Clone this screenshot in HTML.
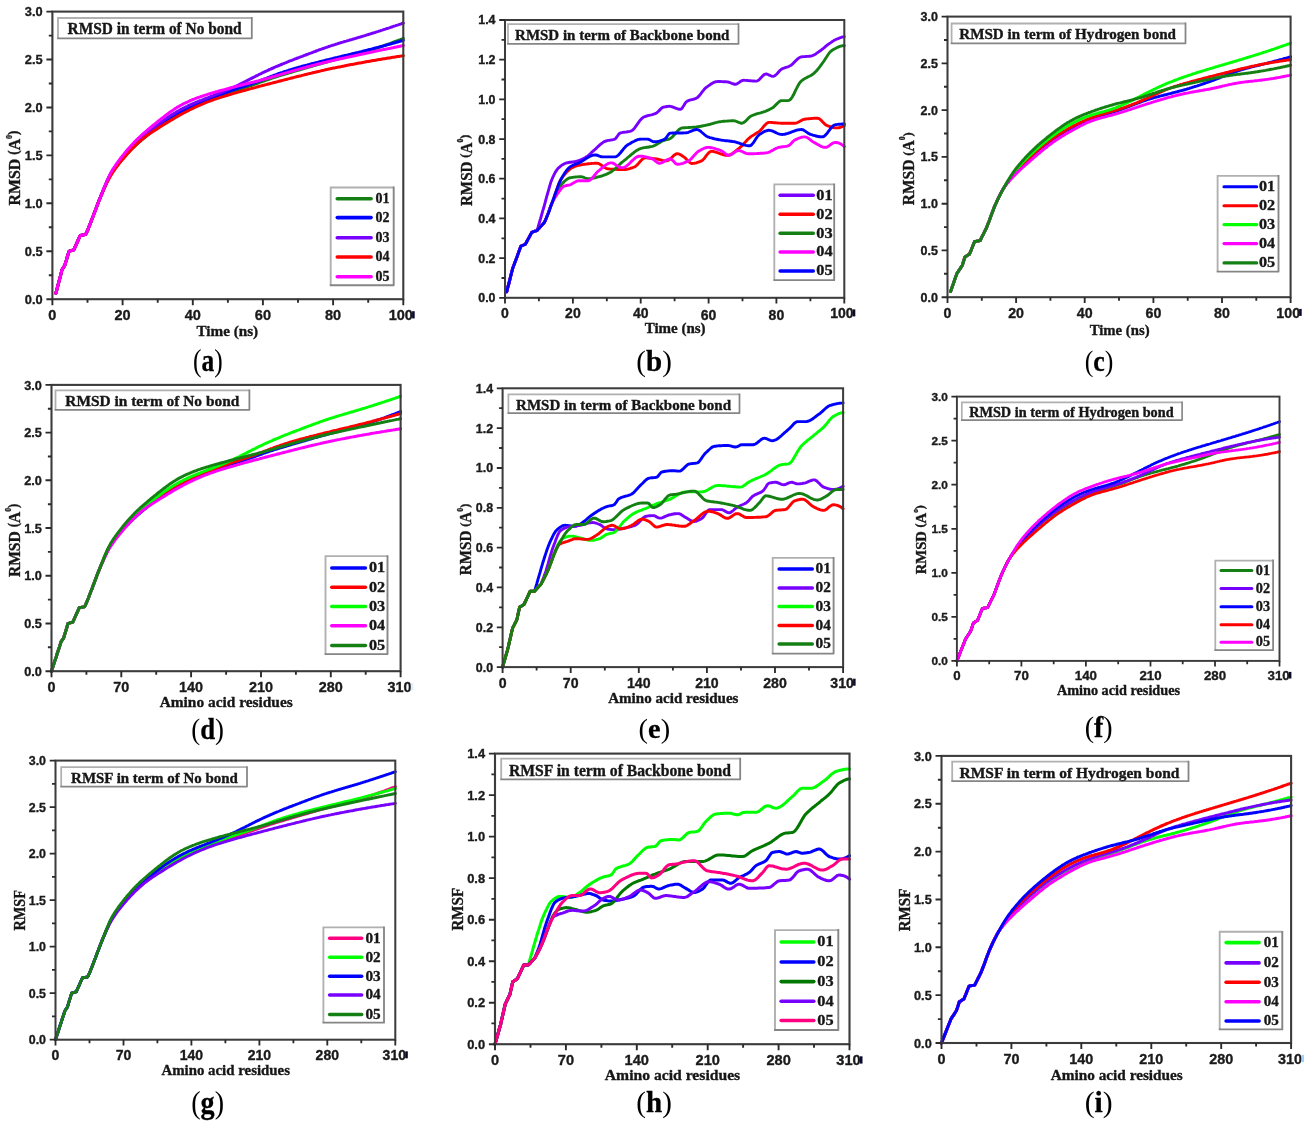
<!DOCTYPE html>
<html><head><meta charset="utf-8"><style>
html,body{margin:0;padding:0;background:#fff;width:1310px;height:1123px;overflow:hidden}
svg{display:block;filter:blur(0.35px)}
text{stroke:currentColor;stroke-width:0.35px;paint-order:stroke}
</style></head><body>
<svg width="1310" height="1123" viewBox="0 0 1310 1123">
<rect width="1310" height="1123" fill="#fff"/>
<path d="M55.9,293.2 L57.1,288.7 L58.2,284.3 L59.4,279.8 L60.6,275.3 L61.7,270.9 L62.1,269.5 L62.9,268.3 L64.0,266.6 L64.7,265.6 L65.2,263.9 L66.4,260.1 L67.5,256.2 L68.7,252.4 L69.0,251.3 L69.9,251.0 L71.0,250.7 L72.2,250.3 L73.3,250.0 L73.8,249.8 L74.5,248.3 L75.7,245.7 L76.8,243.1 L78.0,240.5 L79.1,237.9 L80.3,235.4 L80.3,235.4 L81.5,235.2 L82.6,235.0 L83.8,234.8 L85.0,234.6 L85.6,234.5 L86.1,233.4 L87.3,231.0 L87.7,230.2 L88.4,228.3 L89.6,225.3 L90.8,222.3 L91.9,219.3 L93.1,216.3 L93.1,216.3 L94.2,213.3 L95.4,210.2 L96.6,207.0 L97.7,203.9 L98.9,200.9 L100.1,198.0 L101.2,195.2 L102.4,192.5 L103.5,189.8 L104.7,187.1 L105.9,184.4 L107.0,181.9 L108.2,179.4 L109.4,177.2 L110.5,175.1 L111.7,173.2 L112.8,171.4 L114.0,169.7 L115.2,168.1 L116.3,166.5 L117.5,165.0 L118.6,163.5 L119.8,162.0 L121.0,160.6 L122.1,159.2 L123.3,157.9 L124.5,156.6 L125.6,155.3 L126.8,154.1 L127.9,152.9 L129.1,151.7 L130.3,150.5 L131.4,149.4 L132.6,148.2 L133.8,147.1 L134.9,146.1 L136.1,145.0 L137.2,144.0 L138.4,142.9 L139.6,141.9 L140.7,140.9 L141.9,139.9 L143.0,138.9 L144.2,138.0 L145.4,137.0 L146.5,136.0 L147.7,135.1 L148.9,134.1 L150.0,133.1 L151.2,132.2 L152.3,131.2 L153.5,130.2 L154.7,129.3 L155.8,128.4 L157.0,127.4 L158.2,126.5 L159.3,125.6 L160.5,124.8 L161.6,123.9 L162.8,123.1 L164.0,122.3 L165.1,121.5 L166.3,120.7 L167.4,120.0 L168.6,119.2 L169.8,118.5 L170.9,117.8 L172.1,117.2 L173.3,116.5 L174.4,115.9 L175.6,115.2 L176.7,114.6 L177.9,114.0 L179.1,113.4 L180.2,112.8 L181.4,112.3 L182.5,111.7 L183.7,111.1 L184.9,110.6 L186.0,110.0 L187.2,109.5 L188.4,108.9 L189.5,108.4 L190.7,107.9 L191.8,107.3 L193.0,106.8 L194.2,106.3 L195.3,105.8 L196.5,105.3 L197.7,104.8 L198.8,104.3 L200.0,103.8 L201.1,103.3 L202.3,102.8 L203.5,102.3 L204.6,101.9 L205.8,101.4 L206.9,100.9 L208.1,100.5 L209.3,100.0 L210.4,99.5 L211.6,99.1 L212.8,98.6 L213.9,98.2 L215.1,97.8 L216.2,97.3 L217.4,96.9 L218.6,96.5 L219.7,96.0 L220.9,95.6 L222.1,95.2 L223.2,94.8 L224.4,94.4 L225.5,93.9 L226.7,93.5 L227.9,93.1 L229.0,92.7 L230.2,92.3 L231.3,91.9 L232.5,91.6 L233.7,91.2 L234.8,90.8 L236.0,90.4 L237.2,90.0 L238.3,89.6 L239.5,89.3 L240.6,88.9 L241.8,88.5 L243.0,88.1 L244.1,87.8 L245.3,87.4 L246.5,87.0 L247.6,86.6 L248.8,86.3 L249.9,85.9 L251.1,85.5 L252.3,85.1 L253.4,84.7 L254.6,84.3 L255.7,83.9 L256.9,83.5 L258.1,83.1 L259.2,82.6 L260.4,82.2 L261.6,81.8 L262.7,81.4 L263.9,81.0 L265.0,80.6 L266.2,80.2 L267.4,79.8 L268.5,79.4 L269.7,79.0 L270.8,78.6 L272.0,78.2 L273.2,77.8 L274.3,77.4 L275.5,77.0 L276.7,76.7 L277.8,76.3 L279.0,75.9 L280.1,75.6 L281.3,75.2 L282.5,74.9 L283.6,74.5 L284.8,74.2 L286.0,73.8 L287.1,73.5 L288.3,73.1 L289.4,72.8 L290.6,72.5 L291.8,72.1 L292.9,71.8 L294.1,71.4 L295.2,71.1 L296.4,70.7 L297.6,70.4 L298.7,70.0 L299.9,69.7 L301.1,69.4 L302.2,69.0 L303.4,68.7 L304.5,68.3 L305.7,68.0 L306.9,67.7 L308.0,67.3 L309.2,67.0 L310.4,66.6 L311.5,66.3 L312.7,66.0 L313.8,65.6 L315.0,65.3 L316.2,65.0 L317.3,64.6 L318.5,64.3 L319.6,64.0 L320.8,63.7 L322.0,63.3 L323.1,63.0 L324.3,62.7 L325.5,62.4 L326.6,62.0 L327.8,61.7 L328.9,61.4 L330.1,61.1 L331.3,60.8 L332.4,60.5 L333.6,60.1 L334.8,59.8 L335.9,59.5 L337.1,59.2 L338.2,58.9 L339.4,58.6 L340.6,58.3 L341.7,58.0 L342.9,57.7 L344.0,57.4 L345.2,57.1 L346.4,56.8 L347.5,56.5 L348.7,56.2 L349.9,55.9 L351.0,55.6 L352.2,55.3 L353.3,55.0 L354.5,54.7 L355.7,54.4 L356.8,54.1 L358.0,53.7 L359.1,53.4 L360.3,53.1 L361.5,52.8 L362.6,52.4 L363.8,52.1 L365.0,51.8 L366.1,51.4 L367.3,51.1 L368.4,50.7 L369.6,50.4 L370.8,50.0 L371.9,49.7 L373.1,49.3 L374.3,48.9 L375.4,48.5 L376.6,48.2 L377.7,47.8 L378.9,47.4 L380.1,47.0 L381.2,46.6 L382.4,46.2 L383.5,45.8 L384.7,45.4 L385.9,45.0 L387.0,44.5 L388.2,44.1 L389.4,43.7 L390.5,43.3 L391.7,42.8 L392.8,42.4 L394.0,42.0 L395.2,41.5 L396.3,41.1 L397.5,40.7 L398.7,40.2 L399.8,39.8 L401.0,39.3 L402.1,38.9 L403.3,38.4" fill="none" stroke="#148014" stroke-width="3.00" stroke-linejoin="round" stroke-linecap="round"/>
<path d="M55.9,293.2 L57.1,288.7 L58.2,284.3 L59.4,279.8 L60.6,275.3 L61.7,270.9 L62.1,269.5 L62.9,268.3 L64.0,266.6 L64.7,265.6 L65.2,263.9 L66.4,260.1 L67.5,256.2 L68.7,252.4 L69.0,251.3 L69.9,251.0 L71.0,250.7 L72.2,250.3 L73.3,250.0 L73.8,249.8 L74.5,248.3 L75.7,245.7 L76.8,243.1 L78.0,240.5 L79.1,237.9 L80.3,235.4 L80.3,235.4 L81.5,235.2 L82.6,235.0 L83.8,234.8 L85.0,234.6 L85.6,234.5 L86.1,233.4 L87.3,231.0 L87.7,230.2 L88.4,228.3 L89.6,225.3 L90.8,222.3 L91.9,219.3 L93.1,216.3 L93.1,216.3 L94.2,213.3 L95.4,210.2 L96.6,207.1 L97.7,204.0 L98.9,200.9 L100.1,198.0 L101.2,195.2 L102.4,192.4 L103.5,189.5 L104.7,186.7 L105.9,184.0 L107.0,181.3 L108.2,178.7 L109.4,176.4 L110.5,174.2 L111.7,172.3 L112.8,170.5 L114.0,168.8 L115.2,167.2 L116.3,165.7 L117.5,164.1 L118.6,162.7 L119.8,161.3 L121.0,159.9 L122.1,158.5 L123.3,157.2 L124.5,155.9 L125.6,154.7 L126.8,153.5 L127.9,152.3 L129.1,151.1 L130.3,149.9 L131.4,148.8 L132.6,147.6 L133.8,146.5 L134.9,145.4 L136.1,144.3 L137.2,143.3 L138.4,142.2 L139.6,141.2 L140.7,140.2 L141.9,139.2 L143.0,138.2 L144.2,137.2 L145.4,136.2 L146.5,135.2 L147.7,134.2 L148.9,133.2 L150.0,132.2 L151.2,131.3 L152.3,130.3 L153.5,129.3 L154.7,128.4 L155.8,127.4 L157.0,126.5 L158.2,125.6 L159.3,124.7 L160.5,123.8 L161.6,122.9 L162.8,122.1 L164.0,121.3 L165.1,120.5 L166.3,119.7 L167.4,119.0 L168.6,118.3 L169.8,117.6 L170.9,116.9 L172.1,116.2 L173.3,115.5 L174.4,114.9 L175.6,114.3 L176.7,113.7 L177.9,113.1 L179.1,112.5 L180.2,111.9 L181.4,111.3 L182.5,110.7 L183.7,110.2 L184.9,109.6 L186.0,109.1 L187.2,108.5 L188.4,108.0 L189.5,107.4 L190.7,106.9 L191.8,106.4 L193.0,105.9 L194.2,105.4 L195.3,104.8 L196.5,104.3 L197.7,103.8 L198.8,103.3 L200.0,102.8 L201.1,102.4 L202.3,101.9 L203.5,101.4 L204.6,100.9 L205.8,100.4 L206.9,100.0 L208.1,99.5 L209.3,99.0 L210.4,98.6 L211.6,98.1 L212.8,97.6 L213.9,97.2 L215.1,96.7 L216.2,96.3 L217.4,95.8 L218.6,95.4 L219.7,94.9 L220.9,94.5 L222.1,94.0 L223.2,93.6 L224.4,93.1 L225.5,92.7 L226.7,92.3 L227.9,91.9 L229.0,91.4 L230.2,91.0 L231.3,90.6 L232.5,90.2 L233.7,89.8 L234.8,89.4 L236.0,89.0 L237.2,88.6 L238.3,88.2 L239.5,87.8 L240.6,87.5 L241.8,87.1 L243.0,86.7 L244.1,86.3 L245.3,86.0 L246.5,85.6 L247.6,85.2 L248.8,84.8 L249.9,84.4 L251.1,84.0 L252.3,83.6 L253.4,83.2 L254.6,82.8 L255.7,82.3 L256.9,81.9 L258.1,81.5 L259.2,81.0 L260.4,80.6 L261.6,80.1 L262.7,79.7 L263.9,79.2 L265.0,78.8 L266.2,78.3 L267.4,77.9 L268.5,77.4 L269.7,77.0 L270.8,76.5 L272.0,76.1 L273.2,75.7 L274.3,75.2 L275.5,74.8 L276.7,74.4 L277.8,74.0 L279.0,73.5 L280.1,73.1 L281.3,72.7 L282.5,72.3 L283.6,71.9 L284.8,71.5 L286.0,71.2 L287.1,70.8 L288.3,70.4 L289.4,70.0 L290.6,69.7 L291.8,69.3 L292.9,69.0 L294.1,68.6 L295.2,68.3 L296.4,67.9 L297.6,67.6 L298.7,67.3 L299.9,67.0 L301.1,66.6 L302.2,66.3 L303.4,66.0 L304.5,65.7 L305.7,65.4 L306.9,65.1 L308.0,64.8 L309.2,64.5 L310.4,64.1 L311.5,63.8 L312.7,63.5 L313.8,63.3 L315.0,63.0 L316.2,62.7 L317.3,62.4 L318.5,62.1 L319.6,61.8 L320.8,61.5 L322.0,61.2 L323.1,60.9 L324.3,60.6 L325.5,60.3 L326.6,60.0 L327.8,59.7 L328.9,59.5 L330.1,59.2 L331.3,58.9 L332.4,58.6 L333.6,58.3 L334.8,58.0 L335.9,57.7 L337.1,57.5 L338.2,57.2 L339.4,56.9 L340.6,56.6 L341.7,56.3 L342.9,56.1 L344.0,55.8 L345.2,55.5 L346.4,55.2 L347.5,55.0 L348.7,54.7 L349.9,54.4 L351.0,54.1 L352.2,53.8 L353.3,53.6 L354.5,53.3 L355.7,53.0 L356.8,52.7 L358.0,52.5 L359.1,52.2 L360.3,51.9 L361.5,51.6 L362.6,51.3 L363.8,51.0 L365.0,50.7 L366.1,50.4 L367.3,50.1 L368.4,49.8 L369.6,49.5 L370.8,49.3 L371.9,49.0 L373.1,48.6 L374.3,48.3 L375.4,48.0 L376.6,47.7 L377.7,47.4 L378.9,47.1 L380.1,46.8 L381.2,46.5 L382.4,46.2 L383.5,45.9 L384.7,45.5 L385.9,45.2 L387.0,44.9 L388.2,44.6 L389.4,44.3 L390.5,44.0 L391.7,43.6 L392.8,43.3 L394.0,43.0 L395.2,42.7 L396.3,42.3 L397.5,42.0 L398.7,41.7 L399.8,41.3 L401.0,41.0 L402.1,40.7 L403.3,40.3" fill="none" stroke="#0000ff" stroke-width="3.00" stroke-linejoin="round" stroke-linecap="round"/>
<path d="M55.9,293.2 L57.1,288.7 L58.2,284.3 L59.4,279.8 L60.6,275.3 L61.7,270.9 L62.1,269.5 L62.9,268.3 L64.0,266.6 L64.7,265.6 L65.2,263.9 L66.4,260.1 L67.5,256.2 L68.7,252.4 L69.0,251.3 L69.9,251.0 L71.0,250.7 L72.2,250.3 L73.3,250.0 L73.8,249.8 L74.5,248.3 L75.7,245.7 L76.8,243.1 L78.0,240.5 L79.1,237.9 L80.3,235.4 L80.3,235.4 L81.5,235.2 L82.6,235.0 L83.8,234.8 L85.0,234.6 L85.6,234.5 L86.1,233.4 L87.3,231.0 L87.7,230.2 L88.4,228.3 L89.6,225.3 L90.8,222.3 L91.9,219.3 L93.1,216.3 L93.1,216.3 L94.2,213.3 L95.4,210.2 L96.6,207.1 L97.7,204.0 L98.9,200.9 L100.1,198.0 L101.2,195.2 L102.4,192.4 L103.5,189.6 L104.7,186.8 L105.9,184.0 L107.0,181.3 L108.2,178.8 L109.4,176.4 L110.5,174.3 L111.7,172.3 L112.8,170.5 L114.0,168.7 L115.2,167.1 L116.3,165.4 L117.5,163.8 L118.6,162.3 L119.8,160.8 L121.0,159.4 L122.1,158.0 L123.3,156.6 L124.5,155.3 L125.6,154.0 L126.8,152.7 L127.9,151.5 L129.1,150.3 L130.3,149.1 L131.4,147.9 L132.6,146.7 L133.8,145.6 L134.9,144.5 L136.1,143.4 L137.2,142.3 L138.4,141.3 L139.6,140.3 L140.7,139.2 L141.9,138.2 L143.0,137.2 L144.2,136.2 L145.4,135.2 L146.5,134.2 L147.7,133.2 L148.9,132.2 L150.0,131.3 L151.2,130.3 L152.3,129.3 L153.5,128.3 L154.7,127.4 L155.8,126.4 L157.0,125.5 L158.2,124.6 L159.3,123.6 L160.5,122.7 L161.6,121.8 L162.8,121.0 L164.0,120.1 L165.1,119.3 L166.3,118.5 L167.4,117.6 L168.6,116.9 L169.8,116.1 L170.9,115.3 L172.1,114.6 L173.3,113.9 L174.4,113.2 L175.6,112.5 L176.7,111.8 L177.9,111.1 L179.1,110.5 L180.2,109.8 L181.4,109.2 L182.5,108.6 L183.7,108.0 L184.9,107.4 L186.0,106.8 L187.2,106.3 L188.4,105.7 L189.5,105.2 L190.7,104.7 L191.8,104.1 L193.0,103.6 L194.2,103.1 L195.3,102.6 L196.5,102.2 L197.7,101.7 L198.8,101.2 L200.0,100.7 L201.1,100.3 L202.3,99.8 L203.5,99.4 L204.6,98.9 L205.8,98.5 L206.9,98.0 L208.1,97.6 L209.3,97.1 L210.4,96.7 L211.6,96.2 L212.8,95.8 L213.9,95.3 L215.1,94.9 L216.2,94.4 L217.4,93.9 L218.6,93.5 L219.7,93.0 L220.9,92.6 L222.1,92.1 L223.2,91.6 L224.4,91.2 L225.5,90.7 L226.7,90.2 L227.9,89.7 L229.0,89.2 L230.2,88.7 L231.3,88.2 L232.5,87.7 L233.7,87.2 L234.8,86.6 L236.0,86.1 L237.2,85.5 L238.3,85.0 L239.5,84.4 L240.6,83.9 L241.8,83.3 L243.0,82.7 L244.1,82.1 L245.3,81.5 L246.5,80.9 L247.6,80.3 L248.8,79.7 L249.9,79.1 L251.1,78.5 L252.3,78.0 L253.4,77.4 L254.6,76.8 L255.7,76.2 L256.9,75.6 L258.1,75.0 L259.2,74.4 L260.4,73.9 L261.6,73.3 L262.7,72.7 L263.9,72.2 L265.0,71.6 L266.2,71.1 L267.4,70.6 L268.5,70.0 L269.7,69.5 L270.8,69.0 L272.0,68.5 L273.2,68.0 L274.3,67.4 L275.5,66.9 L276.7,66.4 L277.8,66.0 L279.0,65.5 L280.1,65.0 L281.3,64.5 L282.5,64.0 L283.6,63.5 L284.8,63.1 L286.0,62.6 L287.1,62.1 L288.3,61.7 L289.4,61.2 L290.6,60.7 L291.8,60.3 L292.9,59.8 L294.1,59.4 L295.2,58.9 L296.4,58.5 L297.6,58.0 L298.7,57.6 L299.9,57.1 L301.1,56.7 L302.2,56.3 L303.4,55.8 L304.5,55.4 L305.7,55.0 L306.9,54.5 L308.0,54.1 L309.2,53.6 L310.4,53.2 L311.5,52.8 L312.7,52.3 L313.8,51.9 L315.0,51.5 L316.2,51.0 L317.3,50.6 L318.5,50.2 L319.6,49.7 L320.8,49.3 L322.0,48.9 L323.1,48.5 L324.3,48.1 L325.5,47.7 L326.6,47.3 L327.8,46.9 L328.9,46.5 L330.1,46.1 L331.3,45.7 L332.4,45.3 L333.6,45.0 L334.8,44.6 L335.9,44.2 L337.1,43.9 L338.2,43.5 L339.4,43.1 L340.6,42.8 L341.7,42.4 L342.9,42.1 L344.0,41.7 L345.2,41.4 L346.4,41.1 L347.5,40.7 L348.7,40.4 L349.9,40.0 L351.0,39.7 L352.2,39.4 L353.3,39.0 L354.5,38.7 L355.7,38.3 L356.8,38.0 L358.0,37.6 L359.1,37.3 L360.3,37.0 L361.5,36.6 L362.6,36.3 L363.8,35.9 L365.0,35.6 L366.1,35.2 L367.3,34.8 L368.4,34.5 L369.6,34.1 L370.8,33.8 L371.9,33.4 L373.1,33.0 L374.3,32.7 L375.4,32.3 L376.6,31.9 L377.7,31.6 L378.9,31.2 L380.1,30.8 L381.2,30.4 L382.4,30.1 L383.5,29.7 L384.7,29.3 L385.9,28.9 L387.0,28.5 L388.2,28.2 L389.4,27.8 L390.5,27.4 L391.7,27.0 L392.8,26.6 L394.0,26.2 L395.2,25.8 L396.3,25.4 L397.5,25.1 L398.7,24.7 L399.8,24.3 L401.0,23.9 L402.1,23.5 L403.3,23.1" fill="none" stroke="#7800ff" stroke-width="3.00" stroke-linejoin="round" stroke-linecap="round"/>
<path d="M55.9,293.2 L57.1,288.7 L58.2,284.3 L59.4,279.8 L60.6,275.3 L61.7,270.9 L62.1,269.5 L62.9,268.3 L64.0,266.6 L64.7,265.6 L65.2,263.9 L66.4,260.1 L67.5,256.2 L68.7,252.4 L69.0,251.3 L69.9,251.0 L71.0,250.7 L72.2,250.3 L73.3,250.0 L73.8,249.8 L74.5,248.3 L75.7,245.7 L76.8,243.1 L78.0,240.5 L79.1,237.9 L80.3,235.4 L80.3,235.4 L81.5,235.2 L82.6,235.0 L83.8,234.8 L85.0,234.6 L85.6,234.5 L86.1,233.4 L87.3,231.0 L87.7,230.2 L88.4,228.3 L89.6,225.3 L90.8,222.3 L91.9,219.3 L93.1,216.3 L93.1,216.3 L94.2,213.3 L95.4,210.2 L96.6,207.0 L97.7,203.9 L98.9,200.8 L100.1,198.0 L101.2,195.3 L102.4,192.6 L103.5,190.0 L104.7,187.4 L105.9,184.9 L107.0,182.5 L108.2,180.2 L109.4,178.0 L110.5,176.0 L111.7,174.1 L112.8,172.3 L114.0,170.6 L115.2,169.0 L116.3,167.4 L117.5,165.9 L118.6,164.4 L119.8,162.9 L121.0,161.4 L122.1,160.0 L123.3,158.7 L124.5,157.3 L125.6,156.0 L126.8,154.6 L127.9,153.3 L129.1,152.1 L130.3,150.8 L131.4,149.5 L132.6,148.3 L133.8,147.1 L134.9,146.0 L136.1,144.8 L137.2,143.7 L138.4,142.6 L139.6,141.6 L140.7,140.5 L141.9,139.6 L143.0,138.6 L144.2,137.7 L145.4,136.8 L146.5,135.9 L147.7,135.1 L148.9,134.2 L150.0,133.4 L151.2,132.7 L152.3,131.9 L153.5,131.1 L154.7,130.4 L155.8,129.7 L157.0,128.9 L158.2,128.2 L159.3,127.5 L160.5,126.7 L161.6,126.0 L162.8,125.3 L164.0,124.5 L165.1,123.8 L166.3,123.1 L167.4,122.4 L168.6,121.7 L169.8,121.0 L170.9,120.3 L172.1,119.6 L173.3,118.9 L174.4,118.2 L175.6,117.5 L176.7,116.8 L177.9,116.2 L179.1,115.5 L180.2,114.9 L181.4,114.2 L182.5,113.6 L183.7,113.0 L184.9,112.4 L186.0,111.8 L187.2,111.2 L188.4,110.6 L189.5,110.0 L190.7,109.4 L191.8,108.8 L193.0,108.3 L194.2,107.7 L195.3,107.2 L196.5,106.6 L197.7,106.1 L198.8,105.6 L200.0,105.1 L201.1,104.6 L202.3,104.1 L203.5,103.6 L204.6,103.1 L205.8,102.6 L206.9,102.2 L208.1,101.7 L209.3,101.3 L210.4,100.9 L211.6,100.4 L212.8,100.0 L213.9,99.6 L215.1,99.2 L216.2,98.8 L217.4,98.4 L218.6,98.1 L219.7,97.7 L220.9,97.3 L222.1,96.9 L223.2,96.6 L224.4,96.2 L225.5,95.9 L226.7,95.5 L227.9,95.2 L229.0,94.8 L230.2,94.5 L231.3,94.1 L232.5,93.8 L233.7,93.4 L234.8,93.1 L236.0,92.8 L237.2,92.4 L238.3,92.1 L239.5,91.8 L240.6,91.5 L241.8,91.1 L243.0,90.8 L244.1,90.5 L245.3,90.2 L246.5,89.9 L247.6,89.5 L248.8,89.2 L249.9,88.9 L251.1,88.6 L252.3,88.3 L253.4,88.0 L254.6,87.7 L255.7,87.4 L256.9,87.0 L258.1,86.7 L259.2,86.4 L260.4,86.1 L261.6,85.8 L262.7,85.5 L263.9,85.2 L265.0,84.9 L266.2,84.6 L267.4,84.3 L268.5,84.0 L269.7,83.7 L270.8,83.4 L272.0,83.1 L273.2,82.8 L274.3,82.5 L275.5,82.2 L276.7,81.9 L277.8,81.6 L279.0,81.3 L280.1,81.0 L281.3,80.7 L282.5,80.4 L283.6,80.1 L284.8,79.8 L286.0,79.5 L287.1,79.2 L288.3,78.9 L289.4,78.6 L290.6,78.3 L291.8,78.0 L292.9,77.7 L294.1,77.4 L295.2,77.1 L296.4,76.8 L297.6,76.5 L298.7,76.2 L299.9,75.9 L301.1,75.7 L302.2,75.4 L303.4,75.1 L304.5,74.8 L305.7,74.5 L306.9,74.2 L308.0,73.9 L309.2,73.6 L310.4,73.4 L311.5,73.1 L312.7,72.8 L313.8,72.5 L315.0,72.3 L316.2,72.0 L317.3,71.7 L318.5,71.4 L319.6,71.2 L320.8,70.9 L322.0,70.6 L323.1,70.4 L324.3,70.1 L325.5,69.8 L326.6,69.6 L327.8,69.3 L328.9,69.1 L330.1,68.8 L331.3,68.6 L332.4,68.3 L333.6,68.1 L334.8,67.9 L335.9,67.6 L337.1,67.4 L338.2,67.1 L339.4,66.9 L340.6,66.7 L341.7,66.4 L342.9,66.2 L344.0,66.0 L345.2,65.7 L346.4,65.5 L347.5,65.3 L348.7,65.1 L349.9,64.8 L351.0,64.6 L352.2,64.4 L353.3,64.2 L354.5,64.0 L355.7,63.7 L356.8,63.5 L358.0,63.3 L359.1,63.1 L360.3,62.9 L361.5,62.7 L362.6,62.5 L363.8,62.3 L365.0,62.0 L366.1,61.8 L367.3,61.6 L368.4,61.4 L369.6,61.2 L370.8,61.0 L371.9,60.8 L373.1,60.6 L374.3,60.4 L375.4,60.2 L376.6,60.0 L377.7,59.8 L378.9,59.6 L380.1,59.4 L381.2,59.2 L382.4,59.0 L383.5,58.8 L384.7,58.7 L385.9,58.5 L387.0,58.3 L388.2,58.1 L389.4,57.9 L390.5,57.7 L391.7,57.5 L392.8,57.3 L394.0,57.2 L395.2,57.0 L396.3,56.8 L397.5,56.6 L398.7,56.4 L399.8,56.2 L401.0,56.1 L402.1,55.9 L403.3,55.7" fill="none" stroke="#ff0000" stroke-width="3.00" stroke-linejoin="round" stroke-linecap="round"/>
<path d="M55.9,293.2 L57.1,288.7 L58.2,284.3 L59.4,279.8 L60.6,275.3 L61.7,270.9 L62.1,269.5 L62.9,268.3 L64.0,266.6 L64.7,265.6 L65.2,263.9 L66.4,260.1 L67.5,256.2 L68.7,252.4 L69.0,251.3 L69.9,251.0 L71.0,250.7 L72.2,250.3 L73.3,250.0 L73.8,249.8 L74.5,248.3 L75.7,245.7 L76.8,243.1 L78.0,240.5 L79.1,237.9 L80.3,235.4 L80.3,235.4 L81.5,235.2 L82.6,235.0 L83.8,234.8 L85.0,234.6 L85.6,234.5 L86.1,233.4 L87.3,231.0 L87.7,230.2 L88.4,228.3 L89.6,225.3 L90.8,222.3 L91.9,219.3 L93.1,216.3 L93.1,216.3 L94.2,213.3 L95.4,210.2 L96.6,207.1 L97.7,204.0 L98.9,201.0 L100.1,198.0 L101.2,195.2 L102.4,192.3 L103.5,189.3 L104.7,186.4 L105.9,183.6 L107.0,180.8 L108.2,178.1 L109.4,175.6 L110.5,173.3 L111.7,171.2 L112.8,169.3 L114.0,167.5 L115.2,165.8 L116.3,164.1 L117.5,162.5 L118.6,160.9 L119.8,159.3 L121.0,157.8 L122.1,156.3 L123.3,154.9 L124.5,153.4 L125.6,152.0 L126.8,150.6 L127.9,149.3 L129.1,147.9 L130.3,146.6 L131.4,145.3 L132.6,144.1 L133.8,142.8 L134.9,141.6 L136.1,140.4 L137.2,139.3 L138.4,138.2 L139.6,137.0 L140.7,136.0 L141.9,134.9 L143.0,133.9 L144.2,132.8 L145.4,131.8 L146.5,130.8 L147.7,129.8 L148.9,128.9 L150.0,127.9 L151.2,126.9 L152.3,126.0 L153.5,125.0 L154.7,124.1 L155.8,123.1 L157.0,122.2 L158.2,121.2 L159.3,120.3 L160.5,119.4 L161.6,118.5 L162.8,117.6 L164.0,116.7 L165.1,115.8 L166.3,114.9 L167.4,114.0 L168.6,113.2 L169.8,112.3 L170.9,111.5 L172.1,110.7 L173.3,109.9 L174.4,109.1 L175.6,108.4 L176.7,107.6 L177.9,106.9 L179.1,106.3 L180.2,105.6 L181.4,105.0 L182.5,104.3 L183.7,103.7 L184.9,103.2 L186.0,102.6 L187.2,102.1 L188.4,101.5 L189.5,101.0 L190.7,100.5 L191.8,100.0 L193.0,99.5 L194.2,99.1 L195.3,98.6 L196.5,98.2 L197.7,97.7 L198.8,97.3 L200.0,96.9 L201.1,96.5 L202.3,96.1 L203.5,95.7 L204.6,95.3 L205.8,94.9 L206.9,94.6 L208.1,94.2 L209.3,93.8 L210.4,93.5 L211.6,93.1 L212.8,92.8 L213.9,92.5 L215.1,92.1 L216.2,91.8 L217.4,91.5 L218.6,91.1 L219.7,90.8 L220.9,90.5 L222.1,90.2 L223.2,89.9 L224.4,89.6 L225.5,89.3 L226.7,88.9 L227.9,88.6 L229.0,88.3 L230.2,88.0 L231.3,87.7 L232.5,87.4 L233.7,87.1 L234.8,86.8 L236.0,86.5 L237.2,86.2 L238.3,85.9 L239.5,85.6 L240.6,85.3 L241.8,85.0 L243.0,84.7 L244.1,84.4 L245.3,84.1 L246.5,83.8 L247.6,83.5 L248.8,83.2 L249.9,82.9 L251.1,82.6 L252.3,82.4 L253.4,82.1 L254.6,81.8 L255.7,81.5 L256.9,81.2 L258.1,80.9 L259.2,80.6 L260.4,80.2 L261.6,79.9 L262.7,79.6 L263.9,79.3 L265.0,79.0 L266.2,78.7 L267.4,78.4 L268.5,78.0 L269.7,77.7 L270.8,77.4 L272.0,77.0 L273.2,76.7 L274.3,76.4 L275.5,76.0 L276.7,75.7 L277.8,75.3 L279.0,75.0 L280.1,74.6 L281.3,74.3 L282.5,73.9 L283.6,73.6 L284.8,73.3 L286.0,72.9 L287.1,72.6 L288.3,72.2 L289.4,71.9 L290.6,71.6 L291.8,71.2 L292.9,70.9 L294.1,70.6 L295.2,70.2 L296.4,69.9 L297.6,69.6 L298.7,69.3 L299.9,68.9 L301.1,68.6 L302.2,68.3 L303.4,68.0 L304.5,67.7 L305.7,67.4 L306.9,67.0 L308.0,66.7 L309.2,66.4 L310.4,66.1 L311.5,65.8 L312.7,65.5 L313.8,65.2 L315.0,64.9 L316.2,64.6 L317.3,64.3 L318.5,64.0 L319.6,63.7 L320.8,63.4 L322.0,63.1 L323.1,62.8 L324.3,62.5 L325.5,62.3 L326.6,62.0 L327.8,61.7 L328.9,61.4 L330.1,61.1 L331.3,60.9 L332.4,60.6 L333.6,60.3 L334.8,60.0 L335.9,59.8 L337.1,59.5 L338.2,59.3 L339.4,59.0 L340.6,58.7 L341.7,58.5 L342.9,58.2 L344.0,58.0 L345.2,57.7 L346.4,57.5 L347.5,57.2 L348.7,57.0 L349.9,56.7 L351.0,56.5 L352.2,56.2 L353.3,56.0 L354.5,55.7 L355.7,55.5 L356.8,55.2 L358.0,55.0 L359.1,54.7 L360.3,54.5 L361.5,54.2 L362.6,54.0 L363.8,53.8 L365.0,53.5 L366.1,53.3 L367.3,53.0 L368.4,52.8 L369.6,52.5 L370.8,52.3 L371.9,52.0 L373.1,51.8 L374.3,51.5 L375.4,51.3 L376.6,51.1 L377.7,50.8 L378.9,50.6 L380.1,50.3 L381.2,50.1 L382.4,49.8 L383.5,49.6 L384.7,49.4 L385.9,49.1 L387.0,48.9 L388.2,48.6 L389.4,48.4 L390.5,48.2 L391.7,47.9 L392.8,47.7 L394.0,47.4 L395.2,47.2 L396.3,47.0 L397.5,46.7 L398.7,46.5 L399.8,46.3 L401.0,46.0 L402.1,45.8 L403.3,45.5" fill="none" stroke="#ff00ff" stroke-width="3.00" stroke-linejoin="round" stroke-linecap="round"/>
<rect x="52.4" y="11.6" width="350.9" height="287.6" fill="none" stroke="#3c3c3c" stroke-width="2.10"/>
<path d="M52.4,299.2V305.2M122.6,299.2V305.2M192.8,299.2V305.2M262.9,299.2V305.2M333.1,299.2V305.2M403.3,299.2V305.2M87.5,299.2V302.8M157.7,299.2V302.8M227.9,299.2V302.8M298.0,299.2V302.8M368.2,299.2V302.8M52.4,299.2H46.4M52.4,251.3H46.4M52.4,203.3H46.4M52.4,155.4H46.4M52.4,107.5H46.4M52.4,59.5H46.4M52.4,11.6H46.4M52.4,275.2H48.8M52.4,227.3H48.8M52.4,179.4H48.8M52.4,131.4H48.8M52.4,83.5H48.8M52.4,35.6H48.8" stroke="#2b2b2b" stroke-width="1.90" fill="none"/>
<text x="52.4" y="320.2" font-size="14.5" text-anchor="middle" font-family="'Liberation Sans', sans-serif" font-weight="bold" fill="#1a1a1a" color="#1a1a1a">0</text>
<text x="122.6" y="320.2" font-size="14.5" text-anchor="middle" font-family="'Liberation Sans', sans-serif" font-weight="bold" fill="#1a1a1a" color="#1a1a1a">20</text>
<text x="192.8" y="320.2" font-size="14.5" text-anchor="middle" font-family="'Liberation Sans', sans-serif" font-weight="bold" fill="#1a1a1a" color="#1a1a1a">40</text>
<text x="262.9" y="320.2" font-size="14.5" text-anchor="middle" font-family="'Liberation Sans', sans-serif" font-weight="bold" fill="#1a1a1a" color="#1a1a1a">60</text>
<text x="333.1" y="320.2" font-size="14.5" text-anchor="middle" font-family="'Liberation Sans', sans-serif" font-weight="bold" fill="#1a1a1a" color="#1a1a1a">80</text>
<text x="400.8" y="320.2" font-size="14.5" text-anchor="middle" font-family="'Liberation Sans', sans-serif" font-weight="bold" fill="#1a1a1a" color="#1a1a1a">100</text>
<rect x="412.1" y="311.2" width="2.6" height="7.2" fill="#0a0a30"/>
<text x="42.6" y="303.8" font-size="12.8" text-anchor="end" font-family="'Liberation Sans', sans-serif" font-weight="bold" fill="#1a1a1a" color="#1a1a1a">0.0</text>
<text x="42.6" y="255.9" font-size="12.8" text-anchor="end" font-family="'Liberation Sans', sans-serif" font-weight="bold" fill="#1a1a1a" color="#1a1a1a">0.5</text>
<text x="42.6" y="207.9" font-size="12.8" text-anchor="end" font-family="'Liberation Sans', sans-serif" font-weight="bold" fill="#1a1a1a" color="#1a1a1a">1.0</text>
<text x="42.6" y="160.0" font-size="12.8" text-anchor="end" font-family="'Liberation Sans', sans-serif" font-weight="bold" fill="#1a1a1a" color="#1a1a1a">1.5</text>
<text x="42.6" y="112.1" font-size="12.8" text-anchor="end" font-family="'Liberation Sans', sans-serif" font-weight="bold" fill="#1a1a1a" color="#1a1a1a">2.0</text>
<text x="42.6" y="64.1" font-size="12.8" text-anchor="end" font-family="'Liberation Sans', sans-serif" font-weight="bold" fill="#1a1a1a" color="#1a1a1a">2.5</text>
<text x="42.6" y="16.2" font-size="12.8" text-anchor="end" font-family="'Liberation Sans', sans-serif" font-weight="bold" fill="#1a1a1a" color="#1a1a1a">3.0</text>
<rect x="58.0" y="18.0" width="193.8" height="20.3" fill="#fff"/><path d="M58.0,38.3V18.0M57.1,18.0H251.8" stroke="#b0b0b0" stroke-width="1.80" fill="none"/><path d="M57.1,38.3H251.8V17.1" stroke="#858585" stroke-width="1.80" fill="none" stroke-linejoin="round"/>
<text x="67.6" y="33.9" font-size="16.0" font-family="'Liberation Serif', serif" font-weight="bold" fill="#161616" color="#161616" textLength="174.0" lengthAdjust="spacingAndGlyphs">RMSD in term of No bond</text>
<rect x="330.7" y="187.5" width="63.0" height="97.8" fill="#fff"/><path d="M330.7,285.3V187.5M329.8,187.5H393.7" stroke="#b0b0b0" stroke-width="1.90" fill="none"/><path d="M329.8,285.3H393.7V186.6" stroke="#858585" stroke-width="1.90" fill="none" stroke-linejoin="round"/>
<path d="M337.3,198.7H371.1" stroke="#148014" stroke-width="3.60" stroke-linecap="round"/>
<text x="375.6" y="203.1" font-size="15.5" font-family="'Liberation Serif', serif" font-weight="bold" fill="#161616" color="#161616" textLength="14.0" lengthAdjust="spacingAndGlyphs">01</text>
<path d="M337.3,217.6H371.1" stroke="#0000ff" stroke-width="3.60" stroke-linecap="round"/>
<text x="375.6" y="222.0" font-size="15.5" font-family="'Liberation Serif', serif" font-weight="bold" fill="#161616" color="#161616" textLength="14.0" lengthAdjust="spacingAndGlyphs">02</text>
<path d="M337.3,237.7H371.1" stroke="#7800ff" stroke-width="3.60" stroke-linecap="round"/>
<text x="375.6" y="242.1" font-size="15.5" font-family="'Liberation Serif', serif" font-weight="bold" fill="#161616" color="#161616" textLength="14.0" lengthAdjust="spacingAndGlyphs">03</text>
<path d="M337.3,257.0H371.1" stroke="#ff0000" stroke-width="3.60" stroke-linecap="round"/>
<text x="375.6" y="261.4" font-size="15.5" font-family="'Liberation Serif', serif" font-weight="bold" fill="#161616" color="#161616" textLength="14.0" lengthAdjust="spacingAndGlyphs">04</text>
<path d="M337.3,276.7H371.1" stroke="#ff00ff" stroke-width="3.60" stroke-linecap="round"/>
<text x="375.6" y="281.1" font-size="15.5" font-family="'Liberation Serif', serif" font-weight="bold" fill="#161616" color="#161616" textLength="14.0" lengthAdjust="spacingAndGlyphs">05</text>
<text x="196.4" y="336.4" font-size="15.5" font-family="'Liberation Serif', serif" font-weight="bold" fill="#161616" color="#161616" textLength="61.8" lengthAdjust="spacingAndGlyphs">Time (ns)</text>
<text transform="translate(20.4,205.4) rotate(-90)" x="0" y="0" font-size="17.0" font-family="'Liberation Serif', serif" font-weight="bold" fill="#161616" color="#161616" textLength="74.8" lengthAdjust="spacingAndGlyphs">RMSD <tspan font-size="13.9" dy="-2.21">(</tspan><tspan font-size="17.0" dy="2.21">A</tspan><tspan font-size="8.5" dy="-8.84">0</tspan><tspan font-size="13.9" dy="6.63">)</tspan></text>
<text x="193.0" y="371.0" font-size="30.6" font-family="'Liberation Serif', serif" fill="#000" color="#000" style="stroke-width:0" textLength="29.7" lengthAdjust="spacingAndGlyphs">(<tspan font-weight="bold" style="stroke-width:0.3px">a</tspan>)</text>
<path d="M506.7,291.8 L507.8,287.4 L509.0,283.0 L510.1,278.6 L511.2,274.2 L512.3,269.8 L512.8,268.0 L513.5,266.2 L514.6,263.2 L515.7,260.2 L516.9,257.2 L518.0,254.1 L519.1,251.1 L520.2,248.1 L520.9,246.2 L521.4,246.0 L522.5,245.5 L523.6,245.0 L524.8,244.5 L525.4,244.2 L525.9,243.2 L527.0,241.2 L528.1,239.1 L529.3,237.0 L530.4,234.9 L531.5,232.8 L531.8,232.3 L532.7,232.0 L533.8,231.6 L534.9,231.2 L536.1,230.8 L537.2,230.4 L537.2,230.3 L538.3,226.5 L539.4,222.5 L540.6,218.5 L541.7,214.5 L542.8,210.7 L544.0,206.8 L545.1,202.7 L546.2,198.4 L546.7,196.6 L547.3,194.5 L548.5,190.4 L549.6,186.4 L550.7,182.6 L551.9,179.5 L553.0,176.9 L554.1,174.6 L555.2,172.4 L556.4,170.6 L557.5,169.0 L558.6,167.8 L559.8,166.8 L560.9,165.9 L562.0,165.1 L563.2,164.4 L564.3,163.8 L565.4,163.3 L566.5,162.9 L567.7,162.7 L568.8,162.5 L569.9,162.3 L571.1,162.2 L572.2,162.0 L573.3,161.9 L574.4,161.7 L575.6,161.5 L576.7,161.2 L577.8,160.9 L579.0,160.5 L580.1,160.1 L581.2,159.6 L582.3,159.1 L583.5,158.5 L584.6,157.9 L585.7,157.3 L586.9,156.6 L588.0,155.8 L589.1,154.8 L590.3,153.7 L591.4,152.6 L592.5,151.6 L593.6,150.6 L594.8,149.6 L595.9,148.6 L597.0,147.5 L598.2,146.4 L599.3,145.4 L600.4,144.4 L601.5,143.5 L602.7,142.7 L603.8,141.9 L604.9,141.4 L606.1,141.0 L607.2,140.7 L608.3,140.4 L609.4,140.3 L610.6,140.1 L611.7,139.9 L612.8,139.7 L614.0,139.4 L615.1,139.0 L616.2,137.9 L617.3,136.3 L618.5,134.5 L619.6,133.3 L620.7,132.9 L621.9,132.6 L623.0,132.4 L624.1,132.2 L625.3,132.1 L626.4,132.0 L627.5,131.8 L628.6,131.6 L629.8,131.4 L630.9,131.1 L632.0,130.5 L633.2,129.6 L634.3,128.4 L635.4,126.9 L636.5,125.4 L637.7,123.7 L638.8,122.1 L639.9,120.5 L641.1,119.2 L642.2,118.1 L643.3,117.3 L644.4,116.8 L645.6,116.3 L646.7,116.0 L647.8,115.7 L649.0,115.4 L650.1,115.1 L651.2,114.9 L652.4,114.6 L653.5,114.2 L654.6,113.9 L655.7,113.4 L656.9,112.7 L658.0,111.7 L659.1,110.6 L660.3,109.4 L661.4,108.3 L662.5,107.5 L663.6,107.2 L664.8,106.9 L665.9,106.7 L667.0,106.5 L668.2,106.4 L669.3,106.3 L670.4,106.4 L671.5,106.6 L672.7,107.0 L673.8,107.4 L674.9,107.9 L676.1,108.3 L677.2,108.7 L678.3,109.0 L679.5,109.2 L680.6,109.3 L681.7,108.6 L682.8,107.1 L684.0,105.2 L685.1,103.3 L686.2,101.9 L687.4,101.1 L688.5,100.6 L689.6,100.2 L690.7,99.9 L691.9,99.6 L693.0,99.3 L694.1,99.0 L695.3,98.6 L696.4,98.1 L697.5,97.5 L698.6,96.4 L699.8,95.1 L700.9,93.7 L702.0,92.2 L703.2,90.7 L704.3,89.3 L705.4,88.1 L706.5,87.2 L707.7,86.4 L708.8,85.6 L709.9,84.8 L711.1,84.0 L712.2,83.3 L713.3,82.7 L714.5,82.2 L715.6,81.8 L716.7,81.6 L717.8,81.5 L719.0,81.5 L720.1,81.5 L721.2,81.6 L722.4,81.6 L723.5,81.7 L724.6,81.7 L725.7,81.8 L726.9,81.9 L728.0,82.0 L729.1,82.3 L730.3,82.7 L731.4,83.2 L732.5,83.7 L733.6,84.0 L734.8,84.3 L735.9,84.2 L737.0,83.8 L738.2,83.1 L739.3,82.3 L740.4,81.5 L741.6,80.8 L742.7,80.4 L743.8,80.3 L744.9,80.4 L746.1,80.4 L747.2,80.5 L748.3,80.6 L749.5,80.7 L750.6,80.8 L751.7,80.9 L752.8,81.0 L754.0,81.0 L755.1,81.1 L756.2,81.1 L757.4,80.9 L758.5,80.2 L759.6,79.2 L760.7,78.0 L761.9,76.8 L763.0,75.6 L764.1,74.6 L765.3,74.1 L766.4,74.0 L767.5,74.3 L768.6,74.8 L769.8,75.3 L770.9,75.8 L772.0,76.2 L773.2,76.4 L774.3,76.0 L775.4,75.3 L776.6,74.2 L777.7,73.0 L778.8,71.7 L779.9,70.5 L781.1,69.5 L782.2,68.8 L783.3,68.3 L784.5,67.9 L785.6,67.5 L786.7,67.2 L787.8,66.8 L789.0,66.3 L790.1,65.8 L791.2,65.1 L792.4,64.1 L793.5,63.0 L794.6,61.9 L795.7,60.7 L796.9,59.6 L798.0,58.6 L799.1,57.8 L800.3,57.2 L801.4,56.9 L802.5,56.7 L803.7,56.6 L804.8,56.6 L805.9,56.5 L807.0,56.4 L808.2,56.4 L809.3,56.3 L810.4,56.2 L811.6,55.9 L812.7,55.6 L813.8,55.0 L814.9,54.4 L816.1,53.7 L817.2,52.9 L818.3,52.1 L819.5,51.3 L820.6,50.5 L821.7,49.7 L822.8,48.8 L824.0,47.9 L825.1,46.9 L826.2,45.9 L827.4,45.0 L828.5,44.2 L829.6,43.4 L830.8,42.6 L831.9,41.8 L833.0,41.1 L834.1,40.4 L835.3,39.8 L836.4,39.2 L837.5,38.8 L838.7,38.3 L839.8,37.9 L840.9,37.5 L842.0,37.2 L843.2,36.9 L844.3,36.7" fill="none" stroke="#7800ff" stroke-width="2.90" stroke-linejoin="round" stroke-linecap="round"/>
<path d="M506.7,291.8 L507.8,287.4 L509.0,283.0 L510.1,278.6 L511.2,274.2 L512.3,269.8 L512.8,268.0 L513.5,266.2 L514.6,263.2 L515.7,260.2 L516.9,257.2 L518.0,254.1 L519.1,251.1 L520.2,248.1 L520.9,246.2 L521.4,246.0 L522.5,245.5 L523.6,245.0 L524.8,244.5 L525.4,244.2 L525.9,243.2 L527.0,241.2 L528.1,239.1 L529.3,237.0 L530.4,234.9 L531.5,232.8 L531.8,232.3 L532.7,232.0 L533.8,231.6 L534.9,231.2 L536.1,230.8 L537.2,230.4 L537.2,230.3 L538.3,229.1 L539.4,227.9 L540.6,226.6 L541.7,225.4 L542.8,224.1 L544.0,222.9 L544.4,222.4 L545.1,220.8 L546.2,218.3 L547.3,215.7 L548.5,212.8 L549.6,209.7 L550.7,206.4 L551.9,203.3 L553.0,200.3 L554.1,197.1 L555.2,193.8 L556.4,190.4 L557.5,187.2 L558.6,184.2 L559.8,181.5 L560.9,179.4 L562.0,177.8 L563.2,176.2 L564.3,174.8 L565.4,173.5 L566.5,172.2 L567.7,171.1 L568.8,170.1 L569.9,169.1 L571.1,168.3 L572.2,167.6 L573.3,167.1 L574.4,166.6 L575.6,166.2 L576.7,165.9 L577.8,165.5 L579.0,165.2 L580.1,165.0 L581.2,164.8 L582.3,164.6 L583.5,164.4 L584.6,164.2 L585.7,164.1 L586.9,164.0 L588.0,163.8 L589.1,163.7 L590.3,163.6 L591.4,163.5 L592.5,163.4 L593.6,163.4 L594.8,163.3 L595.9,163.3 L597.0,163.3 L598.2,163.4 L599.3,163.9 L600.4,164.5 L601.5,165.3 L602.7,166.1 L603.8,167.0 L604.9,167.7 L606.1,168.3 L607.2,168.7 L608.3,168.9 L609.4,169.0 L610.6,169.1 L611.7,169.2 L612.8,169.2 L614.0,169.3 L615.1,169.4 L616.2,169.4 L617.3,169.5 L618.5,169.5 L619.6,169.6 L620.7,169.6 L621.9,169.6 L623.0,169.6 L624.1,169.6 L625.3,169.5 L626.4,169.4 L627.5,169.2 L628.6,168.9 L629.8,168.6 L630.9,168.2 L632.0,167.8 L633.2,167.4 L634.3,167.0 L635.4,166.4 L636.5,165.5 L637.7,164.4 L638.8,163.1 L639.9,161.8 L641.1,160.5 L642.2,159.4 L643.3,158.5 L644.4,158.0 L645.6,157.9 L646.7,157.9 L647.8,158.0 L649.0,158.1 L650.1,158.2 L651.2,158.3 L652.4,158.4 L653.5,158.6 L654.6,158.7 L655.7,158.9 L656.9,159.0 L658.0,159.3 L659.1,159.5 L660.3,159.8 L661.4,160.1 L662.5,160.4 L663.6,160.6 L664.8,160.8 L665.9,160.9 L667.0,160.8 L668.2,160.4 L669.3,159.7 L670.4,158.8 L671.5,157.7 L672.7,156.6 L673.8,155.5 L674.9,154.7 L676.1,154.0 L677.2,153.7 L678.3,153.9 L679.5,154.2 L680.6,154.8 L681.7,155.5 L682.8,156.3 L684.0,157.0 L685.1,157.9 L686.2,159.0 L687.4,160.2 L688.5,161.4 L689.6,162.4 L690.7,163.2 L691.9,163.5 L693.0,163.4 L694.1,163.3 L695.3,163.1 L696.4,162.8 L697.5,162.4 L698.6,162.0 L699.8,161.6 L700.9,161.1 L702.0,160.6 L703.2,159.6 L704.3,158.4 L705.4,156.9 L706.5,155.4 L707.7,153.9 L708.8,152.7 L709.9,151.8 L711.1,151.4 L712.2,151.4 L713.3,151.5 L714.5,151.8 L715.6,152.1 L716.7,152.4 L717.8,152.8 L719.0,153.2 L720.1,153.7 L721.2,154.1 L722.4,154.4 L723.5,154.8 L724.6,155.0 L725.7,155.2 L726.9,155.3 L728.0,155.3 L729.1,155.1 L730.3,154.6 L731.4,154.1 L732.5,153.4 L733.6,152.6 L734.8,151.8 L735.9,150.9 L737.0,149.9 L738.2,149.0 L739.3,148.1 L740.4,147.2 L741.6,146.2 L742.7,145.0 L743.8,143.8 L744.9,142.5 L746.1,141.2 L747.2,140.0 L748.3,138.8 L749.5,137.8 L750.6,136.9 L751.7,136.1 L752.8,135.4 L754.0,134.7 L755.1,134.0 L756.2,133.3 L757.4,132.6 L758.5,131.9 L759.6,131.0 L760.7,130.0 L761.9,128.7 L763.0,127.3 L764.1,125.9 L765.3,124.7 L766.4,123.6 L767.5,122.8 L768.6,122.4 L769.8,122.4 L770.9,122.4 L772.0,122.5 L773.2,122.6 L774.3,122.7 L775.4,122.8 L776.6,122.9 L777.7,123.0 L778.8,123.1 L779.9,123.1 L781.1,123.2 L782.2,123.2 L783.3,123.2 L784.5,123.2 L785.6,123.2 L786.7,123.2 L787.8,123.2 L789.0,123.2 L790.1,123.2 L791.2,123.2 L792.4,123.2 L793.5,123.2 L794.6,123.2 L795.7,123.1 L796.9,122.8 L798.0,122.3 L799.1,121.7 L800.3,121.0 L801.4,120.4 L802.5,119.8 L803.7,119.4 L804.8,119.2 L805.9,119.0 L807.0,118.9 L808.2,118.8 L809.3,118.7 L810.4,118.6 L811.6,118.5 L812.7,118.4 L813.8,118.3 L814.9,118.3 L816.1,118.2 L817.2,118.2 L818.3,118.4 L819.5,118.9 L820.6,119.8 L821.7,120.9 L822.8,122.1 L824.0,123.3 L825.1,124.4 L826.2,125.2 L827.4,125.7 L828.5,126.1 L829.6,126.5 L830.8,126.9 L831.9,127.2 L833.0,127.5 L834.1,127.7 L835.3,127.9 L836.4,127.9 L837.5,127.9 L838.7,127.8 L839.8,127.5 L840.9,127.2 L842.0,126.7 L843.2,126.2 L844.3,125.6" fill="none" stroke="#ff0000" stroke-width="2.90" stroke-linejoin="round" stroke-linecap="round"/>
<path d="M506.7,291.8 L507.8,287.4 L509.0,283.0 L510.1,278.6 L511.2,274.2 L512.3,269.8 L512.8,268.0 L513.5,266.2 L514.6,263.2 L515.7,260.2 L516.9,257.2 L518.0,254.1 L519.1,251.1 L520.2,248.1 L520.9,246.2 L521.4,246.0 L522.5,245.5 L523.6,245.0 L524.8,244.5 L525.4,244.2 L525.9,243.2 L527.0,241.2 L528.1,239.1 L529.3,237.0 L530.4,234.9 L531.5,232.8 L531.8,232.3 L532.7,232.0 L533.8,231.6 L534.9,231.2 L536.1,230.8 L537.2,230.4 L537.2,230.3 L538.3,229.1 L539.4,227.9 L540.6,226.6 L541.7,225.4 L542.8,224.1 L544.0,222.9 L544.4,222.4 L545.1,220.8 L546.2,218.2 L547.3,215.5 L548.5,212.5 L549.6,209.3 L550.7,206.1 L551.9,203.2 L553.0,200.7 L554.1,198.2 L555.2,195.8 L556.4,193.4 L557.5,191.2 L558.6,189.0 L559.8,187.1 L560.9,185.3 L562.0,183.8 L563.2,182.6 L564.3,181.5 L565.4,180.5 L566.5,179.6 L567.7,178.8 L568.8,178.2 L569.9,177.8 L571.1,177.6 L572.2,177.4 L573.3,177.3 L574.4,177.1 L575.6,177.0 L576.7,176.9 L577.8,176.9 L579.0,176.8 L580.1,176.8 L581.2,176.8 L582.3,176.9 L583.5,177.3 L584.6,177.8 L585.7,178.2 L586.9,178.6 L588.0,178.7 L589.1,178.7 L590.3,178.6 L591.4,178.5 L592.5,178.3 L593.6,178.0 L594.8,177.8 L595.9,177.5 L597.0,177.2 L598.2,176.9 L599.3,176.6 L600.4,176.3 L601.5,176.0 L602.7,175.6 L603.8,175.2 L604.9,174.8 L606.1,174.4 L607.2,173.9 L608.3,173.4 L609.4,172.8 L610.6,172.2 L611.7,171.5 L612.8,170.6 L614.0,169.7 L615.1,168.7 L616.2,167.7 L617.3,166.6 L618.5,165.6 L619.6,164.5 L620.7,163.4 L621.9,162.4 L623.0,161.5 L624.1,160.6 L625.3,159.7 L626.4,158.8 L627.5,157.8 L628.6,156.8 L629.8,155.9 L630.9,154.9 L632.0,154.0 L633.2,153.1 L634.3,152.2 L635.4,151.4 L636.5,150.6 L637.7,149.9 L638.8,149.3 L639.9,148.8 L641.1,148.4 L642.2,148.1 L643.3,147.8 L644.4,147.6 L645.6,147.5 L646.7,147.3 L647.8,147.2 L649.0,147.0 L650.1,146.8 L651.2,146.6 L652.4,146.4 L653.5,146.0 L654.6,145.5 L655.7,145.0 L656.9,144.3 L658.0,143.6 L659.1,142.9 L660.3,142.2 L661.4,141.6 L662.5,141.0 L663.6,140.5 L664.8,140.1 L665.9,139.8 L667.0,139.6 L668.2,139.3 L669.3,139.0 L670.4,138.5 L671.5,137.6 L672.7,136.6 L673.8,135.3 L674.9,134.0 L676.1,132.7 L677.2,131.4 L678.3,130.2 L679.5,129.2 L680.6,128.5 L681.7,128.0 L682.8,127.9 L684.0,127.8 L685.1,127.7 L686.2,127.6 L687.4,127.6 L688.5,127.5 L689.6,127.5 L690.7,127.4 L691.9,127.4 L693.0,127.3 L694.1,127.2 L695.3,127.1 L696.4,127.0 L697.5,126.8 L698.6,126.7 L699.8,126.5 L700.9,126.3 L702.0,126.0 L703.2,125.8 L704.3,125.6 L705.4,125.3 L706.5,125.1 L707.7,124.8 L708.8,124.6 L709.9,124.3 L711.1,124.0 L712.2,123.6 L713.3,123.3 L714.5,123.0 L715.6,122.6 L716.7,122.4 L717.8,122.1 L719.0,121.9 L720.1,121.7 L721.2,121.6 L722.4,121.4 L723.5,121.3 L724.6,121.2 L725.7,121.1 L726.9,121.1 L728.0,121.0 L729.1,120.9 L730.3,120.9 L731.4,120.8 L732.5,120.8 L733.6,120.8 L734.8,120.9 L735.9,121.2 L737.0,121.7 L738.2,122.2 L739.3,122.6 L740.4,123.0 L741.6,123.2 L742.7,123.1 L743.8,122.5 L744.9,121.7 L746.1,120.6 L747.2,119.4 L748.3,118.2 L749.5,117.2 L750.6,116.3 L751.7,115.7 L752.8,115.2 L754.0,114.8 L755.1,114.4 L756.2,114.0 L757.4,113.7 L758.5,113.4 L759.6,113.1 L760.7,112.8 L761.9,112.4 L763.0,112.1 L764.1,111.7 L765.3,111.3 L766.4,110.9 L767.5,110.4 L768.6,109.9 L769.8,109.3 L770.9,108.7 L772.0,108.1 L773.2,107.4 L774.3,106.4 L775.4,105.3 L776.6,104.1 L777.7,103.0 L778.8,102.0 L779.9,101.2 L781.1,100.7 L782.2,100.6 L783.3,100.6 L784.5,100.6 L785.6,100.6 L786.7,100.6 L787.8,100.6 L789.0,100.4 L790.1,99.7 L791.2,98.5 L792.4,96.8 L793.5,94.8 L794.6,92.5 L795.7,90.2 L796.9,87.9 L798.0,85.7 L799.1,83.7 L800.3,82.1 L801.4,81.0 L802.5,80.1 L803.7,79.3 L804.8,78.6 L805.9,78.0 L807.0,77.4 L808.2,76.8 L809.3,76.3 L810.4,75.7 L811.6,75.0 L812.7,74.3 L813.8,73.4 L814.9,72.4 L816.1,71.3 L817.2,70.0 L818.3,68.6 L819.5,67.1 L820.6,65.6 L821.7,64.1 L822.8,62.7 L824.0,61.0 L825.1,59.3 L826.2,57.5 L827.4,55.7 L828.5,54.0 L829.6,52.5 L830.8,51.3 L831.9,50.5 L833.0,49.8 L834.1,49.1 L835.3,48.5 L836.4,47.9 L837.5,47.3 L838.7,46.8 L839.8,46.4 L840.9,46.1 L842.0,45.8 L843.2,45.7 L844.3,45.6" fill="none" stroke="#148014" stroke-width="2.90" stroke-linejoin="round" stroke-linecap="round"/>
<path d="M506.7,291.8 L507.8,287.4 L509.0,283.0 L510.1,278.6 L511.2,274.2 L512.3,269.8 L512.8,268.0 L513.5,266.2 L514.6,263.2 L515.7,260.2 L516.9,257.2 L518.0,254.1 L519.1,251.1 L520.2,248.1 L520.9,246.2 L521.4,246.0 L522.5,245.5 L523.6,245.0 L524.8,244.5 L525.4,244.2 L525.9,243.2 L527.0,241.2 L528.1,239.1 L529.3,237.0 L530.4,234.9 L531.5,232.8 L531.8,232.3 L532.7,232.0 L533.8,231.6 L534.9,231.2 L536.1,230.8 L537.2,230.4 L537.2,230.3 L538.3,229.1 L539.4,227.9 L540.6,226.6 L541.7,225.4 L542.8,224.1 L544.0,222.9 L544.4,222.4 L545.1,220.8 L546.2,218.2 L547.3,215.3 L548.5,212.2 L549.6,208.9 L550.7,205.8 L551.9,203.2 L553.0,201.0 L554.1,199.0 L555.2,197.2 L556.4,195.4 L557.5,193.8 L558.6,192.2 L559.8,190.7 L560.9,189.2 L562.0,187.7 L563.2,186.6 L564.3,186.1 L565.4,185.8 L566.5,185.5 L567.7,185.3 L568.8,185.1 L569.9,184.8 L571.1,184.3 L572.2,183.7 L573.3,183.1 L574.4,182.4 L575.6,181.8 L576.7,181.2 L577.8,180.9 L579.0,180.7 L580.1,180.7 L581.2,180.7 L582.3,180.7 L583.5,180.7 L584.6,180.7 L585.7,180.7 L586.9,180.7 L588.0,180.7 L589.1,180.5 L590.3,179.9 L591.4,179.0 L592.5,177.8 L593.6,176.5 L594.8,175.0 L595.9,173.6 L597.0,172.3 L598.2,171.2 L599.3,170.3 L600.4,169.4 L601.5,168.4 L602.7,167.5 L603.8,166.5 L604.9,165.6 L606.1,164.8 L607.2,164.1 L608.3,163.5 L609.4,163.1 L610.6,162.9 L611.7,162.9 L612.8,163.2 L614.0,163.7 L615.1,164.3 L616.2,165.1 L617.3,165.8 L618.5,166.6 L619.6,167.2 L620.7,167.6 L621.9,167.8 L623.0,167.7 L624.1,167.4 L625.3,166.8 L626.4,166.1 L627.5,165.2 L628.6,164.2 L629.8,163.1 L630.9,162.0 L632.0,160.8 L633.2,159.8 L634.3,158.8 L635.4,157.9 L636.5,157.1 L637.7,156.6 L638.8,156.2 L639.9,156.1 L641.1,156.2 L642.2,156.3 L643.3,156.4 L644.4,156.6 L645.6,156.9 L646.7,157.2 L647.8,157.5 L649.0,157.8 L650.1,158.2 L651.2,158.6 L652.4,158.9 L653.5,159.5 L654.6,160.4 L655.7,161.3 L656.9,162.2 L658.0,162.9 L659.1,163.3 L660.3,163.2 L661.4,162.9 L662.5,162.4 L663.6,161.8 L664.8,161.1 L665.9,160.4 L667.0,159.8 L668.2,159.3 L669.3,159.0 L670.4,158.9 L671.5,159.4 L672.7,160.4 L673.8,161.6 L674.9,162.8 L676.1,163.8 L677.2,164.2 L678.3,164.2 L679.5,164.1 L680.6,163.9 L681.7,163.6 L682.8,163.3 L684.0,162.9 L685.1,162.4 L686.2,161.9 L687.4,161.4 L688.5,160.9 L689.6,160.3 L690.7,159.3 L691.9,158.1 L693.0,156.8 L694.1,155.5 L695.3,154.2 L696.4,153.0 L697.5,152.0 L698.6,151.2 L699.8,150.5 L700.9,149.9 L702.0,149.3 L703.2,148.7 L704.3,148.2 L705.4,147.8 L706.5,147.5 L707.7,147.4 L708.8,147.4 L709.9,147.5 L711.1,147.7 L712.2,147.9 L713.3,148.1 L714.5,148.4 L715.6,148.8 L716.7,149.1 L717.8,149.5 L719.0,149.9 L720.1,150.3 L721.2,150.7 L722.4,151.4 L723.5,152.2 L724.6,153.1 L725.7,154.0 L726.9,154.7 L728.0,155.2 L729.1,155.3 L730.3,155.1 L731.4,154.5 L732.5,153.8 L733.6,153.0 L734.8,152.1 L735.9,151.4 L737.0,150.8 L738.2,150.6 L739.3,150.6 L740.4,150.9 L741.6,151.3 L742.7,151.8 L743.8,152.4 L744.9,152.9 L746.1,153.3 L747.2,153.6 L748.3,153.7 L749.5,153.7 L750.6,153.7 L751.7,153.7 L752.8,153.7 L754.0,153.7 L755.1,153.6 L756.2,153.6 L757.4,153.5 L758.5,153.5 L759.6,153.4 L760.7,153.3 L761.9,153.3 L763.0,153.2 L764.1,153.1 L765.3,153.0 L766.4,152.9 L767.5,152.6 L768.6,152.3 L769.8,151.8 L770.9,151.2 L772.0,150.6 L773.2,150.0 L774.3,149.3 L775.4,148.7 L776.6,148.2 L777.7,147.7 L778.8,147.4 L779.9,147.2 L781.1,147.0 L782.2,146.8 L783.3,146.7 L784.5,146.6 L785.6,146.4 L786.7,146.2 L787.8,145.9 L789.0,145.5 L790.1,144.6 L791.2,143.4 L792.4,142.1 L793.5,141.0 L794.6,140.1 L795.7,139.6 L796.9,139.0 L798.0,138.5 L799.1,138.1 L800.3,137.7 L801.4,137.3 L802.5,137.1 L803.7,136.9 L804.8,136.9 L805.9,137.1 L807.0,137.5 L808.2,138.2 L809.3,139.0 L810.4,139.9 L811.6,140.8 L812.7,141.6 L813.8,142.3 L814.9,142.9 L816.1,143.5 L817.2,144.2 L818.3,144.8 L819.5,145.5 L820.6,146.1 L821.7,146.6 L822.8,147.0 L824.0,147.3 L825.1,147.4 L826.2,147.3 L827.4,146.8 L828.5,146.2 L829.6,145.4 L830.8,144.5 L831.9,143.7 L833.0,143.0 L834.1,142.6 L835.3,142.4 L836.4,142.5 L837.5,142.7 L838.7,143.0 L839.8,143.5 L840.9,144.1 L842.0,144.8 L843.2,145.6 L844.3,146.6" fill="none" stroke="#ff00ff" stroke-width="2.90" stroke-linejoin="round" stroke-linecap="round"/>
<path d="M506.7,291.8 L507.8,287.4 L509.0,283.0 L510.1,278.6 L511.2,274.2 L512.3,269.8 L512.8,268.0 L513.5,266.2 L514.6,263.2 L515.7,260.2 L516.9,257.2 L518.0,254.1 L519.1,251.1 L520.2,248.1 L520.9,246.2 L521.4,246.0 L522.5,245.5 L523.6,245.0 L524.8,244.5 L525.4,244.2 L525.9,243.2 L527.0,241.2 L528.1,239.1 L529.3,237.0 L530.4,234.9 L531.5,232.8 L531.8,232.3 L532.7,232.0 L533.8,231.6 L534.9,231.2 L536.1,230.8 L537.2,230.4 L537.2,230.3 L538.3,229.1 L539.4,227.9 L540.6,226.6 L541.7,225.4 L542.8,224.1 L544.0,222.9 L544.4,222.4 L545.1,220.8 L546.2,218.3 L547.3,215.7 L548.5,212.8 L549.6,209.7 L550.7,206.4 L551.9,203.3 L553.0,200.4 L554.1,197.2 L555.2,194.0 L556.4,190.8 L557.5,187.6 L558.6,184.6 L559.8,181.9 L560.9,179.5 L562.0,177.5 L563.2,175.6 L564.3,173.8 L565.4,172.0 L566.5,170.5 L567.7,169.1 L568.8,167.9 L569.9,167.0 L571.1,166.3 L572.2,165.7 L573.3,165.1 L574.4,164.7 L575.6,164.2 L576.7,163.8 L577.8,163.4 L579.0,162.9 L580.1,162.3 L581.2,161.7 L582.3,161.0 L583.5,160.3 L584.6,159.6 L585.7,158.8 L586.9,158.1 L588.0,157.4 L589.1,156.8 L590.3,156.2 L591.4,155.7 L592.5,155.4 L593.6,155.1 L594.8,154.9 L595.9,155.0 L597.0,155.2 L598.2,155.7 L599.3,156.1 L600.4,156.5 L601.5,156.8 L602.7,156.9 L603.8,156.9 L604.9,156.9 L606.1,156.9 L607.2,156.9 L608.3,156.9 L609.4,156.9 L610.6,156.9 L611.7,156.9 L612.8,156.9 L614.0,156.9 L615.1,156.9 L616.2,156.6 L617.3,156.0 L618.5,155.0 L619.6,153.8 L620.7,152.5 L621.9,151.0 L623.0,149.6 L624.1,148.2 L625.3,146.9 L626.4,145.8 L627.5,145.0 L628.6,144.3 L629.8,143.7 L630.9,143.0 L632.0,142.3 L633.2,141.7 L634.3,141.2 L635.4,140.6 L636.5,140.1 L637.7,139.7 L638.8,139.4 L639.9,139.2 L641.1,139.1 L642.2,139.1 L643.3,139.1 L644.4,139.1 L645.6,139.1 L646.7,139.1 L647.8,139.1 L649.0,139.5 L650.1,140.1 L651.2,140.7 L652.4,141.3 L653.5,141.7 L654.6,141.8 L655.7,141.8 L656.9,141.6 L658.0,141.4 L659.1,141.2 L660.3,140.8 L661.4,140.5 L662.5,140.0 L663.6,139.6 L664.8,139.1 L665.9,138.1 L667.0,136.5 L668.2,134.9 L669.3,133.5 L670.4,133.1 L671.5,133.1 L672.7,133.0 L673.8,133.0 L674.9,133.0 L676.1,133.0 L677.2,133.0 L678.3,133.0 L679.5,133.0 L680.6,133.0 L681.7,133.0 L682.8,133.0 L684.0,132.9 L685.1,132.9 L686.2,132.8 L687.4,132.6 L688.5,132.3 L689.6,131.8 L690.7,131.3 L691.9,130.8 L693.0,130.4 L694.1,130.0 L695.3,129.7 L696.4,129.5 L697.5,129.6 L698.6,130.0 L699.8,130.7 L700.9,131.5 L702.0,132.5 L703.2,133.5 L704.3,134.5 L705.4,135.4 L706.5,136.2 L707.7,136.8 L708.8,137.2 L709.9,137.6 L711.1,137.9 L712.2,138.2 L713.3,138.5 L714.5,138.8 L715.6,139.1 L716.7,139.3 L717.8,139.5 L719.0,139.7 L720.1,139.9 L721.2,140.1 L722.4,140.3 L723.5,140.4 L724.6,140.6 L725.7,140.7 L726.9,140.8 L728.0,140.9 L729.1,141.0 L730.3,141.2 L731.4,141.3 L732.5,141.5 L733.6,141.6 L734.8,141.8 L735.9,142.1 L737.0,142.5 L738.2,142.8 L739.3,143.2 L740.4,143.6 L741.6,144.0 L742.7,144.4 L743.8,144.8 L744.9,145.1 L746.1,145.4 L747.2,145.6 L748.3,145.7 L749.5,145.8 L750.6,145.6 L751.7,144.7 L752.8,143.4 L754.0,141.8 L755.1,140.1 L756.2,138.3 L757.4,136.7 L758.5,135.3 L759.6,134.4 L760.7,133.7 L761.9,133.0 L763.0,132.3 L764.1,131.7 L765.3,131.2 L766.4,130.8 L767.5,130.5 L768.6,130.3 L769.8,130.4 L770.9,130.6 L772.0,130.9 L773.2,131.4 L774.3,131.9 L775.4,132.4 L776.6,133.0 L777.7,133.5 L778.8,133.9 L779.9,134.2 L781.1,134.4 L782.2,134.5 L783.3,134.4 L784.5,134.3 L785.6,134.0 L786.7,133.7 L787.8,133.4 L789.0,133.0 L790.1,132.6 L791.2,132.1 L792.4,131.7 L793.5,131.3 L794.6,130.9 L795.7,130.5 L796.9,130.2 L798.0,129.9 L799.1,129.7 L800.3,129.6 L801.4,129.5 L802.5,129.7 L803.7,130.2 L804.8,130.9 L805.9,131.6 L807.0,132.4 L808.2,133.2 L809.3,133.9 L810.4,134.4 L811.6,134.7 L812.7,135.1 L813.8,135.4 L814.9,135.7 L816.1,136.0 L817.2,136.3 L818.3,136.5 L819.5,136.7 L820.6,136.8 L821.7,136.9 L822.8,136.8 L824.0,136.3 L825.1,135.4 L826.2,134.2 L827.4,132.9 L828.5,131.3 L829.6,129.8 L830.8,128.3 L831.9,127.0 L833.0,125.9 L834.1,125.1 L835.3,124.8 L836.4,124.6 L837.5,124.4 L838.7,124.3 L839.8,124.2 L840.9,124.1 L842.0,124.0 L843.2,124.0 L844.3,124.0" fill="none" stroke="#0000ff" stroke-width="2.90" stroke-linejoin="round" stroke-linecap="round"/>
<rect x="505.0" y="20.0" width="339.3" height="277.8" fill="none" stroke="#3c3c3c" stroke-width="2.03"/>
<path d="M505.0,297.8V303.6M572.9,297.8V303.6M640.7,297.8V303.6M708.6,297.8V303.6M776.4,297.8V303.6M844.3,297.8V303.6M538.9,297.8V301.3M606.8,297.8V301.3M674.6,297.8V301.3M742.5,297.8V301.3M810.4,297.8V301.3M505.0,297.8H499.2M505.0,258.1H499.2M505.0,218.4H499.2M505.0,178.7H499.2M505.0,139.1H499.2M505.0,99.4H499.2M505.0,59.7H499.2M505.0,20.0H499.2M505.0,278.0H501.5M505.0,238.3H501.5M505.0,198.6H501.5M505.0,158.9H501.5M505.0,119.2H501.5M505.0,79.5H501.5M505.0,39.8H501.5" stroke="#2b2b2b" stroke-width="1.84" fill="none"/>
<text x="505.0" y="318.1" font-size="14.0" text-anchor="middle" font-family="'Liberation Sans', sans-serif" font-weight="bold" fill="#1a1a1a" color="#1a1a1a">0</text>
<text x="572.9" y="318.1" font-size="14.0" text-anchor="middle" font-family="'Liberation Sans', sans-serif" font-weight="bold" fill="#1a1a1a" color="#1a1a1a">20</text>
<text x="640.7" y="318.1" font-size="14.0" text-anchor="middle" font-family="'Liberation Sans', sans-serif" font-weight="bold" fill="#1a1a1a" color="#1a1a1a">40</text>
<text x="708.6" y="320.3" font-size="14.0" text-anchor="middle" font-family="'Liberation Sans', sans-serif" font-weight="bold" fill="#1a1a1a" color="#1a1a1a">60</text>
<text x="776.4" y="320.3" font-size="14.0" text-anchor="middle" font-family="'Liberation Sans', sans-serif" font-weight="bold" fill="#1a1a1a" color="#1a1a1a">80</text>
<text x="841.9" y="318.1" font-size="14.0" text-anchor="middle" font-family="'Liberation Sans', sans-serif" font-weight="bold" fill="#1a1a1a" color="#1a1a1a">100</text>
<rect x="852.8" y="309.4" width="2.5" height="7.0" fill="#0a0a30"/>
<text x="495.5" y="302.2" font-size="12.4" text-anchor="end" font-family="'Liberation Sans', sans-serif" font-weight="bold" fill="#1a1a1a" color="#1a1a1a">0.0</text>
<text x="495.5" y="262.6" font-size="12.4" text-anchor="end" font-family="'Liberation Sans', sans-serif" font-weight="bold" fill="#1a1a1a" color="#1a1a1a">0.2</text>
<text x="495.5" y="222.9" font-size="12.4" text-anchor="end" font-family="'Liberation Sans', sans-serif" font-weight="bold" fill="#1a1a1a" color="#1a1a1a">0.4</text>
<text x="495.5" y="183.2" font-size="12.4" text-anchor="end" font-family="'Liberation Sans', sans-serif" font-weight="bold" fill="#1a1a1a" color="#1a1a1a">0.6</text>
<text x="495.5" y="143.5" font-size="12.4" text-anchor="end" font-family="'Liberation Sans', sans-serif" font-weight="bold" fill="#1a1a1a" color="#1a1a1a">0.8</text>
<text x="495.5" y="103.8" font-size="12.4" text-anchor="end" font-family="'Liberation Sans', sans-serif" font-weight="bold" fill="#1a1a1a" color="#1a1a1a">1.0</text>
<text x="495.5" y="64.1" font-size="12.4" text-anchor="end" font-family="'Liberation Sans', sans-serif" font-weight="bold" fill="#1a1a1a" color="#1a1a1a">1.2</text>
<text x="495.5" y="24.4" font-size="12.4" text-anchor="end" font-family="'Liberation Sans', sans-serif" font-weight="bold" fill="#1a1a1a" color="#1a1a1a">1.4</text>
<rect x="508.0" y="24.2" width="230.5" height="19.7" fill="#fff"/><path d="M508.0,43.9V24.2M507.1,24.2H738.5" stroke="#b0b0b0" stroke-width="1.74" fill="none"/><path d="M507.1,43.9H738.5V23.3" stroke="#858585" stroke-width="1.74" fill="none" stroke-linejoin="round"/>
<text x="515.1" y="39.8" font-size="14.8" font-family="'Liberation Serif', serif" font-weight="bold" fill="#161616" color="#161616" textLength="214.2" lengthAdjust="spacingAndGlyphs">RMSD in term of Backbone bond</text>
<rect x="774.3" y="184.4" width="59.9" height="95.8" fill="#fff"/><path d="M774.3,280.2V184.4M773.4,184.4H834.2" stroke="#b0b0b0" stroke-width="1.84" fill="none"/><path d="M773.4,280.2H834.2V183.5" stroke="#858585" stroke-width="1.84" fill="none" stroke-linejoin="round"/>
<path d="M780.1,195.3H813.3" stroke="#7800ff" stroke-width="3.48" stroke-linecap="round"/>
<text x="816.3" y="199.6" font-size="14.9" font-family="'Liberation Serif', serif" font-weight="bold" fill="#161616" color="#161616" textLength="16.3" lengthAdjust="spacingAndGlyphs">01</text>
<path d="M780.1,214.2H813.3" stroke="#ff0000" stroke-width="3.48" stroke-linecap="round"/>
<text x="816.3" y="218.5" font-size="14.9" font-family="'Liberation Serif', serif" font-weight="bold" fill="#161616" color="#161616" textLength="16.3" lengthAdjust="spacingAndGlyphs">02</text>
<path d="M780.1,233.2H813.3" stroke="#148014" stroke-width="3.48" stroke-linecap="round"/>
<text x="816.3" y="237.5" font-size="14.9" font-family="'Liberation Serif', serif" font-weight="bold" fill="#161616" color="#161616" textLength="16.3" lengthAdjust="spacingAndGlyphs">03</text>
<path d="M780.1,252.1H813.3" stroke="#ff00ff" stroke-width="3.48" stroke-linecap="round"/>
<text x="816.3" y="256.4" font-size="14.9" font-family="'Liberation Serif', serif" font-weight="bold" fill="#161616" color="#161616" textLength="16.3" lengthAdjust="spacingAndGlyphs">04</text>
<path d="M780.1,271.1H813.3" stroke="#0000ff" stroke-width="3.48" stroke-linecap="round"/>
<text x="816.3" y="275.4" font-size="14.9" font-family="'Liberation Serif', serif" font-weight="bold" fill="#161616" color="#161616" textLength="16.3" lengthAdjust="spacingAndGlyphs">05</text>
<text x="644.7" y="333.3" font-size="15.0" font-family="'Liberation Serif', serif" font-weight="bold" fill="#161616" color="#161616" textLength="60.9" lengthAdjust="spacingAndGlyphs">Time (ns)</text>
<text transform="translate(471.5,206.1) rotate(-90)" x="0" y="0" font-size="16.5" font-family="'Liberation Serif', serif" font-weight="bold" fill="#161616" color="#161616" textLength="71.4" lengthAdjust="spacingAndGlyphs">RMSD <tspan font-size="13.5" dy="-2.15">(</tspan><tspan font-size="16.5" dy="2.15">A</tspan><tspan font-size="8.2" dy="-8.58">0</tspan><tspan font-size="13.5" dy="6.44">)</tspan></text>
<text x="636.3" y="370.7" font-size="29.4" font-family="'Liberation Serif', serif" fill="#000" color="#000" style="stroke-width:0" textLength="35.5" lengthAdjust="spacingAndGlyphs">(<tspan font-weight="bold" style="stroke-width:0.3px">b</tspan>)</text>
<path d="M950.6,291.6 L951.7,288.3 L952.9,285.0 L954.0,281.8 L955.1,278.5 L956.3,275.2 L956.8,273.8 L957.4,272.8 L958.5,271.1 L959.7,269.3 L960.8,267.6 L962.0,265.8 L962.3,265.4 L963.1,262.8 L964.2,259.3 L965.0,257.0 L965.4,256.7 L966.5,256.0 L967.6,255.3 L968.8,254.6 L969.5,254.2 L969.9,253.0 L971.1,250.3 L972.2,247.5 L973.3,244.7 L974.5,241.9 L974.6,241.5 L975.6,241.4 L976.7,241.2 L977.9,241.0 L979.0,240.8 L980.1,240.6 L980.2,240.5 L981.3,238.2 L982.4,235.9 L983.6,233.7 L984.7,231.4 L985.8,229.1 L986.3,228.3 L987.0,226.5 L988.1,223.6 L989.3,220.7 L990.4,217.6 L991.5,214.5 L992.7,211.4 L993.8,208.4 L994.9,205.6 L996.1,203.1 L997.2,200.6 L998.3,198.2 L999.5,195.8 L1000.6,193.6 L1001.8,191.4 L1002.9,189.4 L1004.0,187.6 L1005.2,185.8 L1006.3,184.2 L1007.4,182.5 L1008.6,181.0 L1009.7,179.5 L1010.9,178.0 L1012.0,176.6 L1013.1,175.2 L1014.3,173.9 L1015.4,172.6 L1016.5,171.3 L1017.7,170.1 L1018.8,168.8 L1020.0,167.6 L1021.1,166.4 L1022.2,165.3 L1023.4,164.1 L1024.5,162.9 L1025.6,161.8 L1026.8,160.7 L1027.9,159.6 L1029.1,158.5 L1030.2,157.5 L1031.3,156.4 L1032.5,155.4 L1033.6,154.4 L1034.7,153.4 L1035.9,152.4 L1037.0,151.4 L1038.1,150.5 L1039.3,149.5 L1040.4,148.6 L1041.6,147.7 L1042.7,146.8 L1043.8,145.9 L1045.0,145.0 L1046.1,144.2 L1047.2,143.3 L1048.4,142.5 L1049.5,141.7 L1050.7,140.9 L1051.8,140.1 L1052.9,139.3 L1054.1,138.5 L1055.2,137.7 L1056.3,137.0 L1057.5,136.2 L1058.6,135.5 L1059.8,134.8 L1060.9,134.1 L1062.0,133.4 L1063.2,132.7 L1064.3,132.0 L1065.4,131.3 L1066.6,130.7 L1067.7,130.0 L1068.9,129.4 L1070.0,128.7 L1071.1,128.1 L1072.3,127.5 L1073.4,126.9 L1074.5,126.3 L1075.7,125.7 L1076.8,125.1 L1078.0,124.6 L1079.1,124.0 L1080.2,123.5 L1081.4,123.0 L1082.5,122.4 L1083.6,121.9 L1084.8,121.4 L1085.9,121.0 L1087.0,120.5 L1088.2,120.0 L1089.3,119.6 L1090.5,119.1 L1091.6,118.7 L1092.7,118.3 L1093.9,117.9 L1095.0,117.5 L1096.1,117.1 L1097.3,116.7 L1098.4,116.4 L1099.6,116.0 L1100.7,115.7 L1101.8,115.3 L1103.0,115.0 L1104.1,114.7 L1105.2,114.3 L1106.4,114.0 L1107.5,113.7 L1108.7,113.3 L1109.8,113.0 L1110.9,112.7 L1112.1,112.3 L1113.2,112.0 L1114.3,111.6 L1115.5,111.3 L1116.6,110.9 L1117.8,110.6 L1118.9,110.2 L1120.0,109.8 L1121.2,109.4 L1122.3,109.0 L1123.4,108.6 L1124.6,108.2 L1125.7,107.7 L1126.8,107.3 L1128.0,106.9 L1129.1,106.4 L1130.3,106.0 L1131.4,105.5 L1132.5,105.1 L1133.7,104.7 L1134.8,104.2 L1135.9,103.8 L1137.1,103.3 L1138.2,102.9 L1139.4,102.5 L1140.5,102.1 L1141.6,101.6 L1142.8,101.2 L1143.9,100.8 L1145.0,100.5 L1146.2,100.1 L1147.3,99.7 L1148.5,99.4 L1149.6,99.0 L1150.7,98.7 L1151.9,98.3 L1153.0,98.0 L1154.1,97.7 L1155.3,97.4 L1156.4,97.1 L1157.6,96.8 L1158.7,96.5 L1159.8,96.2 L1161.0,95.9 L1162.1,95.6 L1163.2,95.3 L1164.4,95.0 L1165.5,94.7 L1166.6,94.5 L1167.8,94.2 L1168.9,93.9 L1170.1,93.6 L1171.2,93.3 L1172.3,93.0 L1173.5,92.7 L1174.6,92.4 L1175.7,92.1 L1176.9,91.8 L1178.0,91.5 L1179.2,91.2 L1180.3,90.9 L1181.4,90.6 L1182.6,90.3 L1183.7,90.0 L1184.8,89.6 L1186.0,89.3 L1187.1,89.0 L1188.3,88.6 L1189.4,88.3 L1190.5,87.9 L1191.7,87.6 L1192.8,87.2 L1193.9,86.9 L1195.1,86.5 L1196.2,86.2 L1197.4,85.8 L1198.5,85.4 L1199.6,85.1 L1200.8,84.7 L1201.9,84.3 L1203.0,83.9 L1204.2,83.5 L1205.3,83.1 L1206.4,82.7 L1207.6,82.3 L1208.7,81.9 L1209.9,81.5 L1211.0,81.1 L1212.1,80.7 L1213.3,80.3 L1214.4,79.9 L1215.5,79.4 L1216.7,79.0 L1217.8,78.5 L1219.0,78.1 L1220.1,77.6 L1221.2,77.2 L1222.4,76.7 L1223.5,76.3 L1224.6,75.8 L1225.8,75.4 L1226.9,74.9 L1228.1,74.5 L1229.2,74.0 L1230.3,73.6 L1231.5,73.2 L1232.6,72.8 L1233.7,72.3 L1234.9,71.9 L1236.0,71.5 L1237.2,71.1 L1238.3,70.8 L1239.4,70.4 L1240.6,70.0 L1241.7,69.7 L1242.8,69.4 L1244.0,69.0 L1245.1,68.7 L1246.3,68.4 L1247.4,68.1 L1248.5,67.8 L1249.7,67.5 L1250.8,67.2 L1251.9,66.9 L1253.1,66.6 L1254.2,66.3 L1255.3,66.1 L1256.5,65.8 L1257.6,65.5 L1258.8,65.2 L1259.9,65.0 L1261.0,64.7 L1262.2,64.4 L1263.3,64.1 L1264.4,63.9 L1265.6,63.6 L1266.7,63.3 L1267.9,63.0 L1269.0,62.7 L1270.1,62.4 L1271.3,62.1 L1272.4,61.8 L1273.5,61.5 L1274.7,61.2 L1275.8,60.9 L1277.0,60.6 L1278.1,60.3 L1279.2,60.0 L1280.4,59.7 L1281.5,59.4 L1282.6,59.1 L1283.8,58.7 L1284.9,58.4 L1286.1,58.1 L1287.2,57.8 L1288.3,57.5 L1289.5,57.1 L1290.6,56.8" fill="none" stroke="#0000ff" stroke-width="2.93" stroke-linejoin="round" stroke-linecap="round"/>
<path d="M950.6,291.6 L951.7,288.3 L952.9,285.0 L954.0,281.8 L955.1,278.5 L956.3,275.2 L956.8,273.8 L957.4,272.8 L958.5,271.1 L959.7,269.3 L960.8,267.6 L962.0,265.8 L962.3,265.4 L963.1,262.8 L964.2,259.3 L965.0,257.0 L965.4,256.7 L966.5,256.0 L967.6,255.3 L968.8,254.6 L969.5,254.2 L969.9,253.0 L971.1,250.3 L972.2,247.5 L973.3,244.7 L974.5,241.9 L974.6,241.5 L975.6,241.4 L976.7,241.2 L977.9,241.0 L979.0,240.8 L980.1,240.6 L980.2,240.5 L981.3,238.2 L982.4,235.9 L983.6,233.7 L984.7,231.4 L985.8,229.1 L986.3,228.3 L987.0,226.5 L988.1,223.6 L989.3,220.7 L990.4,217.6 L991.5,214.5 L992.7,211.4 L993.8,208.4 L994.9,205.6 L996.1,203.1 L997.2,200.6 L998.3,198.2 L999.5,195.8 L1000.6,193.6 L1001.8,191.4 L1002.9,189.4 L1004.0,187.6 L1005.2,185.8 L1006.3,184.2 L1007.4,182.5 L1008.6,181.0 L1009.7,179.5 L1010.9,178.0 L1012.0,176.6 L1013.1,175.2 L1014.3,173.9 L1015.4,172.5 L1016.5,171.2 L1017.7,170.0 L1018.8,168.7 L1020.0,167.5 L1021.1,166.3 L1022.2,165.1 L1023.4,163.9 L1024.5,162.7 L1025.6,161.6 L1026.8,160.4 L1027.9,159.3 L1029.1,158.2 L1030.2,157.1 L1031.3,156.0 L1032.5,155.0 L1033.6,153.9 L1034.7,152.9 L1035.9,151.9 L1037.0,150.9 L1038.1,149.9 L1039.3,148.9 L1040.4,148.0 L1041.6,147.0 L1042.7,146.1 L1043.8,145.2 L1045.0,144.3 L1046.1,143.4 L1047.2,142.5 L1048.4,141.7 L1049.5,140.8 L1050.7,140.0 L1051.8,139.2 L1052.9,138.4 L1054.1,137.6 L1055.2,136.8 L1056.3,136.1 L1057.5,135.3 L1058.6,134.6 L1059.8,133.9 L1060.9,133.1 L1062.0,132.4 L1063.2,131.7 L1064.3,131.1 L1065.4,130.4 L1066.6,129.7 L1067.7,129.1 L1068.9,128.4 L1070.0,127.8 L1071.1,127.2 L1072.3,126.5 L1073.4,125.9 L1074.5,125.3 L1075.7,124.8 L1076.8,124.2 L1078.0,123.6 L1079.1,123.1 L1080.2,122.5 L1081.4,122.0 L1082.5,121.5 L1083.6,121.0 L1084.8,120.5 L1085.9,120.0 L1087.0,119.5 L1088.2,119.1 L1089.3,118.6 L1090.5,118.2 L1091.6,117.8 L1092.7,117.4 L1093.9,117.0 L1095.0,116.6 L1096.1,116.2 L1097.3,115.8 L1098.4,115.4 L1099.6,115.1 L1100.7,114.7 L1101.8,114.4 L1103.0,114.1 L1104.1,113.7 L1105.2,113.4 L1106.4,113.1 L1107.5,112.7 L1108.7,112.4 L1109.8,112.1 L1110.9,111.7 L1112.1,111.4 L1113.2,111.1 L1114.3,110.7 L1115.5,110.4 L1116.6,110.0 L1117.8,109.7 L1118.9,109.3 L1120.0,108.9 L1121.2,108.5 L1122.3,108.2 L1123.4,107.8 L1124.6,107.4 L1125.7,107.0 L1126.8,106.6 L1128.0,106.1 L1129.1,105.7 L1130.3,105.3 L1131.4,104.9 L1132.5,104.4 L1133.7,104.0 L1134.8,103.5 L1135.9,103.1 L1137.1,102.6 L1138.2,102.1 L1139.4,101.7 L1140.5,101.2 L1141.6,100.7 L1142.8,100.2 L1143.9,99.7 L1145.0,99.2 L1146.2,98.7 L1147.3,98.2 L1148.5,97.7 L1149.6,97.1 L1150.7,96.6 L1151.9,96.1 L1153.0,95.5 L1154.1,95.0 L1155.3,94.5 L1156.4,93.9 L1157.6,93.4 L1158.7,92.9 L1159.8,92.3 L1161.0,91.8 L1162.1,91.3 L1163.2,90.8 L1164.4,90.3 L1165.5,89.9 L1166.6,89.4 L1167.8,89.0 L1168.9,88.5 L1170.1,88.1 L1171.2,87.7 L1172.3,87.3 L1173.5,86.9 L1174.6,86.5 L1175.7,86.1 L1176.9,85.8 L1178.0,85.4 L1179.2,85.1 L1180.3,84.7 L1181.4,84.4 L1182.6,84.1 L1183.7,83.7 L1184.8,83.4 L1186.0,83.1 L1187.1,82.8 L1188.3,82.5 L1189.4,82.2 L1190.5,81.8 L1191.7,81.5 L1192.8,81.2 L1193.9,80.9 L1195.1,80.6 L1196.2,80.3 L1197.4,80.0 L1198.5,79.7 L1199.6,79.4 L1200.8,79.1 L1201.9,78.8 L1203.0,78.5 L1204.2,78.2 L1205.3,77.9 L1206.4,77.6 L1207.6,77.3 L1208.7,77.0 L1209.9,76.7 L1211.0,76.4 L1212.1,76.2 L1213.3,75.9 L1214.4,75.6 L1215.5,75.3 L1216.7,75.0 L1217.8,74.7 L1219.0,74.4 L1220.1,74.1 L1221.2,73.8 L1222.4,73.6 L1223.5,73.3 L1224.6,73.0 L1225.8,72.7 L1226.9,72.4 L1228.1,72.1 L1229.2,71.8 L1230.3,71.5 L1231.5,71.3 L1232.6,71.0 L1233.7,70.7 L1234.9,70.4 L1236.0,70.1 L1237.2,69.8 L1238.3,69.5 L1239.4,69.3 L1240.6,69.0 L1241.7,68.7 L1242.8,68.4 L1244.0,68.2 L1245.1,67.9 L1246.3,67.6 L1247.4,67.4 L1248.5,67.1 L1249.7,66.8 L1250.8,66.6 L1251.9,66.3 L1253.1,66.1 L1254.2,65.9 L1255.3,65.6 L1256.5,65.4 L1257.6,65.2 L1258.8,64.9 L1259.9,64.7 L1261.0,64.5 L1262.2,64.3 L1263.3,64.1 L1264.4,63.8 L1265.6,63.6 L1266.7,63.4 L1267.9,63.2 L1269.0,63.0 L1270.1,62.8 L1271.3,62.6 L1272.4,62.4 L1273.5,62.2 L1274.7,62.0 L1275.8,61.9 L1277.0,61.7 L1278.1,61.5 L1279.2,61.3 L1280.4,61.1 L1281.5,61.0 L1282.6,60.8 L1283.8,60.6 L1284.9,60.5 L1286.1,60.3 L1287.2,60.1 L1288.3,60.0 L1289.5,59.8 L1290.6,59.7" fill="none" stroke="#ff0000" stroke-width="2.93" stroke-linejoin="round" stroke-linecap="round"/>
<path d="M950.6,291.6 L951.7,288.3 L952.9,285.0 L954.0,281.8 L955.1,278.5 L956.3,275.2 L956.8,273.8 L957.4,272.8 L958.5,271.1 L959.7,269.3 L960.8,267.6 L962.0,265.8 L962.3,265.4 L963.1,262.8 L964.2,259.3 L965.0,257.0 L965.4,256.7 L966.5,256.0 L967.6,255.3 L968.8,254.6 L969.5,254.2 L969.9,253.0 L971.1,250.3 L972.2,247.5 L973.3,244.7 L974.5,241.9 L974.6,241.5 L975.6,241.4 L976.7,241.2 L977.9,241.0 L979.0,240.8 L980.1,240.6 L980.2,240.5 L981.3,238.2 L982.4,235.9 L983.6,233.7 L984.7,231.4 L985.8,229.1 L986.3,228.3 L987.0,226.5 L988.1,223.6 L989.3,220.7 L990.4,217.6 L991.5,214.5 L992.7,211.4 L993.8,208.4 L994.9,205.6 L996.1,203.1 L997.2,200.6 L998.3,198.3 L999.5,195.9 L1000.6,193.7 L1001.8,191.5 L1002.9,189.5 L1004.0,187.5 L1005.2,185.6 L1006.3,183.8 L1007.4,182.0 L1008.6,180.2 L1009.7,178.5 L1010.9,176.8 L1012.0,175.2 L1013.1,173.7 L1014.3,172.2 L1015.4,170.8 L1016.5,169.4 L1017.7,168.1 L1018.8,166.8 L1020.0,165.5 L1021.1,164.3 L1022.2,163.1 L1023.4,161.8 L1024.5,160.6 L1025.6,159.5 L1026.8,158.3 L1027.9,157.2 L1029.1,156.0 L1030.2,155.0 L1031.3,153.9 L1032.5,152.8 L1033.6,151.8 L1034.7,150.7 L1035.9,149.7 L1037.0,148.7 L1038.1,147.7 L1039.3,146.7 L1040.4,145.7 L1041.6,144.7 L1042.7,143.8 L1043.8,142.8 L1045.0,141.9 L1046.1,141.0 L1047.2,140.1 L1048.4,139.2 L1049.5,138.3 L1050.7,137.4 L1051.8,136.6 L1052.9,135.7 L1054.1,134.9 L1055.2,134.0 L1056.3,133.2 L1057.5,132.4 L1058.6,131.6 L1059.8,130.9 L1060.9,130.1 L1062.0,129.3 L1063.2,128.6 L1064.3,127.9 L1065.4,127.2 L1066.6,126.5 L1067.7,125.8 L1068.9,125.1 L1070.0,124.5 L1071.1,123.9 L1072.3,123.2 L1073.4,122.6 L1074.5,122.1 L1075.7,121.5 L1076.8,120.9 L1078.0,120.4 L1079.1,119.9 L1080.2,119.4 L1081.4,118.9 L1082.5,118.4 L1083.6,117.9 L1084.8,117.5 L1085.9,117.0 L1087.0,116.6 L1088.2,116.2 L1089.3,115.8 L1090.5,115.4 L1091.6,115.0 L1092.7,114.7 L1093.9,114.3 L1095.0,114.0 L1096.1,113.7 L1097.3,113.4 L1098.4,113.0 L1099.6,112.7 L1100.7,112.4 L1101.8,112.1 L1103.0,111.8 L1104.1,111.5 L1105.2,111.2 L1106.4,110.8 L1107.5,110.5 L1108.7,110.1 L1109.8,109.8 L1110.9,109.4 L1112.1,109.0 L1113.2,108.6 L1114.3,108.2 L1115.5,107.8 L1116.6,107.4 L1117.8,106.9 L1118.9,106.5 L1120.0,106.0 L1121.2,105.5 L1122.3,105.0 L1123.4,104.5 L1124.6,104.0 L1125.7,103.5 L1126.8,102.9 L1128.0,102.4 L1129.1,101.8 L1130.3,101.3 L1131.4,100.7 L1132.5,100.2 L1133.7,99.6 L1134.8,99.0 L1135.9,98.4 L1137.1,97.9 L1138.2,97.3 L1139.4,96.7 L1140.5,96.1 L1141.6,95.5 L1142.8,95.0 L1143.9,94.4 L1145.0,93.8 L1146.2,93.2 L1147.3,92.7 L1148.5,92.1 L1149.6,91.5 L1150.7,91.0 L1151.9,90.4 L1153.0,89.9 L1154.1,89.3 L1155.3,88.8 L1156.4,88.2 L1157.6,87.7 L1158.7,87.2 L1159.8,86.6 L1161.0,86.1 L1162.1,85.6 L1163.2,85.1 L1164.4,84.6 L1165.5,84.1 L1166.6,83.6 L1167.8,83.2 L1168.9,82.7 L1170.1,82.2 L1171.2,81.8 L1172.3,81.3 L1173.5,80.9 L1174.6,80.4 L1175.7,80.0 L1176.9,79.6 L1178.0,79.2 L1179.2,78.7 L1180.3,78.3 L1181.4,77.9 L1182.6,77.5 L1183.7,77.1 L1184.8,76.7 L1186.0,76.3 L1187.1,75.9 L1188.3,75.5 L1189.4,75.1 L1190.5,74.8 L1191.7,74.4 L1192.8,74.0 L1193.9,73.6 L1195.1,73.3 L1196.2,72.9 L1197.4,72.5 L1198.5,72.2 L1199.6,71.8 L1200.8,71.5 L1201.9,71.1 L1203.0,70.8 L1204.2,70.4 L1205.3,70.1 L1206.4,69.7 L1207.6,69.4 L1208.7,69.1 L1209.9,68.7 L1211.0,68.4 L1212.1,68.1 L1213.3,67.7 L1214.4,67.4 L1215.5,67.0 L1216.7,66.7 L1217.8,66.4 L1219.0,66.0 L1220.1,65.7 L1221.2,65.4 L1222.4,65.0 L1223.5,64.7 L1224.6,64.4 L1225.8,64.0 L1226.9,63.7 L1228.1,63.3 L1229.2,63.0 L1230.3,62.7 L1231.5,62.3 L1232.6,62.0 L1233.7,61.6 L1234.9,61.3 L1236.0,61.0 L1237.2,60.6 L1238.3,60.3 L1239.4,59.9 L1240.6,59.6 L1241.7,59.3 L1242.8,58.9 L1244.0,58.6 L1245.1,58.2 L1246.3,57.9 L1247.4,57.5 L1248.5,57.2 L1249.7,56.8 L1250.8,56.5 L1251.9,56.1 L1253.1,55.8 L1254.2,55.4 L1255.3,55.1 L1256.5,54.7 L1257.6,54.4 L1258.8,54.0 L1259.9,53.6 L1261.0,53.3 L1262.2,52.9 L1263.3,52.5 L1264.4,52.2 L1265.6,51.8 L1266.7,51.4 L1267.9,51.1 L1269.0,50.7 L1270.1,50.3 L1271.3,49.9 L1272.4,49.5 L1273.5,49.2 L1274.7,48.8 L1275.8,48.4 L1277.0,48.0 L1278.1,47.6 L1279.2,47.2 L1280.4,46.8 L1281.5,46.4 L1282.6,46.0 L1283.8,45.6 L1284.9,45.2 L1286.1,44.8 L1287.2,44.4 L1288.3,44.0 L1289.5,43.6 L1290.6,43.2" fill="none" stroke="#00ff00" stroke-width="2.93" stroke-linejoin="round" stroke-linecap="round"/>
<path d="M950.6,291.6 L951.7,288.3 L952.9,285.0 L954.0,281.8 L955.1,278.5 L956.3,275.2 L956.8,273.8 L957.4,272.8 L958.5,271.1 L959.7,269.3 L960.8,267.6 L962.0,265.8 L962.3,265.4 L963.1,262.8 L964.2,259.3 L965.0,257.0 L965.4,256.7 L966.5,256.0 L967.6,255.3 L968.8,254.6 L969.5,254.2 L969.9,253.0 L971.1,250.3 L972.2,247.5 L973.3,244.7 L974.5,241.9 L974.6,241.5 L975.6,241.4 L976.7,241.2 L977.9,241.0 L979.0,240.8 L980.1,240.6 L980.2,240.5 L981.3,238.2 L982.4,235.9 L983.6,233.7 L984.7,231.4 L985.8,229.1 L986.3,228.3 L987.0,226.5 L988.1,223.6 L989.3,220.7 L990.4,217.6 L991.5,214.5 L992.7,211.4 L993.8,208.4 L994.9,205.6 L996.1,203.1 L997.2,200.6 L998.3,198.1 L999.5,195.7 L1000.6,193.4 L1001.8,191.2 L1002.9,189.3 L1004.0,187.6 L1005.2,186.0 L1006.3,184.6 L1007.4,183.2 L1008.6,181.8 L1009.7,180.5 L1010.9,179.3 L1012.0,178.0 L1013.1,176.8 L1014.3,175.6 L1015.4,174.5 L1016.5,173.3 L1017.7,172.2 L1018.8,171.1 L1020.0,170.0 L1021.1,169.0 L1022.2,167.9 L1023.4,166.9 L1024.5,165.9 L1025.6,164.8 L1026.8,163.8 L1027.9,162.8 L1029.1,161.8 L1030.2,160.8 L1031.3,159.9 L1032.5,158.9 L1033.6,157.9 L1034.7,156.9 L1035.9,156.0 L1037.0,155.0 L1038.1,154.0 L1039.3,153.1 L1040.4,152.1 L1041.6,151.2 L1042.7,150.2 L1043.8,149.3 L1045.0,148.4 L1046.1,147.5 L1047.2,146.6 L1048.4,145.7 L1049.5,144.8 L1050.7,144.0 L1051.8,143.2 L1052.9,142.3 L1054.1,141.5 L1055.2,140.7 L1056.3,140.0 L1057.5,139.2 L1058.6,138.5 L1059.8,137.7 L1060.9,137.0 L1062.0,136.3 L1063.2,135.6 L1064.3,135.0 L1065.4,134.3 L1066.6,133.6 L1067.7,133.0 L1068.9,132.3 L1070.0,131.7 L1071.1,131.0 L1072.3,130.4 L1073.4,129.8 L1074.5,129.1 L1075.7,128.5 L1076.8,127.9 L1078.0,127.3 L1079.1,126.6 L1080.2,126.0 L1081.4,125.5 L1082.5,124.9 L1083.6,124.3 L1084.8,123.8 L1085.9,123.2 L1087.0,122.7 L1088.2,122.2 L1089.3,121.8 L1090.5,121.3 L1091.6,120.9 L1092.7,120.5 L1093.9,120.1 L1095.0,119.7 L1096.1,119.3 L1097.3,119.0 L1098.4,118.6 L1099.6,118.3 L1100.7,118.0 L1101.8,117.7 L1103.0,117.4 L1104.1,117.1 L1105.2,116.8 L1106.4,116.5 L1107.5,116.2 L1108.7,115.9 L1109.8,115.6 L1110.9,115.3 L1112.1,115.0 L1113.2,114.7 L1114.3,114.4 L1115.5,114.1 L1116.6,113.7 L1117.8,113.4 L1118.9,113.1 L1120.0,112.7 L1121.2,112.4 L1122.3,112.0 L1123.4,111.7 L1124.6,111.3 L1125.7,110.9 L1126.8,110.6 L1128.0,110.2 L1129.1,109.8 L1130.3,109.5 L1131.4,109.1 L1132.5,108.7 L1133.7,108.3 L1134.8,107.9 L1135.9,107.6 L1137.1,107.2 L1138.2,106.8 L1139.4,106.4 L1140.5,106.0 L1141.6,105.7 L1142.8,105.3 L1143.9,104.9 L1145.0,104.6 L1146.2,104.2 L1147.3,103.8 L1148.5,103.5 L1149.6,103.1 L1150.7,102.8 L1151.9,102.4 L1153.0,102.1 L1154.1,101.7 L1155.3,101.4 L1156.4,101.0 L1157.6,100.7 L1158.7,100.3 L1159.8,100.0 L1161.0,99.6 L1162.1,99.3 L1163.2,99.0 L1164.4,98.7 L1165.5,98.3 L1166.6,98.0 L1167.8,97.7 L1168.9,97.4 L1170.1,97.1 L1171.2,96.8 L1172.3,96.5 L1173.5,96.2 L1174.6,95.9 L1175.7,95.6 L1176.9,95.3 L1178.0,95.0 L1179.2,94.8 L1180.3,94.5 L1181.4,94.3 L1182.6,94.0 L1183.7,93.8 L1184.8,93.5 L1186.0,93.3 L1187.1,93.1 L1188.3,92.9 L1189.4,92.6 L1190.5,92.4 L1191.7,92.2 L1192.8,92.0 L1193.9,91.8 L1195.1,91.6 L1196.2,91.4 L1197.4,91.2 L1198.5,91.0 L1199.6,90.8 L1200.8,90.6 L1201.9,90.4 L1203.0,90.2 L1204.2,90.0 L1205.3,89.8 L1206.4,89.6 L1207.6,89.4 L1208.7,89.2 L1209.9,89.0 L1211.0,88.7 L1212.1,88.5 L1213.3,88.3 L1214.4,88.0 L1215.5,87.8 L1216.7,87.5 L1217.8,87.3 L1219.0,87.0 L1220.1,86.7 L1221.2,86.5 L1222.4,86.2 L1223.5,85.9 L1224.6,85.7 L1225.8,85.4 L1226.9,85.2 L1228.1,84.9 L1229.2,84.6 L1230.3,84.4 L1231.5,84.2 L1232.6,83.9 L1233.7,83.7 L1234.9,83.5 L1236.0,83.3 L1237.2,83.1 L1238.3,82.9 L1239.4,82.7 L1240.6,82.5 L1241.7,82.4 L1242.8,82.2 L1244.0,82.1 L1245.1,81.9 L1246.3,81.8 L1247.4,81.7 L1248.5,81.5 L1249.7,81.4 L1250.8,81.3 L1251.9,81.2 L1253.1,81.1 L1254.2,80.9 L1255.3,80.8 L1256.5,80.7 L1257.6,80.6 L1258.8,80.4 L1259.9,80.3 L1261.0,80.2 L1262.2,80.0 L1263.3,79.9 L1264.4,79.7 L1265.6,79.6 L1266.7,79.4 L1267.9,79.3 L1269.0,79.1 L1270.1,78.9 L1271.3,78.7 L1272.4,78.6 L1273.5,78.4 L1274.7,78.2 L1275.8,78.0 L1277.0,77.8 L1278.1,77.6 L1279.2,77.4 L1280.4,77.2 L1281.5,76.9 L1282.6,76.7 L1283.8,76.5 L1284.9,76.3 L1286.1,76.1 L1287.2,75.8 L1288.3,75.6 L1289.5,75.4 L1290.6,75.1" fill="none" stroke="#ff00ff" stroke-width="2.93" stroke-linejoin="round" stroke-linecap="round"/>
<path d="M950.6,291.6 L951.7,288.3 L952.9,285.0 L954.0,281.8 L955.1,278.5 L956.3,275.2 L956.8,273.8 L957.4,272.8 L958.5,271.1 L959.7,269.3 L960.8,267.6 L962.0,265.8 L962.3,265.4 L963.1,262.8 L964.2,259.3 L965.0,257.0 L965.4,256.7 L966.5,256.0 L967.6,255.3 L968.8,254.6 L969.5,254.2 L969.9,253.0 L971.1,250.3 L972.2,247.5 L973.3,244.7 L974.5,241.9 L974.6,241.5 L975.6,241.4 L976.7,241.2 L977.9,241.0 L979.0,240.8 L980.1,240.6 L980.2,240.5 L981.3,238.2 L982.4,235.9 L983.6,233.7 L984.7,231.4 L985.8,229.1 L986.3,228.3 L987.0,226.5 L988.1,223.6 L989.3,220.7 L990.4,217.6 L991.5,214.5 L992.7,211.4 L993.8,208.4 L994.9,205.6 L996.1,203.1 L997.2,200.7 L998.3,198.3 L999.5,196.0 L1000.6,193.8 L1001.8,191.6 L1002.9,189.6 L1004.0,187.5 L1005.2,185.5 L1006.3,183.5 L1007.4,181.5 L1008.6,179.6 L1009.7,177.7 L1010.9,175.9 L1012.0,174.2 L1013.1,172.5 L1014.3,171.0 L1015.4,169.4 L1016.5,168.0 L1017.7,166.5 L1018.8,165.1 L1020.0,163.8 L1021.1,162.4 L1022.2,161.1 L1023.4,159.9 L1024.5,158.6 L1025.6,157.3 L1026.8,156.1 L1027.9,154.9 L1029.1,153.8 L1030.2,152.6 L1031.3,151.5 L1032.5,150.4 L1033.6,149.3 L1034.7,148.3 L1035.9,147.2 L1037.0,146.2 L1038.1,145.2 L1039.3,144.2 L1040.4,143.2 L1041.6,142.2 L1042.7,141.2 L1043.8,140.3 L1045.0,139.3 L1046.1,138.4 L1047.2,137.4 L1048.4,136.5 L1049.5,135.6 L1050.7,134.7 L1051.8,133.8 L1052.9,132.9 L1054.1,132.1 L1055.2,131.2 L1056.3,130.3 L1057.5,129.5 L1058.6,128.7 L1059.8,127.9 L1060.9,127.1 L1062.0,126.3 L1063.2,125.5 L1064.3,124.7 L1065.4,124.0 L1066.6,123.3 L1067.7,122.6 L1068.9,121.9 L1070.0,121.2 L1071.1,120.6 L1072.3,120.0 L1073.4,119.4 L1074.5,118.8 L1075.7,118.2 L1076.8,117.7 L1078.0,117.1 L1079.1,116.6 L1080.2,116.1 L1081.4,115.6 L1082.5,115.1 L1083.6,114.7 L1084.8,114.2 L1085.9,113.8 L1087.0,113.3 L1088.2,112.9 L1089.3,112.5 L1090.5,112.1 L1091.6,111.7 L1092.7,111.2 L1093.9,110.8 L1095.0,110.4 L1096.1,110.0 L1097.3,109.6 L1098.4,109.2 L1099.6,108.9 L1100.7,108.5 L1101.8,108.1 L1103.0,107.7 L1104.1,107.4 L1105.2,107.0 L1106.4,106.6 L1107.5,106.3 L1108.7,106.0 L1109.8,105.6 L1110.9,105.3 L1112.1,105.0 L1113.2,104.6 L1114.3,104.3 L1115.5,104.0 L1116.6,103.7 L1117.8,103.4 L1118.9,103.1 L1120.0,102.9 L1121.2,102.6 L1122.3,102.3 L1123.4,102.0 L1124.6,101.7 L1125.7,101.4 L1126.8,101.2 L1128.0,100.9 L1129.1,100.6 L1130.3,100.3 L1131.4,100.1 L1132.5,99.8 L1133.7,99.5 L1134.8,99.2 L1135.9,98.9 L1137.1,98.6 L1138.2,98.2 L1139.4,97.9 L1140.5,97.6 L1141.6,97.3 L1142.8,96.9 L1143.9,96.6 L1145.0,96.2 L1146.2,95.8 L1147.3,95.5 L1148.5,95.1 L1149.6,94.7 L1150.7,94.3 L1151.9,93.9 L1153.0,93.5 L1154.1,93.1 L1155.3,92.8 L1156.4,92.4 L1157.6,92.0 L1158.7,91.6 L1159.8,91.2 L1161.0,90.9 L1162.1,90.5 L1163.2,90.2 L1164.4,89.8 L1165.5,89.5 L1166.6,89.1 L1167.8,88.8 L1168.9,88.5 L1170.1,88.2 L1171.2,87.9 L1172.3,87.6 L1173.5,87.3 L1174.6,87.0 L1175.7,86.7 L1176.9,86.4 L1178.0,86.2 L1179.2,85.9 L1180.3,85.6 L1181.4,85.4 L1182.6,85.1 L1183.7,84.9 L1184.8,84.6 L1186.0,84.4 L1187.1,84.1 L1188.3,83.9 L1189.4,83.6 L1190.5,83.4 L1191.7,83.1 L1192.8,82.9 L1193.9,82.6 L1195.1,82.4 L1196.2,82.1 L1197.4,81.9 L1198.5,81.6 L1199.6,81.4 L1200.8,81.1 L1201.9,80.9 L1203.0,80.6 L1204.2,80.4 L1205.3,80.1 L1206.4,79.9 L1207.6,79.6 L1208.7,79.4 L1209.9,79.1 L1211.0,78.9 L1212.1,78.6 L1213.3,78.4 L1214.4,78.1 L1215.5,77.9 L1216.7,77.7 L1217.8,77.5 L1219.0,77.2 L1220.1,77.0 L1221.2,76.8 L1222.4,76.6 L1223.5,76.4 L1224.6,76.2 L1225.8,76.0 L1226.9,75.9 L1228.1,75.7 L1229.2,75.5 L1230.3,75.3 L1231.5,75.2 L1232.6,75.0 L1233.7,74.9 L1234.9,74.7 L1236.0,74.6 L1237.2,74.4 L1238.3,74.3 L1239.4,74.2 L1240.6,74.0 L1241.7,73.9 L1242.8,73.7 L1244.0,73.6 L1245.1,73.4 L1246.3,73.3 L1247.4,73.2 L1248.5,73.0 L1249.7,72.9 L1250.8,72.7 L1251.9,72.5 L1253.1,72.4 L1254.2,72.2 L1255.3,72.0 L1256.5,71.9 L1257.6,71.7 L1258.8,71.5 L1259.9,71.3 L1261.0,71.1 L1262.2,70.9 L1263.3,70.8 L1264.4,70.6 L1265.6,70.4 L1266.7,70.1 L1267.9,69.9 L1269.0,69.7 L1270.1,69.5 L1271.3,69.3 L1272.4,69.1 L1273.5,68.9 L1274.7,68.6 L1275.8,68.4 L1277.0,68.2 L1278.1,67.9 L1279.2,67.7 L1280.4,67.5 L1281.5,67.2 L1282.6,67.0 L1283.8,66.7 L1284.9,66.5 L1286.1,66.2 L1287.2,66.0 L1288.3,65.7 L1289.5,65.5 L1290.6,65.2" fill="none" stroke="#148014" stroke-width="2.93" stroke-linejoin="round" stroke-linecap="round"/>
<rect x="947.5" y="16.6" width="343.1" height="280.6" fill="none" stroke="#3c3c3c" stroke-width="2.05"/>
<path d="M947.5,297.2V303.1M1016.1,297.2V303.1M1084.7,297.2V303.1M1153.4,297.2V303.1M1222.0,297.2V303.1M1290.6,297.2V303.1M981.8,297.2V300.7M1050.4,297.2V300.7M1119.0,297.2V300.7M1187.7,297.2V300.7M1256.3,297.2V300.7M947.5,297.2H941.6M947.5,250.4H941.6M947.5,203.7H941.6M947.5,156.9H941.6M947.5,110.1H941.6M947.5,63.4H941.6M947.5,16.6H941.6M947.5,273.8H944.0M947.5,227.1H944.0M947.5,180.3H944.0M947.5,133.5H944.0M947.5,86.8H944.0M947.5,40.0H944.0" stroke="#2b2b2b" stroke-width="1.86" fill="none"/>
<text x="947.5" y="317.7" font-size="14.2" text-anchor="middle" font-family="'Liberation Sans', sans-serif" font-weight="bold" fill="#1a1a1a" color="#1a1a1a">0</text>
<text x="1016.1" y="317.7" font-size="14.2" text-anchor="middle" font-family="'Liberation Sans', sans-serif" font-weight="bold" fill="#1a1a1a" color="#1a1a1a">20</text>
<text x="1084.7" y="317.7" font-size="14.2" text-anchor="middle" font-family="'Liberation Sans', sans-serif" font-weight="bold" fill="#1a1a1a" color="#1a1a1a">40</text>
<text x="1153.4" y="317.7" font-size="14.2" text-anchor="middle" font-family="'Liberation Sans', sans-serif" font-weight="bold" fill="#1a1a1a" color="#1a1a1a">60</text>
<text x="1222.0" y="317.7" font-size="14.2" text-anchor="middle" font-family="'Liberation Sans', sans-serif" font-weight="bold" fill="#1a1a1a" color="#1a1a1a">80</text>
<text x="1288.2" y="317.7" font-size="14.2" text-anchor="middle" font-family="'Liberation Sans', sans-serif" font-weight="bold" fill="#1a1a1a" color="#1a1a1a">100</text>
<rect x="1299.2" y="308.9" width="2.5" height="7.0" fill="#0a0a30"/>
<text x="937.9" y="301.7" font-size="12.5" text-anchor="end" font-family="'Liberation Sans', sans-serif" font-weight="bold" fill="#1a1a1a" color="#1a1a1a">0.0</text>
<text x="937.9" y="254.9" font-size="12.5" text-anchor="end" font-family="'Liberation Sans', sans-serif" font-weight="bold" fill="#1a1a1a" color="#1a1a1a">0.5</text>
<text x="937.9" y="208.2" font-size="12.5" text-anchor="end" font-family="'Liberation Sans', sans-serif" font-weight="bold" fill="#1a1a1a" color="#1a1a1a">1.0</text>
<text x="937.9" y="161.4" font-size="12.5" text-anchor="end" font-family="'Liberation Sans', sans-serif" font-weight="bold" fill="#1a1a1a" color="#1a1a1a">1.5</text>
<text x="937.9" y="114.6" font-size="12.5" text-anchor="end" font-family="'Liberation Sans', sans-serif" font-weight="bold" fill="#1a1a1a" color="#1a1a1a">2.0</text>
<text x="937.9" y="67.9" font-size="12.5" text-anchor="end" font-family="'Liberation Sans', sans-serif" font-weight="bold" fill="#1a1a1a" color="#1a1a1a">2.5</text>
<text x="937.9" y="21.1" font-size="12.5" text-anchor="end" font-family="'Liberation Sans', sans-serif" font-weight="bold" fill="#1a1a1a" color="#1a1a1a">3.0</text>
<rect x="951.6" y="23.5" width="233.9" height="19.8" fill="#fff"/><path d="M951.6,43.3V23.5M950.7,23.5H1185.5" stroke="#b0b0b0" stroke-width="1.76" fill="none"/><path d="M950.7,43.3H1185.5V22.6" stroke="#858585" stroke-width="1.76" fill="none" stroke-linejoin="round"/>
<text x="959.3" y="38.8" font-size="15.3" font-family="'Liberation Serif', serif" font-weight="bold" fill="#161616" color="#161616" textLength="216.7" lengthAdjust="spacingAndGlyphs">RMSD in term of Hydrogen bond</text>
<rect x="1217.6" y="175.9" width="60.9" height="95.7" fill="#fff"/><path d="M1217.6,271.6V175.9M1216.7,175.9H1278.5" stroke="#b0b0b0" stroke-width="1.86" fill="none"/><path d="M1216.7,271.6H1278.5V175.0" stroke="#858585" stroke-width="1.86" fill="none" stroke-linejoin="round"/>
<path d="M1224.0,186.7H1256.7" stroke="#0000ff" stroke-width="3.10" stroke-linecap="round"/>
<text x="1258.9" y="191.0" font-size="14.9" font-family="'Liberation Serif', serif" font-weight="bold" fill="#161616" color="#161616" textLength="16.2" lengthAdjust="spacingAndGlyphs">01</text>
<path d="M1224.0,205.7H1256.7" stroke="#ff0000" stroke-width="3.10" stroke-linecap="round"/>
<text x="1258.9" y="210.0" font-size="14.9" font-family="'Liberation Serif', serif" font-weight="bold" fill="#161616" color="#161616" textLength="16.2" lengthAdjust="spacingAndGlyphs">02</text>
<path d="M1224.0,224.6H1256.7" stroke="#00ff00" stroke-width="3.10" stroke-linecap="round"/>
<text x="1258.9" y="228.9" font-size="14.9" font-family="'Liberation Serif', serif" font-weight="bold" fill="#161616" color="#161616" textLength="16.2" lengthAdjust="spacingAndGlyphs">03</text>
<path d="M1224.0,243.6H1256.7" stroke="#ff00ff" stroke-width="3.10" stroke-linecap="round"/>
<text x="1258.9" y="247.9" font-size="14.9" font-family="'Liberation Serif', serif" font-weight="bold" fill="#161616" color="#161616" textLength="16.2" lengthAdjust="spacingAndGlyphs">04</text>
<path d="M1224.0,262.9H1256.7" stroke="#148014" stroke-width="3.10" stroke-linecap="round"/>
<text x="1258.9" y="267.2" font-size="14.9" font-family="'Liberation Serif', serif" font-weight="bold" fill="#161616" color="#161616" textLength="16.2" lengthAdjust="spacingAndGlyphs">05</text>
<text x="1089.7" y="334.9" font-size="15.0" font-family="'Liberation Serif', serif" font-weight="bold" fill="#161616" color="#161616" textLength="59.9" lengthAdjust="spacingAndGlyphs">Time (ns)</text>
<text transform="translate(913.9,205.2) rotate(-90)" x="0" y="0" font-size="16.3" font-family="'Liberation Serif', serif" font-weight="bold" fill="#161616" color="#161616" textLength="73.0" lengthAdjust="spacingAndGlyphs">RMSD <tspan font-size="13.4" dy="-2.12">(</tspan><tspan font-size="16.3" dy="2.12">A</tspan><tspan font-size="8.2" dy="-8.48">0</tspan><tspan font-size="13.4" dy="6.36">)</tspan></text>
<text x="1084.7" y="370.6" font-size="29.5" font-family="'Liberation Serif', serif" fill="#000" color="#000" style="stroke-width:0" textLength="28.7" lengthAdjust="spacingAndGlyphs">(<tspan font-weight="bold" style="stroke-width:0.3px">c</tspan>)</text>
<path d="M51.5,671.2 L52.7,667.6 L53.8,664.0 L55.0,660.4 L56.2,656.9 L57.3,653.3 L58.5,649.7 L59.7,646.1 L60.8,642.5 L61.1,641.6 L62.0,640.3 L63.2,638.6 L63.7,637.8 L64.3,635.7 L65.5,631.9 L66.7,628.0 L67.8,624.1 L68.0,623.5 L69.0,623.2 L70.2,622.8 L71.3,622.5 L72.5,622.1 L72.8,622.1 L73.7,620.1 L74.9,617.5 L76.0,614.9 L77.2,612.3 L78.4,609.7 L79.2,607.7 L79.5,607.7 L80.7,607.5 L81.9,607.3 L83.0,607.1 L84.2,606.8 L84.5,606.8 L85.4,605.1 L86.5,602.7 L86.6,602.5 L87.7,599.7 L88.9,596.7 L90.0,593.7 L91.2,590.7 L92.0,588.7 L92.4,587.7 L93.5,584.6 L94.7,581.5 L95.9,578.3 L97.0,575.2 L98.2,572.2 L99.4,569.4 L100.5,566.6 L101.7,563.8 L102.9,561.1 L104.0,558.4 L105.2,555.8 L106.4,553.3 L107.5,550.9 L108.7,548.7 L109.9,546.7 L111.0,544.9 L112.2,543.1 L113.4,541.5 L114.5,539.8 L115.7,538.3 L116.9,536.7 L118.1,535.3 L119.2,533.8 L120.4,532.4 L121.6,531.1 L122.7,529.7 L123.9,528.5 L125.1,527.2 L126.2,526.0 L127.4,524.8 L128.6,523.6 L129.7,522.4 L130.9,521.3 L132.1,520.2 L133.2,519.1 L134.4,518.0 L135.6,517.0 L136.7,515.9 L137.9,514.9 L139.1,513.9 L140.2,512.9 L141.4,511.9 L142.6,510.9 L143.7,509.9 L144.9,509.0 L146.1,508.0 L147.2,507.0 L148.4,506.0 L149.6,505.1 L150.7,504.1 L151.9,503.2 L153.1,502.2 L154.2,501.3 L155.4,500.3 L156.6,499.4 L157.7,498.5 L158.9,497.6 L160.1,496.8 L161.3,495.9 L162.4,495.1 L163.6,494.3 L164.8,493.5 L165.9,492.8 L167.1,492.1 L168.3,491.3 L169.4,490.7 L170.6,490.0 L171.8,489.3 L172.9,488.7 L174.1,488.0 L175.3,487.4 L176.4,486.8 L177.6,486.2 L178.8,485.6 L179.9,485.0 L181.1,484.5 L182.3,483.9 L183.4,483.3 L184.6,482.8 L185.8,482.2 L186.9,481.7 L188.1,481.2 L189.3,480.6 L190.4,480.1 L191.6,479.6 L192.8,479.1 L193.9,478.5 L195.1,478.0 L196.3,477.5 L197.4,477.0 L198.6,476.5 L199.8,476.1 L200.9,475.6 L202.1,475.1 L203.3,474.6 L204.5,474.1 L205.6,473.7 L206.8,473.2 L208.0,472.8 L209.1,472.3 L210.3,471.8 L211.5,471.4 L212.6,470.9 L213.8,470.5 L215.0,470.1 L216.1,469.6 L217.3,469.2 L218.5,468.8 L219.6,468.3 L220.8,467.9 L222.0,467.5 L223.1,467.1 L224.3,466.7 L225.5,466.3 L226.6,465.9 L227.8,465.5 L229.0,465.1 L230.1,464.7 L231.3,464.3 L232.5,463.9 L233.6,463.5 L234.8,463.1 L236.0,462.7 L237.1,462.4 L238.3,462.0 L239.5,461.6 L240.6,461.2 L241.8,460.9 L243.0,460.5 L244.1,460.1 L245.3,459.7 L246.5,459.3 L247.6,459.0 L248.8,458.6 L250.0,458.2 L251.2,457.8 L252.3,457.4 L253.5,457.0 L254.7,456.5 L255.8,456.1 L257.0,455.7 L258.2,455.3 L259.3,454.9 L260.5,454.5 L261.7,454.1 L262.8,453.6 L264.0,453.2 L265.2,452.8 L266.3,452.4 L267.5,452.0 L268.7,451.6 L269.8,451.2 L271.0,450.8 L272.2,450.5 L273.3,450.1 L274.5,449.7 L275.7,449.3 L276.8,449.0 L278.0,448.6 L279.2,448.3 L280.3,447.9 L281.5,447.6 L282.7,447.2 L283.8,446.9 L285.0,446.5 L286.2,446.2 L287.3,445.8 L288.5,445.5 L289.7,445.1 L290.8,444.8 L292.0,444.4 L293.2,444.1 L294.4,443.7 L295.5,443.4 L296.7,443.0 L297.9,442.7 L299.0,442.4 L300.2,442.0 L301.4,441.7 L302.5,441.3 L303.7,441.0 L304.9,440.7 L306.0,440.3 L307.2,440.0 L308.4,439.6 L309.5,439.3 L310.7,439.0 L311.9,438.6 L313.0,438.3 L314.2,437.9 L315.4,437.6 L316.5,437.3 L317.7,437.0 L318.9,436.6 L320.0,436.3 L321.2,436.0 L322.4,435.6 L323.5,435.3 L324.7,435.0 L325.9,434.7 L327.0,434.4 L328.2,434.0 L329.4,433.7 L330.5,433.4 L331.7,433.1 L332.9,432.8 L334.0,432.5 L335.2,432.2 L336.4,431.9 L337.6,431.6 L338.7,431.3 L339.9,431.0 L341.1,430.7 L342.2,430.4 L343.4,430.1 L344.6,429.8 L345.7,429.5 L346.9,429.2 L348.1,428.8 L349.2,428.5 L350.4,428.2 L351.6,427.9 L352.7,427.6 L353.9,427.3 L355.1,427.0 L356.2,426.7 L357.4,426.3 L358.6,426.0 L359.7,425.7 L360.9,425.3 L362.1,425.0 L363.2,424.7 L364.4,424.3 L365.6,424.0 L366.7,423.6 L367.9,423.2 L369.1,422.9 L370.2,422.5 L371.4,422.1 L372.6,421.8 L373.7,421.4 L374.9,421.0 L376.1,420.6 L377.2,420.2 L378.4,419.8 L379.6,419.4 L380.8,419.0 L381.9,418.6 L383.1,418.2 L384.3,417.8 L385.4,417.3 L386.6,416.9 L387.8,416.5 L388.9,416.0 L390.1,415.6 L391.3,415.2 L392.4,414.7 L393.6,414.3 L394.8,413.9 L395.9,413.4 L397.1,413.0 L398.3,412.5 L399.4,412.0 L400.6,411.6" fill="none" stroke="#0000ff" stroke-width="2.98" stroke-linejoin="round" stroke-linecap="round"/>
<path d="M51.5,671.2 L52.7,667.6 L53.8,664.0 L55.0,660.4 L56.2,656.9 L57.3,653.3 L58.5,649.7 L59.7,646.1 L60.8,642.5 L61.1,641.6 L62.0,640.3 L63.2,638.6 L63.7,637.8 L64.3,635.7 L65.5,631.9 L66.7,628.0 L67.8,624.1 L68.0,623.5 L69.0,623.2 L70.2,622.8 L71.3,622.5 L72.5,622.1 L72.8,622.1 L73.7,620.1 L74.9,617.5 L76.0,614.9 L77.2,612.3 L78.4,609.7 L79.2,607.7 L79.5,607.7 L80.7,607.5 L81.9,607.3 L83.0,607.1 L84.2,606.8 L84.5,606.8 L85.4,605.1 L86.5,602.7 L86.6,602.5 L87.7,599.7 L88.9,596.7 L90.0,593.7 L91.2,590.7 L92.0,588.7 L92.4,587.7 L93.5,584.6 L94.7,581.5 L95.9,578.4 L97.0,575.3 L98.2,572.2 L99.4,569.4 L100.5,566.5 L101.7,563.7 L102.9,560.8 L104.0,558.0 L105.2,555.3 L106.4,552.6 L107.5,550.1 L108.7,547.9 L109.9,545.8 L111.0,544.0 L112.2,542.3 L113.4,540.6 L114.5,539.0 L115.7,537.4 L116.9,536.0 L118.1,534.5 L119.2,533.1 L120.4,531.7 L121.6,530.4 L122.7,529.1 L123.9,527.8 L125.1,526.6 L126.2,525.4 L127.4,524.2 L128.6,523.0 L129.7,521.8 L130.9,520.7 L132.1,519.6 L133.2,518.5 L134.4,517.4 L135.6,516.3 L136.7,515.2 L137.9,514.2 L139.1,513.2 L140.2,512.2 L141.4,511.1 L142.6,510.1 L143.7,509.1 L144.9,508.1 L146.1,507.1 L147.2,506.1 L148.4,505.2 L149.6,504.2 L150.7,503.2 L151.9,502.2 L153.1,501.3 L154.2,500.3 L155.4,499.4 L156.6,498.5 L157.7,497.6 L158.9,496.7 L160.1,495.8 L161.3,495.0 L162.4,494.2 L163.6,493.4 L164.8,492.6 L165.9,491.8 L167.1,491.1 L168.3,490.4 L169.4,489.7 L170.6,489.0 L171.8,488.4 L172.9,487.7 L174.1,487.1 L175.3,486.5 L176.4,485.9 L177.6,485.3 L178.8,484.7 L179.9,484.1 L181.1,483.5 L182.3,483.0 L183.4,482.4 L184.6,481.8 L185.8,481.3 L186.9,480.8 L188.1,480.2 L189.3,479.7 L190.4,479.2 L191.6,478.6 L192.8,478.1 L193.9,477.6 L195.1,477.1 L196.3,476.6 L197.4,476.1 L198.6,475.6 L199.8,475.1 L200.9,474.6 L202.1,474.2 L203.3,473.7 L204.5,473.2 L205.6,472.7 L206.8,472.2 L208.0,471.8 L209.1,471.3 L210.3,470.8 L211.5,470.4 L212.6,469.9 L213.8,469.5 L215.0,469.0 L216.1,468.5 L217.3,468.1 L218.5,467.6 L219.6,467.2 L220.8,466.7 L222.0,466.3 L223.1,465.9 L224.3,465.4 L225.5,465.0 L226.6,464.6 L227.8,464.2 L229.0,463.7 L230.1,463.3 L231.3,462.9 L232.5,462.5 L233.6,462.1 L234.8,461.7 L236.0,461.3 L237.1,461.0 L238.3,460.6 L239.5,460.2 L240.6,459.8 L241.8,459.4 L243.0,459.1 L244.1,458.7 L245.3,458.3 L246.5,457.9 L247.6,457.5 L248.8,457.1 L250.0,456.7 L251.2,456.3 L252.3,455.9 L253.5,455.4 L254.7,455.0 L255.8,454.6 L257.0,454.1 L258.2,453.7 L259.3,453.2 L260.5,452.8 L261.7,452.3 L262.8,451.9 L264.0,451.4 L265.2,451.0 L266.3,450.5 L267.5,450.1 L268.7,449.6 L269.8,449.2 L271.0,448.7 L272.2,448.3 L273.3,447.9 L274.5,447.4 L275.7,447.0 L276.8,446.6 L278.0,446.2 L279.2,445.8 L280.3,445.4 L281.5,445.0 L282.7,444.6 L283.8,444.2 L285.0,443.8 L286.2,443.4 L287.3,443.1 L288.5,442.7 L289.7,442.3 L290.8,442.0 L292.0,441.6 L293.2,441.3 L294.4,441.0 L295.5,440.6 L296.7,440.3 L297.9,440.0 L299.0,439.6 L300.2,439.3 L301.4,439.0 L302.5,438.7 L303.7,438.4 L304.9,438.1 L306.0,437.8 L307.2,437.5 L308.4,437.2 L309.5,436.8 L310.7,436.5 L311.9,436.2 L313.0,436.0 L314.2,435.7 L315.4,435.4 L316.5,435.1 L317.7,434.8 L318.9,434.5 L320.0,434.2 L321.2,433.9 L322.4,433.6 L323.5,433.3 L324.7,433.0 L325.9,432.7 L327.0,432.4 L328.2,432.1 L329.4,431.9 L330.5,431.6 L331.7,431.3 L332.9,431.0 L334.0,430.7 L335.2,430.4 L336.4,430.2 L337.6,429.9 L338.7,429.6 L339.9,429.3 L341.1,429.0 L342.2,428.8 L343.4,428.5 L344.6,428.2 L345.7,427.9 L346.9,427.6 L348.1,427.4 L349.2,427.1 L350.4,426.8 L351.6,426.5 L352.7,426.2 L353.9,426.0 L355.1,425.7 L356.2,425.4 L357.4,425.1 L358.6,424.8 L359.7,424.5 L360.9,424.2 L362.1,423.9 L363.2,423.7 L364.4,423.4 L365.6,423.1 L366.7,422.8 L367.9,422.5 L369.1,422.2 L370.2,421.9 L371.4,421.6 L372.6,421.2 L373.7,420.9 L374.9,420.6 L376.1,420.3 L377.2,420.0 L378.4,419.7 L379.6,419.4 L380.8,419.1 L381.9,418.7 L383.1,418.4 L384.3,418.1 L385.4,417.8 L386.6,417.5 L387.8,417.1 L388.9,416.8 L390.1,416.5 L391.3,416.2 L392.4,415.8 L393.6,415.5 L394.8,415.2 L395.9,414.8 L397.1,414.5 L398.3,414.2 L399.4,413.9 L400.6,413.5" fill="none" stroke="#ff0000" stroke-width="2.98" stroke-linejoin="round" stroke-linecap="round"/>
<path d="M51.5,671.2 L52.7,667.6 L53.8,664.0 L55.0,660.4 L56.2,656.9 L57.3,653.3 L58.5,649.7 L59.7,646.1 L60.8,642.5 L61.1,641.6 L62.0,640.3 L63.2,638.6 L63.7,637.8 L64.3,635.7 L65.5,631.9 L66.7,628.0 L67.8,624.1 L68.0,623.5 L69.0,623.2 L70.2,622.8 L71.3,622.5 L72.5,622.1 L72.8,622.1 L73.7,620.1 L74.9,617.5 L76.0,614.9 L77.2,612.3 L78.4,609.7 L79.2,607.7 L79.5,607.7 L80.7,607.5 L81.9,607.3 L83.0,607.1 L84.2,606.8 L84.5,606.8 L85.4,605.1 L86.5,602.7 L86.6,602.5 L87.7,599.7 L88.9,596.7 L90.0,593.7 L91.2,590.7 L92.0,588.7 L92.4,587.7 L93.5,584.6 L94.7,581.5 L95.9,578.4 L97.0,575.3 L98.2,572.2 L99.4,569.4 L100.5,566.5 L101.7,563.7 L102.9,560.9 L104.0,558.1 L105.2,555.3 L106.4,552.7 L107.5,550.2 L108.7,547.9 L109.9,545.9 L111.0,544.0 L112.2,542.2 L113.4,540.5 L114.5,538.8 L115.7,537.2 L116.9,535.6 L118.1,534.1 L119.2,532.6 L120.4,531.2 L121.6,529.8 L122.7,528.5 L123.9,527.2 L125.1,525.9 L126.2,524.6 L127.4,523.4 L128.6,522.2 L129.7,521.0 L130.9,519.8 L132.1,518.7 L133.2,517.5 L134.4,516.4 L135.6,515.4 L136.7,514.3 L137.9,513.3 L139.1,512.2 L140.2,511.2 L141.4,510.2 L142.6,509.2 L143.7,508.2 L144.9,507.2 L146.1,506.2 L147.2,505.2 L148.4,504.2 L149.6,503.2 L150.7,502.2 L151.9,501.3 L153.1,500.3 L154.2,499.3 L155.4,498.4 L156.6,497.4 L157.7,496.5 L158.9,495.6 L160.1,494.7 L161.3,493.8 L162.4,493.0 L163.6,492.1 L164.8,491.3 L165.9,490.5 L167.1,489.7 L168.3,488.9 L169.4,488.2 L170.6,487.4 L171.8,486.7 L172.9,486.0 L174.1,485.3 L175.3,484.6 L176.4,483.9 L177.6,483.3 L178.8,482.7 L179.9,482.0 L181.1,481.4 L182.3,480.8 L183.4,480.2 L184.6,479.6 L185.8,479.1 L186.9,478.5 L188.1,478.0 L189.3,477.5 L190.4,476.9 L191.6,476.4 L192.8,475.9 L193.9,475.4 L195.1,474.9 L196.3,474.5 L197.4,474.0 L198.6,473.5 L199.8,473.1 L200.9,472.6 L202.1,472.1 L203.3,471.7 L204.5,471.2 L205.6,470.8 L206.8,470.3 L208.0,469.9 L209.1,469.4 L210.3,469.0 L211.5,468.5 L212.6,468.1 L213.8,467.6 L215.0,467.2 L216.1,466.7 L217.3,466.2 L218.5,465.8 L219.6,465.3 L220.8,464.8 L222.0,464.4 L223.1,463.9 L224.3,463.4 L225.5,462.9 L226.6,462.4 L227.8,461.9 L229.0,461.4 L230.1,460.9 L231.3,460.4 L232.5,459.8 L233.6,459.3 L234.8,458.7 L236.0,458.2 L237.1,457.6 L238.3,457.1 L239.5,456.5 L240.6,455.9 L241.8,455.3 L243.0,454.7 L244.1,454.1 L245.3,453.5 L246.5,452.9 L247.6,452.3 L248.8,451.7 L250.0,451.1 L251.2,450.5 L252.3,449.9 L253.5,449.3 L254.7,448.8 L255.8,448.2 L257.0,447.6 L258.2,447.0 L259.3,446.4 L260.5,445.9 L261.7,445.3 L262.8,444.8 L264.0,444.2 L265.2,443.7 L266.3,443.2 L267.5,442.6 L268.7,442.1 L269.8,441.6 L271.0,441.1 L272.2,440.6 L273.3,440.0 L274.5,439.5 L275.7,439.0 L276.8,438.6 L278.0,438.1 L279.2,437.6 L280.3,437.1 L281.5,436.6 L282.7,436.1 L283.8,435.7 L285.0,435.2 L286.2,434.7 L287.3,434.3 L288.5,433.8 L289.7,433.3 L290.8,432.9 L292.0,432.4 L293.2,432.0 L294.4,431.5 L295.5,431.1 L296.7,430.6 L297.9,430.2 L299.0,429.8 L300.2,429.3 L301.4,428.9 L302.5,428.4 L303.7,428.0 L304.9,427.5 L306.0,427.1 L307.2,426.7 L308.4,426.2 L309.5,425.8 L310.7,425.4 L311.9,424.9 L313.0,424.5 L314.2,424.0 L315.4,423.6 L316.5,423.2 L317.7,422.8 L318.9,422.3 L320.0,421.9 L321.2,421.5 L322.4,421.1 L323.5,420.7 L324.7,420.3 L325.9,419.9 L327.0,419.5 L328.2,419.1 L329.4,418.7 L330.5,418.3 L331.7,418.0 L332.9,417.6 L334.0,417.2 L335.2,416.9 L336.4,416.5 L337.6,416.1 L338.7,415.8 L339.9,415.4 L341.1,415.1 L342.2,414.7 L343.4,414.4 L344.6,414.0 L345.7,413.7 L346.9,413.4 L348.1,413.0 L349.2,412.7 L350.4,412.3 L351.6,412.0 L352.7,411.7 L353.9,411.3 L355.1,411.0 L356.2,410.6 L357.4,410.3 L358.6,409.9 L359.7,409.6 L360.9,409.2 L362.1,408.9 L363.2,408.5 L364.4,408.2 L365.6,407.8 L366.7,407.4 L367.9,407.1 L369.1,406.7 L370.2,406.3 L371.4,406.0 L372.6,405.6 L373.7,405.2 L374.9,404.8 L376.1,404.5 L377.2,404.1 L378.4,403.7 L379.6,403.3 L380.8,403.0 L381.9,402.6 L383.1,402.2 L384.3,401.8 L385.4,401.4 L386.6,401.0 L387.8,400.7 L388.9,400.3 L390.1,399.9 L391.3,399.5 L392.4,399.1 L393.6,398.7 L394.8,398.3 L395.9,397.9 L397.1,397.5 L398.3,397.1 L399.4,396.7 L400.6,396.3" fill="none" stroke="#00ff00" stroke-width="2.98" stroke-linejoin="round" stroke-linecap="round"/>
<path d="M51.5,671.2 L52.7,667.6 L53.8,664.0 L55.0,660.4 L56.2,656.9 L57.3,653.3 L58.5,649.7 L59.7,646.1 L60.8,642.5 L61.1,641.6 L62.0,640.3 L63.2,638.6 L63.7,637.8 L64.3,635.7 L65.5,631.9 L66.7,628.0 L67.8,624.1 L68.0,623.5 L69.0,623.2 L70.2,622.8 L71.3,622.5 L72.5,622.1 L72.8,622.1 L73.7,620.1 L74.9,617.5 L76.0,614.9 L77.2,612.3 L78.4,609.7 L79.2,607.7 L79.5,607.7 L80.7,607.5 L81.9,607.3 L83.0,607.1 L84.2,606.8 L84.5,606.8 L85.4,605.1 L86.5,602.7 L86.6,602.5 L87.7,599.7 L88.9,596.7 L90.0,593.7 L91.2,590.7 L92.0,588.7 L92.4,587.7 L93.5,584.6 L94.7,581.5 L95.9,578.3 L97.0,575.2 L98.2,572.2 L99.4,569.4 L100.5,566.7 L101.7,564.0 L102.9,561.4 L104.0,558.8 L105.2,556.4 L106.4,554.0 L107.5,551.7 L108.7,549.6 L109.9,547.6 L111.0,545.8 L112.2,544.1 L113.4,542.4 L114.5,540.8 L115.7,539.2 L116.9,537.6 L118.1,536.2 L119.2,534.7 L120.4,533.3 L121.6,531.9 L122.7,530.5 L123.9,529.1 L125.1,527.8 L126.2,526.5 L127.4,525.2 L128.6,523.9 L129.7,522.6 L130.9,521.4 L132.1,520.2 L133.2,519.0 L134.4,517.8 L135.6,516.7 L136.7,515.6 L137.9,514.6 L139.1,513.5 L140.2,512.5 L141.4,511.5 L142.6,510.6 L143.7,509.7 L144.9,508.8 L146.1,508.0 L147.2,507.1 L148.4,506.3 L149.6,505.6 L150.7,504.8 L151.9,504.0 L153.1,503.3 L154.2,502.5 L155.4,501.8 L156.6,501.0 L157.7,500.3 L158.9,499.6 L160.1,498.8 L161.3,498.1 L162.4,497.4 L163.6,496.6 L164.8,495.9 L165.9,495.2 L167.1,494.5 L168.3,493.8 L169.4,493.1 L170.6,492.4 L171.8,491.7 L172.9,491.0 L174.1,490.3 L175.3,489.6 L176.4,489.0 L177.6,488.3 L178.8,487.7 L179.9,487.0 L181.1,486.4 L182.3,485.8 L183.4,485.1 L184.6,484.5 L185.8,483.9 L186.9,483.3 L188.1,482.7 L189.3,482.2 L190.4,481.6 L191.6,481.0 L192.8,480.5 L193.9,479.9 L195.1,479.4 L196.3,478.8 L197.4,478.3 L198.6,477.8 L199.8,477.3 L200.9,476.8 L202.1,476.3 L203.3,475.9 L204.5,475.4 L205.6,474.9 L206.8,474.5 L208.0,474.1 L209.1,473.6 L210.3,473.2 L211.5,472.8 L212.6,472.4 L213.8,472.0 L215.0,471.6 L216.1,471.2 L217.3,470.8 L218.5,470.4 L219.6,470.1 L220.8,469.7 L222.0,469.3 L223.1,469.0 L224.3,468.6 L225.5,468.3 L226.6,467.9 L227.8,467.6 L229.0,467.2 L230.1,466.9 L231.3,466.5 L232.5,466.2 L233.6,465.9 L234.8,465.5 L236.0,465.2 L237.1,464.9 L238.3,464.5 L239.5,464.2 L240.6,463.9 L241.8,463.6 L243.0,463.2 L244.1,462.9 L245.3,462.6 L246.5,462.3 L247.6,462.0 L248.8,461.6 L250.0,461.3 L251.2,461.0 L252.3,460.7 L253.5,460.4 L254.7,460.1 L255.8,459.8 L257.0,459.5 L258.2,459.2 L259.3,458.9 L260.5,458.5 L261.7,458.2 L262.8,457.9 L264.0,457.6 L265.2,457.3 L266.3,457.0 L267.5,456.7 L268.7,456.4 L269.8,456.1 L271.0,455.8 L272.2,455.5 L273.3,455.2 L274.5,454.9 L275.7,454.6 L276.8,454.3 L278.0,454.0 L279.2,453.7 L280.3,453.4 L281.5,453.1 L282.7,452.8 L283.8,452.5 L285.0,452.2 L286.2,451.9 L287.3,451.6 L288.5,451.3 L289.7,451.0 L290.8,450.7 L292.0,450.4 L293.2,450.1 L294.4,449.8 L295.5,449.5 L296.7,449.2 L297.9,448.9 L299.0,448.6 L300.2,448.3 L301.4,448.1 L302.5,447.8 L303.7,447.5 L304.9,447.2 L306.0,446.9 L307.2,446.6 L308.4,446.3 L309.5,446.0 L310.7,445.8 L311.9,445.5 L313.0,445.2 L314.2,444.9 L315.4,444.7 L316.5,444.4 L317.7,444.1 L318.9,443.9 L320.0,443.6 L321.2,443.3 L322.4,443.1 L323.5,442.8 L324.7,442.5 L325.9,442.3 L327.0,442.0 L328.2,441.8 L329.4,441.5 L330.5,441.3 L331.7,441.0 L332.9,440.8 L334.0,440.6 L335.2,440.3 L336.4,440.1 L337.6,439.8 L338.7,439.6 L339.9,439.4 L341.1,439.1 L342.2,438.9 L343.4,438.7 L344.6,438.5 L345.7,438.2 L346.9,438.0 L348.1,437.8 L349.2,437.6 L350.4,437.3 L351.6,437.1 L352.7,436.9 L353.9,436.7 L355.1,436.5 L356.2,436.3 L357.4,436.0 L358.6,435.8 L359.7,435.6 L360.9,435.4 L362.1,435.2 L363.2,435.0 L364.4,434.8 L365.6,434.6 L366.7,434.4 L367.9,434.2 L369.1,434.0 L370.2,433.7 L371.4,433.5 L372.6,433.3 L373.7,433.1 L374.9,432.9 L376.1,432.7 L377.2,432.5 L378.4,432.4 L379.6,432.2 L380.8,432.0 L381.9,431.8 L383.1,431.6 L384.3,431.4 L385.4,431.2 L386.6,431.0 L387.8,430.8 L388.9,430.6 L390.1,430.4 L391.3,430.3 L392.4,430.1 L393.6,429.9 L394.8,429.7 L395.9,429.5 L397.1,429.3 L398.3,429.2 L399.4,429.0 L400.6,428.8" fill="none" stroke="#ff00ff" stroke-width="2.98" stroke-linejoin="round" stroke-linecap="round"/>
<path d="M51.5,671.2 L52.7,667.6 L53.8,664.0 L55.0,660.4 L56.2,656.9 L57.3,653.3 L58.5,649.7 L59.7,646.1 L60.8,642.5 L61.1,641.6 L62.0,640.3 L63.2,638.6 L63.7,637.8 L64.3,635.7 L65.5,631.9 L66.7,628.0 L67.8,624.1 L68.0,623.5 L69.0,623.2 L70.2,622.8 L71.3,622.5 L72.5,622.1 L72.8,622.1 L73.7,620.1 L74.9,617.5 L76.0,614.9 L77.2,612.3 L78.4,609.7 L79.2,607.7 L79.5,607.7 L80.7,607.5 L81.9,607.3 L83.0,607.1 L84.2,606.8 L84.5,606.8 L85.4,605.1 L86.5,602.7 L86.6,602.5 L87.7,599.7 L88.9,596.7 L90.0,593.7 L91.2,590.7 L92.0,588.7 L92.4,587.7 L93.5,584.6 L94.7,581.5 L95.9,578.4 L97.0,575.3 L98.2,572.3 L99.4,569.4 L100.5,566.5 L101.7,563.5 L102.9,560.6 L104.0,557.7 L105.2,554.9 L106.4,552.1 L107.5,549.5 L108.7,547.1 L109.9,544.9 L111.0,542.8 L112.2,541.0 L113.4,539.2 L114.5,537.5 L115.7,535.8 L116.9,534.2 L118.1,532.6 L119.2,531.1 L120.4,529.6 L121.6,528.1 L122.7,526.7 L123.9,525.2 L125.1,523.8 L126.2,522.4 L127.4,521.1 L128.6,519.8 L129.7,518.5 L130.9,517.2 L132.1,515.9 L133.2,514.7 L134.4,513.5 L135.6,512.3 L136.7,511.2 L137.9,510.1 L139.1,509.0 L140.2,507.9 L141.4,506.9 L142.6,505.8 L143.7,504.8 L144.9,503.8 L146.1,502.8 L147.2,501.8 L148.4,500.8 L149.6,499.9 L150.7,498.9 L151.9,497.9 L153.1,497.0 L154.2,496.0 L155.4,495.1 L156.6,494.2 L157.7,493.2 L158.9,492.3 L160.1,491.4 L161.3,490.5 L162.4,489.5 L163.6,488.6 L164.8,487.8 L165.9,486.9 L167.1,486.0 L168.3,485.2 L169.4,484.3 L170.6,483.5 L171.8,482.7 L172.9,482.0 L174.1,481.2 L175.3,480.5 L176.4,479.8 L177.6,479.1 L178.8,478.4 L179.9,477.8 L181.1,477.2 L182.3,476.6 L183.4,476.0 L184.6,475.4 L185.8,474.9 L186.9,474.3 L188.1,473.8 L189.3,473.3 L190.4,472.8 L191.6,472.4 L192.8,471.9 L193.9,471.4 L195.1,471.0 L196.3,470.6 L197.4,470.1 L198.6,469.7 L199.8,469.3 L200.9,468.9 L202.1,468.5 L203.3,468.1 L204.5,467.8 L205.6,467.4 L206.8,467.0 L208.0,466.7 L209.1,466.3 L210.3,466.0 L211.5,465.6 L212.6,465.3 L213.8,464.9 L215.0,464.6 L216.1,464.3 L217.3,463.9 L218.5,463.6 L219.6,463.3 L220.8,463.0 L222.0,462.7 L223.1,462.4 L224.3,462.1 L225.5,461.8 L226.6,461.4 L227.8,461.1 L229.0,460.8 L230.1,460.5 L231.3,460.2 L232.5,459.9 L233.6,459.6 L234.8,459.3 L236.0,459.0 L237.1,458.7 L238.3,458.4 L239.5,458.1 L240.6,457.8 L241.8,457.5 L243.0,457.2 L244.1,456.9 L245.3,456.6 L246.5,456.3 L247.6,456.0 L248.8,455.7 L250.0,455.4 L251.2,455.1 L252.3,454.8 L253.5,454.5 L254.7,454.2 L255.8,453.9 L257.0,453.6 L258.2,453.3 L259.3,453.0 L260.5,452.7 L261.7,452.4 L262.8,452.1 L264.0,451.7 L265.2,451.4 L266.3,451.1 L267.5,450.7 L268.7,450.4 L269.8,450.1 L271.0,449.7 L272.2,449.4 L273.3,449.1 L274.5,448.7 L275.7,448.4 L276.8,448.0 L278.0,447.7 L279.2,447.3 L280.3,447.0 L281.5,446.6 L282.7,446.3 L283.8,445.9 L285.0,445.6 L286.2,445.3 L287.3,444.9 L288.5,444.6 L289.7,444.2 L290.8,443.9 L292.0,443.6 L293.2,443.3 L294.4,442.9 L295.5,442.6 L296.7,442.3 L297.9,441.9 L299.0,441.6 L300.2,441.3 L301.4,441.0 L302.5,440.7 L303.7,440.4 L304.9,440.0 L306.0,439.7 L307.2,439.4 L308.4,439.1 L309.5,438.8 L310.7,438.5 L311.9,438.2 L313.0,437.9 L314.2,437.6 L315.4,437.3 L316.5,437.0 L317.7,436.7 L318.9,436.4 L320.0,436.1 L321.2,435.8 L322.4,435.5 L323.5,435.2 L324.7,434.9 L325.9,434.7 L327.0,434.4 L328.2,434.1 L329.4,433.8 L330.5,433.6 L331.7,433.3 L332.9,433.0 L334.0,432.8 L335.2,432.5 L336.4,432.2 L337.6,432.0 L338.7,431.7 L339.9,431.4 L341.1,431.2 L342.2,430.9 L343.4,430.7 L344.6,430.4 L345.7,430.2 L346.9,429.9 L348.1,429.7 L349.2,429.4 L350.4,429.2 L351.6,428.9 L352.7,428.7 L353.9,428.4 L355.1,428.2 L356.2,427.9 L357.4,427.7 L358.6,427.4 L359.7,427.2 L360.9,426.9 L362.1,426.7 L363.2,426.5 L364.4,426.2 L365.6,426.0 L366.7,425.7 L367.9,425.5 L369.1,425.2 L370.2,425.0 L371.4,424.7 L372.6,424.5 L373.7,424.2 L374.9,424.0 L376.1,423.8 L377.2,423.5 L378.4,423.3 L379.6,423.0 L380.8,422.8 L381.9,422.5 L383.1,422.3 L384.3,422.0 L385.4,421.8 L386.6,421.6 L387.8,421.3 L388.9,421.1 L390.1,420.8 L391.3,420.6 L392.4,420.4 L393.6,420.1 L394.8,419.9 L395.9,419.6 L397.1,419.4 L398.3,419.2 L399.4,418.9 L400.6,418.7" fill="none" stroke="#148014" stroke-width="2.98" stroke-linejoin="round" stroke-linecap="round"/>
<rect x="51.5" y="384.9" width="349.1" height="286.3" fill="none" stroke="#3c3c3c" stroke-width="2.09"/>
<path d="M51.5,671.2V677.2M121.3,671.2V677.2M191.1,671.2V677.2M261.0,671.2V677.2M330.8,671.2V677.2M400.6,671.2V677.2M86.4,671.2V674.8M156.2,671.2V674.8M226.1,671.2V674.8M295.9,671.2V674.8M365.7,671.2V674.8M51.5,671.2H45.5M51.5,623.5H45.5M51.5,575.8H45.5M51.5,528.0H45.5M51.5,480.3H45.5M51.5,432.6H45.5M51.5,384.9H45.5M51.5,647.3H47.9M51.5,599.6H47.9M51.5,551.9H47.9M51.5,504.2H47.9M51.5,456.5H47.9M51.5,408.8H47.9" stroke="#2b2b2b" stroke-width="1.89" fill="none"/>
<text x="51.5" y="692.1" font-size="14.4" text-anchor="middle" font-family="'Liberation Sans', sans-serif" font-weight="bold" fill="#1a1a1a" color="#1a1a1a">0</text>
<text x="121.3" y="692.1" font-size="14.4" text-anchor="middle" font-family="'Liberation Sans', sans-serif" font-weight="bold" fill="#1a1a1a" color="#1a1a1a">70</text>
<text x="191.1" y="692.1" font-size="14.4" text-anchor="middle" font-family="'Liberation Sans', sans-serif" font-weight="bold" fill="#1a1a1a" color="#1a1a1a">140</text>
<text x="261.0" y="692.1" font-size="14.4" text-anchor="middle" font-family="'Liberation Sans', sans-serif" font-weight="bold" fill="#1a1a1a" color="#1a1a1a">210</text>
<text x="330.8" y="692.1" font-size="14.4" text-anchor="middle" font-family="'Liberation Sans', sans-serif" font-weight="bold" fill="#1a1a1a" color="#1a1a1a">280</text>
<text x="399.6" y="692.1" font-size="14.4" text-anchor="middle" font-family="'Liberation Sans', sans-serif" font-weight="bold" fill="#1a1a1a" color="#1a1a1a">310</text>
<rect x="410.8" y="683.1" width="2.6" height="7.2" fill="#dceeff"/>
<text x="41.8" y="675.8" font-size="12.7" text-anchor="end" font-family="'Liberation Sans', sans-serif" font-weight="bold" fill="#1a1a1a" color="#1a1a1a">0.0</text>
<text x="41.8" y="628.1" font-size="12.7" text-anchor="end" font-family="'Liberation Sans', sans-serif" font-weight="bold" fill="#1a1a1a" color="#1a1a1a">0.5</text>
<text x="41.8" y="580.3" font-size="12.7" text-anchor="end" font-family="'Liberation Sans', sans-serif" font-weight="bold" fill="#1a1a1a" color="#1a1a1a">1.0</text>
<text x="41.8" y="532.6" font-size="12.7" text-anchor="end" font-family="'Liberation Sans', sans-serif" font-weight="bold" fill="#1a1a1a" color="#1a1a1a">1.5</text>
<text x="41.8" y="484.9" font-size="12.7" text-anchor="end" font-family="'Liberation Sans', sans-serif" font-weight="bold" fill="#1a1a1a" color="#1a1a1a">2.0</text>
<text x="41.8" y="437.2" font-size="12.7" text-anchor="end" font-family="'Liberation Sans', sans-serif" font-weight="bold" fill="#1a1a1a" color="#1a1a1a">2.5</text>
<text x="41.8" y="389.5" font-size="12.7" text-anchor="end" font-family="'Liberation Sans', sans-serif" font-weight="bold" fill="#1a1a1a" color="#1a1a1a">3.0</text>
<rect x="55.5" y="390.4" width="193.9" height="19.5" fill="#fff"/><path d="M55.5,409.9V390.4M54.6,390.4H249.4" stroke="#b0b0b0" stroke-width="1.79" fill="none"/><path d="M54.6,409.9H249.4V389.5" stroke="#858585" stroke-width="1.79" fill="none" stroke-linejoin="round"/>
<text x="65.3" y="406.3" font-size="14.8" font-family="'Liberation Serif', serif" font-weight="bold" fill="#161616" color="#161616" textLength="174.0" lengthAdjust="spacingAndGlyphs">RMSD in term of No bond</text>
<rect x="325.5" y="556.1" width="62.0" height="98.0" fill="#fff"/><path d="M325.5,654.1V556.1M324.6,556.1H387.5" stroke="#b0b0b0" stroke-width="1.89" fill="none"/><path d="M324.6,654.1H387.5V555.2" stroke="#858585" stroke-width="1.89" fill="none" stroke-linejoin="round"/>
<path d="M331.8,568.0H365.4" stroke="#0000ff" stroke-width="3.58" stroke-linecap="round"/>
<text x="368.9" y="572.4" font-size="14.9" font-family="'Liberation Serif', serif" font-weight="bold" fill="#161616" color="#161616" textLength="16.2" lengthAdjust="spacingAndGlyphs">01</text>
<path d="M331.8,587.3H365.4" stroke="#ff0000" stroke-width="3.58" stroke-linecap="round"/>
<text x="368.9" y="591.7" font-size="14.9" font-family="'Liberation Serif', serif" font-weight="bold" fill="#161616" color="#161616" textLength="16.2" lengthAdjust="spacingAndGlyphs">02</text>
<path d="M331.8,606.5H365.4" stroke="#00ff00" stroke-width="3.58" stroke-linecap="round"/>
<text x="368.9" y="610.9" font-size="14.9" font-family="'Liberation Serif', serif" font-weight="bold" fill="#161616" color="#161616" textLength="16.2" lengthAdjust="spacingAndGlyphs">03</text>
<path d="M331.8,625.8H365.4" stroke="#ff00ff" stroke-width="3.58" stroke-linecap="round"/>
<text x="368.9" y="630.2" font-size="14.9" font-family="'Liberation Serif', serif" font-weight="bold" fill="#161616" color="#161616" textLength="16.2" lengthAdjust="spacingAndGlyphs">04</text>
<path d="M331.8,645.5H365.4" stroke="#148014" stroke-width="3.58" stroke-linecap="round"/>
<text x="368.9" y="649.9" font-size="14.9" font-family="'Liberation Serif', serif" font-weight="bold" fill="#161616" color="#161616" textLength="16.2" lengthAdjust="spacingAndGlyphs">05</text>
<text x="159.7" y="706.7" font-size="15.0" font-family="'Liberation Serif', serif" font-weight="bold" fill="#161616" color="#161616" textLength="133.0" lengthAdjust="spacingAndGlyphs">Amino acid residues</text>
<text transform="translate(19.9,577.1) rotate(-90)" x="0" y="0" font-size="16.9" font-family="'Liberation Serif', serif" font-weight="bold" fill="#161616" color="#161616" textLength="73.4" lengthAdjust="spacingAndGlyphs">RMSD <tspan font-size="13.9" dy="-2.20">(</tspan><tspan font-size="16.9" dy="2.20">A</tspan><tspan font-size="8.4" dy="-8.79">0</tspan><tspan font-size="13.9" dy="6.59">)</tspan></text>
<text x="191.2" y="739.1" font-size="29.5" font-family="'Liberation Serif', serif" fill="#000" color="#000" style="stroke-width:0" textLength="32.8" lengthAdjust="spacingAndGlyphs">(<tspan font-weight="bold" style="stroke-width:0.3px">d</tspan>)</text>
<path d="M502.6,667.1 L503.7,663.1 L504.9,659.1 L506.0,655.1 L507.2,651.1 L508.0,648.0 L508.3,646.9 L509.4,641.9 L510.6,636.9 L511.7,631.8 L512.5,628.5 L512.8,627.7 L514.0,625.4 L515.1,623.1 L516.3,620.8 L516.9,619.5 L517.4,617.2 L518.5,612.1 L519.6,607.2 L519.7,607.1 L520.8,606.4 L522.0,605.7 L523.1,605.0 L524.1,604.4 L524.2,604.0 L525.4,601.5 L526.5,599.1 L527.7,596.6 L528.8,594.2 L529.9,591.8 L530.2,591.2 L531.1,591.2 L532.2,591.2 L533.3,591.2 L534.5,591.2 L534.6,591.2 L535.6,587.7 L536.8,583.7 L537.9,579.7 L539.0,575.8 L540.2,571.8 L541.3,567.9 L542.5,563.8 L542.8,562.7 L543.6,560.3 L544.7,556.7 L545.9,553.1 L547.0,549.7 L548.2,546.5 L549.3,543.7 L550.4,541.2 L551.6,538.7 L552.7,536.3 L553.8,534.1 L555.0,532.2 L556.1,530.7 L557.3,529.5 L558.4,528.6 L559.5,527.7 L560.7,526.9 L561.8,526.2 L563.0,525.7 L564.1,525.4 L565.2,525.3 L566.4,525.4 L567.5,525.5 L568.7,525.6 L569.8,525.8 L570.9,526.0 L572.1,526.1 L573.2,526.2 L574.3,526.3 L575.5,526.3 L576.6,526.0 L577.8,525.5 L578.9,524.9 L580.0,524.2 L581.2,523.4 L582.3,522.6 L583.5,521.8 L584.6,521.1 L585.7,520.2 L586.9,519.2 L588.0,518.2 L589.1,517.2 L590.3,516.2 L591.4,515.3 L592.6,514.5 L593.7,513.7 L594.8,513.0 L596.0,512.2 L597.1,511.5 L598.3,510.8 L599.4,510.1 L600.5,509.5 L601.7,508.8 L602.8,508.3 L604.0,507.7 L605.1,507.2 L606.2,506.8 L607.4,506.4 L608.5,506.1 L609.6,505.9 L610.8,505.7 L611.9,505.5 L613.1,505.1 L614.2,504.7 L615.3,503.5 L616.5,501.9 L617.6,500.1 L618.8,498.8 L619.9,498.2 L621.0,497.6 L622.2,497.2 L623.3,496.8 L624.5,496.5 L625.6,496.2 L626.7,495.9 L627.9,495.6 L629.0,495.2 L630.1,494.8 L631.3,494.2 L632.4,493.6 L633.6,492.6 L634.7,491.5 L635.8,490.3 L637.0,489.0 L638.1,487.7 L639.3,486.5 L640.4,485.4 L641.5,484.3 L642.7,483.2 L643.8,482.0 L644.9,480.9 L646.1,479.9 L647.2,479.0 L648.4,478.4 L649.5,478.1 L650.6,477.9 L651.8,477.8 L652.9,477.7 L654.1,477.6 L655.2,477.5 L656.3,477.4 L657.5,476.8 L658.6,475.5 L659.8,473.9 L660.9,472.6 L662.0,471.9 L663.2,471.7 L664.3,471.5 L665.4,471.3 L666.6,471.1 L667.7,471.0 L668.9,470.9 L670.0,470.8 L671.1,470.8 L672.3,470.7 L673.4,470.8 L674.6,470.8 L675.7,470.9 L676.8,471.0 L678.0,471.1 L679.1,471.1 L680.3,471.0 L681.4,470.4 L682.5,469.5 L683.7,468.4 L684.8,467.2 L685.9,466.1 L687.1,465.1 L688.2,464.3 L689.4,463.9 L690.5,463.8 L691.6,463.6 L692.8,463.5 L693.9,463.4 L695.1,463.3 L696.2,463.1 L697.3,462.9 L698.5,462.2 L699.6,461.0 L700.8,459.4 L701.9,457.7 L703.0,456.1 L704.2,454.5 L705.3,453.3 L706.4,452.2 L707.6,451.1 L708.7,450.0 L709.9,449.0 L711.0,448.0 L712.1,447.2 L713.3,446.7 L714.4,446.3 L715.6,446.2 L716.7,446.0 L717.8,445.9 L719.0,445.8 L720.1,445.7 L721.2,445.7 L722.4,445.6 L723.5,445.5 L724.7,445.5 L725.8,445.5 L726.9,445.5 L728.1,445.5 L729.2,445.6 L730.4,445.9 L731.5,446.2 L732.6,446.6 L733.8,446.8 L734.9,447.0 L736.1,447.0 L737.2,446.6 L738.3,446.1 L739.5,445.5 L740.6,444.9 L741.7,444.7 L742.9,444.7 L744.0,444.7 L745.2,444.7 L746.3,444.7 L747.4,444.7 L748.6,444.7 L749.7,444.7 L750.9,444.7 L752.0,444.7 L753.1,444.7 L754.3,444.5 L755.4,444.0 L756.6,443.3 L757.7,442.4 L758.8,441.5 L760.0,440.5 L761.1,439.6 L762.2,438.9 L763.4,438.4 L764.5,438.3 L765.7,438.4 L766.8,438.8 L767.9,439.3 L769.1,439.8 L770.2,440.3 L771.4,440.6 L772.5,440.7 L773.6,440.5 L774.8,440.2 L775.9,439.7 L777.0,439.1 L778.2,438.3 L779.3,437.4 L780.5,436.5 L781.6,435.5 L782.7,434.4 L783.9,433.4 L785.0,432.3 L786.2,431.3 L787.3,430.3 L788.4,429.4 L789.6,428.4 L790.7,427.2 L791.9,425.9 L793.0,424.7 L794.1,423.5 L795.3,422.6 L796.4,421.9 L797.5,421.6 L798.7,421.6 L799.8,421.6 L801.0,421.6 L802.1,421.6 L803.2,421.6 L804.4,421.6 L805.5,421.6 L806.7,421.5 L807.8,421.3 L808.9,420.9 L810.1,420.4 L811.2,419.8 L812.4,419.0 L813.5,418.2 L814.6,417.4 L815.8,416.5 L816.9,415.6 L818.0,414.8 L819.2,414.0 L820.3,413.2 L821.5,412.2 L822.6,411.1 L823.7,410.1 L824.9,409.0 L826.0,408.0 L827.2,407.1 L828.3,406.3 L829.4,405.7 L830.6,405.3 L831.7,405.0 L832.9,404.6 L834.0,404.3 L835.1,404.1 L836.3,403.8 L837.4,403.6 L838.5,403.4 L839.7,403.2 L840.8,403.1 L842.0,403.1 L843.1,403.0" fill="none" stroke="#0000ff" stroke-width="2.91" stroke-linejoin="round" stroke-linecap="round"/>
<path d="M502.6,667.1 L503.7,663.1 L504.9,659.1 L506.0,655.1 L507.2,651.1 L508.0,648.0 L508.3,646.9 L509.4,641.9 L510.6,636.9 L511.7,631.8 L512.5,628.5 L512.8,627.7 L514.0,625.4 L515.1,623.1 L516.3,620.8 L516.9,619.5 L517.4,617.2 L518.5,612.1 L519.6,607.2 L519.7,607.1 L520.8,606.4 L522.0,605.7 L523.1,605.0 L524.1,604.4 L524.2,604.0 L525.4,601.5 L526.5,599.1 L527.7,596.6 L528.8,594.2 L529.9,591.8 L530.2,591.2 L531.1,591.2 L532.2,591.2 L533.3,591.2 L534.5,591.2 L534.6,591.2 L535.6,590.1 L536.8,588.8 L537.9,587.6 L539.0,586.3 L540.2,585.1 L541.1,584.1 L541.3,583.4 L542.5,580.4 L543.6,577.5 L544.7,574.5 L545.9,571.2 L547.0,567.5 L548.2,563.5 L549.3,559.4 L550.4,555.4 L551.6,551.7 L552.7,548.3 L553.8,545.3 L555.0,542.2 L556.1,539.1 L557.3,536.2 L558.4,533.7 L559.5,531.8 L560.7,530.5 L561.8,529.7 L563.0,529.0 L564.1,528.4 L565.2,527.9 L566.4,527.5 L567.5,527.1 L568.7,526.9 L569.8,526.7 L570.9,526.5 L572.1,526.3 L573.2,526.2 L574.3,526.0 L575.5,525.9 L576.6,525.8 L577.8,525.6 L578.9,525.5 L580.0,525.3 L581.2,525.0 L582.3,524.8 L583.5,524.4 L584.6,524.1 L585.7,523.8 L586.9,523.4 L588.0,523.1 L589.1,522.9 L590.3,522.7 L591.4,522.6 L592.6,522.5 L593.7,522.6 L594.8,522.8 L596.0,523.1 L597.1,523.5 L598.3,524.0 L599.4,524.4 L600.5,524.9 L601.7,525.7 L602.8,526.6 L604.0,527.4 L605.1,528.2 L606.2,528.7 L607.4,529.0 L608.5,529.2 L609.6,529.4 L610.8,529.5 L611.9,529.6 L613.1,529.7 L614.2,529.7 L615.3,529.6 L616.5,529.5 L617.6,529.4 L618.8,529.2 L619.9,529.0 L621.0,528.8 L622.2,528.6 L623.3,528.3 L624.5,528.1 L625.6,527.9 L626.7,527.7 L627.9,527.4 L629.0,527.2 L630.1,526.9 L631.3,526.6 L632.4,526.2 L633.6,525.9 L634.7,525.4 L635.8,524.9 L637.0,524.1 L638.1,523.1 L639.3,521.9 L640.4,520.7 L641.5,519.4 L642.7,518.3 L643.8,517.4 L644.9,516.7 L646.1,516.3 L647.2,516.1 L648.4,515.9 L649.5,515.8 L650.6,515.7 L651.8,515.6 L652.9,515.6 L654.1,515.7 L655.2,516.1 L656.3,516.8 L657.5,517.4 L658.6,517.9 L659.8,518.1 L660.9,518.1 L662.0,517.8 L663.2,517.4 L664.3,516.9 L665.4,516.4 L666.6,515.9 L667.7,515.4 L668.9,515.0 L670.0,514.7 L671.1,514.5 L672.3,514.2 L673.4,514.0 L674.6,513.8 L675.7,513.7 L676.8,513.6 L678.0,513.6 L679.1,513.7 L680.3,514.1 L681.4,514.8 L682.5,515.5 L683.7,516.3 L684.8,517.0 L685.9,517.6 L687.1,518.3 L688.2,519.0 L689.4,519.7 L690.5,520.4 L691.6,521.0 L692.8,521.4 L693.9,521.5 L695.1,521.4 L696.2,521.2 L697.3,520.7 L698.5,520.2 L699.6,519.6 L700.8,519.0 L701.9,518.3 L703.0,517.3 L704.2,515.8 L705.3,514.2 L706.4,512.5 L707.6,511.1 L708.7,510.0 L709.9,509.6 L711.0,509.6 L712.1,509.6 L713.3,509.6 L714.4,509.6 L715.6,509.6 L716.7,509.6 L717.8,509.6 L719.0,509.6 L720.1,509.6 L721.2,509.6 L722.4,509.8 L723.5,510.3 L724.7,510.9 L725.8,511.6 L726.9,512.2 L728.1,512.6 L729.2,512.8 L730.4,512.5 L731.5,511.8 L732.6,511.0 L733.8,510.0 L734.9,508.9 L736.1,508.0 L737.2,507.2 L738.3,506.6 L739.5,506.0 L740.6,505.5 L741.7,505.0 L742.9,504.5 L744.0,504.0 L745.2,503.4 L746.3,502.7 L747.4,501.9 L748.6,500.7 L749.7,499.4 L750.9,498.1 L752.0,496.9 L753.1,495.9 L754.3,495.2 L755.4,494.6 L756.6,494.1 L757.7,493.6 L758.8,493.2 L760.0,492.7 L761.1,492.1 L762.2,491.4 L763.4,490.5 L764.5,489.0 L765.7,487.2 L766.8,485.4 L767.9,483.9 L769.1,483.1 L770.2,482.9 L771.4,482.7 L772.5,482.5 L773.6,482.4 L774.8,482.3 L775.9,482.3 L777.0,482.5 L778.2,482.9 L779.3,483.4 L780.5,483.9 L781.6,484.3 L782.7,484.6 L783.9,484.7 L785.0,484.5 L786.2,484.1 L787.3,483.6 L788.4,483.1 L789.6,482.7 L790.7,482.4 L791.9,482.3 L793.0,482.5 L794.1,482.9 L795.3,483.3 L796.4,483.7 L797.5,483.9 L798.7,483.9 L799.8,483.8 L801.0,483.6 L802.1,483.5 L803.2,483.3 L804.4,483.1 L805.5,482.8 L806.7,482.4 L807.8,481.9 L808.9,481.4 L810.1,480.9 L811.2,480.5 L812.4,480.1 L813.5,479.9 L814.6,479.9 L815.8,480.4 L816.9,481.1 L818.0,482.2 L819.2,483.3 L820.3,484.5 L821.5,485.6 L822.6,486.5 L823.7,487.1 L824.9,487.5 L826.0,487.9 L827.2,488.3 L828.3,488.7 L829.4,489.0 L830.6,489.2 L831.7,489.4 L832.9,489.5 L834.0,489.4 L835.1,489.3 L836.3,489.1 L837.4,488.9 L838.5,488.5 L839.7,488.1 L840.8,487.5 L842.0,486.9 L843.1,486.3" fill="none" stroke="#7800ff" stroke-width="2.91" stroke-linejoin="round" stroke-linecap="round"/>
<path d="M502.6,667.1 L503.7,663.1 L504.9,659.1 L506.0,655.1 L507.2,651.1 L508.0,648.0 L508.3,646.9 L509.4,641.9 L510.6,636.9 L511.7,631.8 L512.5,628.5 L512.8,627.7 L514.0,625.4 L515.1,623.1 L516.3,620.8 L516.9,619.5 L517.4,617.2 L518.5,612.1 L519.6,607.2 L519.7,607.1 L520.8,606.4 L522.0,605.7 L523.1,605.0 L524.1,604.4 L524.2,604.0 L525.4,601.5 L526.5,599.1 L527.7,596.6 L528.8,594.2 L529.9,591.8 L530.2,591.2 L531.1,591.2 L532.2,591.2 L533.3,591.2 L534.5,591.2 L534.6,591.2 L535.6,590.1 L536.8,588.8 L537.9,587.6 L539.0,586.3 L540.2,585.1 L541.1,584.1 L541.3,583.6 L542.5,581.5 L543.6,579.4 L544.7,577.2 L545.9,574.9 L547.0,572.5 L548.2,569.9 L549.3,567.2 L550.4,564.3 L551.6,561.2 L552.7,558.1 L553.8,555.1 L555.0,552.1 L556.1,549.1 L557.3,546.1 L558.4,543.7 L559.5,542.0 L560.7,540.5 L561.8,539.3 L563.0,538.4 L564.1,537.8 L565.2,537.3 L566.4,536.9 L567.5,536.6 L568.7,536.3 L569.8,536.1 L570.9,536.1 L572.1,536.1 L573.2,536.2 L574.3,536.5 L575.5,536.7 L576.6,537.0 L577.8,537.3 L578.9,537.6 L580.0,537.9 L581.2,538.2 L582.3,538.5 L583.5,538.9 L584.6,539.2 L585.7,539.6 L586.9,539.9 L588.0,540.1 L589.1,540.3 L590.3,540.4 L591.4,540.4 L592.6,540.3 L593.7,540.2 L594.8,540.0 L596.0,539.7 L597.1,539.4 L598.3,539.1 L599.4,538.7 L600.5,538.3 L601.7,537.6 L602.8,536.8 L604.0,536.0 L605.1,535.2 L606.2,534.5 L607.4,534.1 L608.5,533.8 L609.6,533.5 L610.8,533.3 L611.9,533.1 L613.1,532.8 L614.2,532.4 L615.3,531.6 L616.5,530.6 L617.6,529.3 L618.8,527.9 L619.9,526.4 L621.0,524.8 L622.2,523.3 L623.3,521.9 L624.5,520.8 L625.6,519.8 L626.7,518.8 L627.9,517.8 L629.0,516.9 L630.1,516.0 L631.3,515.1 L632.4,514.3 L633.6,513.6 L634.7,513.0 L635.8,512.4 L637.0,511.8 L638.1,511.3 L639.3,510.9 L640.4,510.5 L641.5,510.1 L642.7,509.6 L643.8,509.2 L644.9,508.8 L646.1,508.3 L647.2,507.8 L648.4,507.3 L649.5,506.8 L650.6,506.3 L651.8,505.8 L652.9,505.3 L654.1,504.8 L655.2,504.3 L656.3,503.9 L657.5,503.4 L658.6,503.0 L659.8,502.6 L660.9,502.3 L662.0,501.9 L663.2,501.5 L664.3,501.1 L665.4,500.8 L666.6,500.4 L667.7,500.0 L668.9,499.6 L670.0,499.1 L671.1,498.6 L672.3,498.0 L673.4,497.4 L674.6,496.7 L675.7,496.0 L676.8,495.3 L678.0,494.6 L679.1,494.0 L680.3,493.4 L681.4,492.9 L682.5,492.4 L683.7,492.1 L684.8,491.9 L685.9,491.9 L687.1,491.9 L688.2,491.9 L689.4,491.9 L690.5,491.9 L691.6,491.9 L692.8,491.9 L693.9,491.9 L695.1,491.9 L696.2,491.9 L697.3,491.9 L698.5,491.9 L699.6,491.9 L700.8,491.9 L701.9,491.9 L703.0,491.7 L704.2,491.5 L705.3,491.1 L706.4,490.6 L707.6,490.0 L708.7,489.3 L709.9,488.6 L711.0,488.0 L712.1,487.3 L713.3,486.7 L714.4,486.2 L715.6,485.8 L716.7,485.6 L717.8,485.5 L719.0,485.5 L720.1,485.5 L721.2,485.6 L722.4,485.7 L723.5,485.7 L724.7,485.8 L725.8,485.9 L726.9,486.1 L728.1,486.2 L729.2,486.3 L730.4,486.4 L731.5,486.5 L732.6,486.6 L733.8,486.8 L734.9,486.8 L736.1,486.9 L737.2,487.0 L738.3,487.0 L739.5,487.1 L740.6,487.1 L741.7,486.8 L742.9,486.3 L744.0,485.6 L745.2,484.8 L746.3,483.9 L747.4,483.0 L748.6,482.2 L749.7,481.5 L750.9,481.0 L752.0,480.4 L753.1,479.9 L754.3,479.4 L755.4,478.9 L756.6,478.4 L757.7,478.0 L758.8,477.5 L760.0,477.0 L761.1,476.5 L762.2,476.0 L763.4,475.5 L764.5,475.0 L765.7,474.4 L766.8,473.8 L767.9,473.1 L769.1,472.3 L770.2,471.4 L771.4,470.6 L772.5,469.7 L773.6,468.8 L774.8,468.0 L775.9,467.2 L777.0,466.5 L778.2,465.8 L779.3,465.3 L780.5,464.9 L781.6,464.6 L782.7,464.5 L783.9,464.4 L785.0,464.3 L786.2,464.2 L787.3,464.1 L788.4,463.9 L789.6,463.4 L790.7,462.5 L791.9,461.1 L793.0,459.5 L794.1,457.6 L795.3,455.6 L796.4,453.6 L797.5,451.6 L798.7,449.7 L799.8,448.0 L801.0,446.5 L802.1,445.3 L803.2,444.2 L804.4,443.2 L805.5,442.2 L806.7,441.2 L807.8,440.2 L808.9,439.3 L810.1,438.4 L811.2,437.5 L812.4,436.6 L813.5,435.7 L814.6,434.7 L815.8,433.8 L816.9,432.8 L818.0,431.9 L819.2,431.0 L820.3,430.1 L821.5,429.1 L822.6,428.1 L823.7,427.1 L824.9,425.9 L826.0,424.5 L827.2,423.1 L828.3,421.6 L829.4,420.2 L830.6,418.9 L831.7,417.7 L832.9,416.8 L834.0,416.1 L835.1,415.5 L836.3,414.8 L837.4,414.3 L838.5,413.7 L839.7,413.3 L840.8,413.0 L842.0,412.7 L843.1,412.6" fill="none" stroke="#00ff00" stroke-width="2.91" stroke-linejoin="round" stroke-linecap="round"/>
<path d="M502.6,667.1 L503.7,663.1 L504.9,659.1 L506.0,655.1 L507.2,651.1 L508.0,648.0 L508.3,646.9 L509.4,641.9 L510.6,636.9 L511.7,631.8 L512.5,628.5 L512.8,627.7 L514.0,625.4 L515.1,623.1 L516.3,620.8 L516.9,619.5 L517.4,617.2 L518.5,612.1 L519.6,607.2 L519.7,607.1 L520.8,606.4 L522.0,605.7 L523.1,605.0 L524.1,604.4 L524.2,604.0 L525.4,601.5 L526.5,599.1 L527.7,596.6 L528.8,594.2 L529.9,591.8 L530.2,591.2 L531.1,591.2 L532.2,591.2 L533.3,591.2 L534.5,591.2 L534.6,591.2 L535.6,590.1 L536.8,588.8 L537.9,587.6 L539.0,586.3 L540.2,585.1 L541.1,584.1 L541.3,583.6 L542.5,581.5 L543.6,579.4 L544.7,577.2 L545.9,574.9 L547.0,572.5 L548.2,569.9 L549.3,567.1 L550.4,564.1 L551.6,561.0 L552.7,557.8 L553.8,554.8 L555.0,552.1 L556.1,549.5 L557.3,547.0 L558.4,545.2 L559.5,544.3 L560.7,543.7 L561.8,543.1 L563.0,542.7 L564.1,542.3 L565.2,542.0 L566.4,541.6 L567.5,541.3 L568.7,540.9 L569.8,540.4 L570.9,540.0 L572.1,539.6 L573.2,539.2 L574.3,538.9 L575.5,538.7 L576.6,538.7 L577.8,538.7 L578.9,538.8 L580.0,538.9 L581.2,539.0 L582.3,539.1 L583.5,539.2 L584.6,539.3 L585.7,539.4 L586.9,539.4 L588.0,539.4 L589.1,539.1 L590.3,538.8 L591.4,538.2 L592.6,537.6 L593.7,537.0 L594.8,536.2 L596.0,535.5 L597.1,534.8 L598.3,534.1 L599.4,533.2 L600.5,532.2 L601.7,531.2 L602.8,530.1 L604.0,529.1 L605.1,528.1 L606.2,527.4 L607.4,526.8 L608.5,526.3 L609.6,525.8 L610.8,525.5 L611.9,525.3 L613.1,525.4 L614.2,525.8 L615.3,526.4 L616.5,527.1 L617.6,527.8 L618.8,528.4 L619.9,528.8 L621.0,528.9 L622.2,528.8 L623.3,528.6 L624.5,528.3 L625.6,527.9 L626.7,527.5 L627.9,527.0 L629.0,526.5 L630.1,526.0 L631.3,525.5 L632.4,524.9 L633.6,524.2 L634.7,523.4 L635.8,522.5 L637.0,521.6 L638.1,520.8 L639.3,520.1 L640.4,519.5 L641.5,519.2 L642.7,519.2 L643.8,519.3 L644.9,519.7 L646.1,520.1 L647.2,520.7 L648.4,521.2 L649.5,521.8 L650.6,522.6 L651.8,523.7 L652.9,524.8 L654.1,525.9 L655.2,526.7 L656.3,527.1 L657.5,527.0 L658.6,526.8 L659.8,526.5 L660.9,526.1 L662.0,525.7 L663.2,525.3 L664.3,525.0 L665.4,524.7 L666.6,524.5 L667.7,524.5 L668.9,524.6 L670.0,524.7 L671.1,524.8 L672.3,525.0 L673.4,525.1 L674.6,525.3 L675.7,525.5 L676.8,525.6 L678.0,525.8 L679.1,526.0 L680.3,526.1 L681.4,526.2 L682.5,526.3 L683.7,526.3 L684.8,526.3 L685.9,526.0 L687.1,525.5 L688.2,524.8 L689.4,524.0 L690.5,523.2 L691.6,522.3 L692.8,521.5 L693.9,520.8 L695.1,520.0 L696.2,519.1 L697.3,518.2 L698.5,517.2 L699.6,516.2 L700.8,515.2 L701.9,514.2 L703.0,513.3 L704.2,512.6 L705.3,511.9 L706.4,511.5 L707.6,511.2 L708.7,511.2 L709.9,511.3 L711.0,511.5 L712.1,511.7 L713.3,512.0 L714.4,512.4 L715.6,512.8 L716.7,513.2 L717.8,513.6 L719.0,514.1 L720.1,514.7 L721.2,515.5 L722.4,516.2 L723.5,517.0 L724.7,517.6 L725.8,518.1 L726.9,518.3 L728.1,518.3 L729.2,517.9 L730.4,517.3 L731.5,516.5 L732.6,515.7 L733.8,514.9 L734.9,514.2 L736.1,513.7 L737.2,513.6 L738.3,513.7 L739.5,514.1 L740.6,514.7 L741.7,515.4 L742.9,516.1 L744.0,516.8 L745.2,517.3 L746.3,517.5 L747.4,517.5 L748.6,517.5 L749.7,517.5 L750.9,517.5 L752.0,517.5 L753.1,517.5 L754.3,517.4 L755.4,517.4 L756.6,517.3 L757.7,517.3 L758.8,517.2 L760.0,517.2 L761.1,517.1 L762.2,517.0 L763.4,516.9 L764.5,516.9 L765.7,516.8 L766.8,516.5 L767.9,515.9 L769.1,515.1 L770.2,514.1 L771.4,513.1 L772.5,512.1 L773.6,511.2 L774.8,510.6 L775.9,510.3 L777.0,510.2 L778.2,510.1 L779.3,510.0 L780.5,510.0 L781.6,509.9 L782.7,509.8 L783.9,509.7 L785.0,509.6 L786.2,509.2 L787.3,508.4 L788.4,507.3 L789.6,505.9 L790.7,504.5 L791.9,503.1 L793.0,501.9 L794.1,501.1 L795.3,500.6 L796.4,500.3 L797.5,500.0 L798.7,499.7 L799.8,499.5 L801.0,499.3 L802.1,499.2 L803.2,499.3 L804.4,499.6 L805.5,500.3 L806.7,501.1 L807.8,502.0 L808.9,503.1 L810.1,504.2 L811.2,505.2 L812.4,506.1 L813.5,506.8 L814.6,507.4 L815.8,507.9 L816.9,508.5 L818.0,509.0 L819.2,509.4 L820.3,509.8 L821.5,510.1 L822.6,510.3 L823.7,510.4 L824.9,510.1 L826.0,509.5 L827.2,508.7 L828.3,507.7 L829.4,506.7 L830.6,505.9 L831.7,505.2 L832.9,504.8 L834.0,504.8 L835.1,504.9 L836.3,505.1 L837.4,505.4 L838.5,505.8 L839.7,506.4 L840.8,507.0 L842.0,507.8 L843.1,508.8" fill="none" stroke="#ff0000" stroke-width="2.91" stroke-linejoin="round" stroke-linecap="round"/>
<path d="M502.6,667.1 L503.7,663.1 L504.9,659.1 L506.0,655.1 L507.2,651.1 L508.0,648.0 L508.3,646.9 L509.4,641.9 L510.6,636.9 L511.7,631.8 L512.5,628.5 L512.8,627.7 L514.0,625.4 L515.1,623.1 L516.3,620.8 L516.9,619.5 L517.4,617.2 L518.5,612.1 L519.6,607.2 L519.7,607.1 L520.8,606.4 L522.0,605.7 L523.1,605.0 L524.1,604.4 L524.2,604.0 L525.4,601.5 L526.5,599.1 L527.7,596.6 L528.8,594.2 L529.9,591.8 L530.2,591.2 L531.1,591.2 L532.2,591.2 L533.3,591.2 L534.5,591.2 L534.6,591.2 L535.6,590.1 L536.8,588.8 L537.9,587.6 L539.0,586.3 L540.2,585.1 L541.1,584.1 L541.3,583.6 L542.5,581.5 L543.6,579.4 L544.7,577.2 L545.9,574.9 L547.0,572.5 L548.2,569.9 L549.3,567.2 L550.4,564.1 L551.6,561.0 L552.7,557.9 L553.8,554.9 L555.0,552.1 L556.1,549.6 L557.3,547.3 L558.4,545.0 L559.5,542.9 L560.7,540.9 L561.8,539.0 L563.0,537.1 L564.1,535.2 L565.2,533.6 L566.4,532.1 L567.5,530.8 L568.7,529.7 L569.8,528.6 L570.9,527.5 L572.1,526.5 L573.2,525.7 L574.3,525.0 L575.5,524.6 L576.6,524.5 L577.8,524.5 L578.9,524.5 L580.0,524.5 L581.2,524.5 L582.3,524.5 L583.5,524.5 L584.6,524.4 L585.7,523.9 L586.9,523.1 L588.0,522.1 L589.1,521.1 L590.3,520.1 L591.4,519.2 L592.6,518.5 L593.7,518.2 L594.8,518.2 L596.0,518.5 L597.1,519.1 L598.3,519.7 L599.4,520.4 L600.5,521.0 L601.7,521.5 L602.8,521.7 L604.0,521.7 L605.1,521.6 L606.2,521.5 L607.4,521.3 L608.5,521.1 L609.6,520.9 L610.8,520.6 L611.9,520.1 L613.1,519.4 L614.2,518.5 L615.3,517.5 L616.5,516.4 L617.6,515.3 L618.8,514.1 L619.9,513.0 L621.0,511.9 L622.2,510.9 L623.3,510.1 L624.5,509.4 L625.6,508.8 L626.7,508.2 L627.9,507.7 L629.0,507.1 L630.1,506.5 L631.3,506.0 L632.4,505.5 L633.6,505.0 L634.7,504.6 L635.8,504.1 L637.0,503.8 L638.1,503.5 L639.3,503.3 L640.4,503.1 L641.5,503.0 L642.7,503.0 L643.8,503.0 L644.9,503.0 L646.1,503.0 L647.2,503.0 L648.4,503.2 L649.5,504.2 L650.6,505.6 L651.8,506.9 L652.9,507.6 L654.1,507.5 L655.2,507.2 L656.3,506.8 L657.5,506.2 L658.6,505.5 L659.8,504.9 L660.9,504.1 L662.0,503.0 L663.2,501.6 L664.3,500.2 L665.4,498.7 L666.6,497.4 L667.7,496.2 L668.9,495.4 L670.0,495.0 L671.1,494.8 L672.3,494.6 L673.4,494.5 L674.6,494.4 L675.7,494.3 L676.8,494.1 L678.0,493.9 L679.1,493.7 L680.3,493.4 L681.4,493.2 L682.5,492.9 L683.7,492.6 L684.8,492.4 L685.9,492.1 L687.1,491.9 L688.2,491.6 L689.4,491.4 L690.5,491.3 L691.6,491.2 L692.8,491.1 L693.9,491.1 L695.1,491.2 L696.2,491.8 L697.3,492.6 L698.5,493.7 L699.6,494.9 L700.8,496.1 L701.9,497.3 L703.0,498.5 L704.2,499.5 L705.3,500.3 L706.4,500.8 L707.6,501.0 L708.7,501.2 L709.9,501.4 L711.0,501.6 L712.1,501.7 L713.3,501.8 L714.4,502.0 L715.6,502.1 L716.7,502.2 L717.8,502.4 L719.0,502.6 L720.1,502.8 L721.2,503.0 L722.4,503.2 L723.5,503.4 L724.7,503.6 L725.8,503.9 L726.9,504.1 L728.1,504.3 L729.2,504.6 L730.4,504.8 L731.5,505.1 L732.6,505.3 L733.8,505.6 L734.9,505.9 L736.1,506.3 L737.2,506.7 L738.3,507.1 L739.5,507.5 L740.6,508.0 L741.7,508.4 L742.9,508.9 L744.0,509.3 L745.2,509.6 L746.3,509.9 L747.4,510.2 L748.6,510.3 L749.7,510.4 L750.9,510.2 L752.0,509.7 L753.1,509.0 L754.3,508.0 L755.4,506.9 L756.6,505.7 L757.7,504.4 L758.8,503.2 L760.0,502.1 L761.1,500.7 L762.2,499.1 L763.4,497.6 L764.5,496.4 L765.7,495.8 L766.8,495.9 L767.9,496.0 L769.1,496.2 L770.2,496.5 L771.4,496.8 L772.5,497.1 L773.6,497.5 L774.8,497.8 L775.9,498.2 L777.0,498.5 L778.2,498.8 L779.3,499.0 L780.5,499.2 L781.6,499.2 L782.7,499.2 L783.9,499.0 L785.0,498.7 L786.2,498.3 L787.3,497.9 L788.4,497.4 L789.6,496.9 L790.7,496.3 L791.9,495.8 L793.0,495.2 L794.1,494.7 L795.3,494.3 L796.4,493.9 L797.5,493.6 L798.7,493.5 L799.8,493.5 L801.0,493.6 L802.1,493.8 L803.2,494.2 L804.4,494.7 L805.5,495.2 L806.7,495.8 L807.8,496.4 L808.9,497.0 L810.1,497.7 L811.2,498.3 L812.4,498.8 L813.5,499.3 L814.6,499.6 L815.8,499.9 L816.9,500.0 L818.0,500.0 L819.2,499.7 L820.3,499.3 L821.5,498.8 L822.6,498.2 L823.7,497.6 L824.9,496.9 L826.0,496.2 L827.2,495.6 L828.3,494.8 L829.4,493.9 L830.6,492.9 L831.7,491.9 L832.9,490.9 L834.0,490.2 L835.1,489.7 L836.3,489.5 L837.4,489.5 L838.5,489.5 L839.7,489.5 L840.8,489.5 L842.0,489.5 L843.1,489.5" fill="none" stroke="#148014" stroke-width="2.91" stroke-linejoin="round" stroke-linecap="round"/>
<rect x="502.6" y="388.3" width="340.5" height="278.8" fill="none" stroke="#3c3c3c" stroke-width="2.04"/>
<path d="M502.6,667.1V672.9M570.7,667.1V672.9M638.8,667.1V672.9M706.9,667.1V672.9M775.0,667.1V672.9M843.1,667.1V672.9M536.6,667.1V670.6M604.8,667.1V670.6M672.9,667.1V670.6M741.0,667.1V670.6M809.0,667.1V670.6M502.6,667.1H496.8M502.6,627.3H496.8M502.6,587.4H496.8M502.6,547.6H496.8M502.6,507.8H496.8M502.6,468.0H496.8M502.6,428.1H496.8M502.6,388.3H496.8M502.6,647.2H499.1M502.6,607.4H499.1M502.6,567.5H499.1M502.6,527.7H499.1M502.6,487.9H499.1M502.6,448.0H499.1M502.6,408.2H499.1" stroke="#2b2b2b" stroke-width="1.84" fill="none"/>
<text x="502.6" y="687.5" font-size="14.1" text-anchor="middle" font-family="'Liberation Sans', sans-serif" font-weight="bold" fill="#1a1a1a" color="#1a1a1a">0</text>
<text x="570.7" y="687.5" font-size="14.1" text-anchor="middle" font-family="'Liberation Sans', sans-serif" font-weight="bold" fill="#1a1a1a" color="#1a1a1a">70</text>
<text x="638.8" y="687.5" font-size="14.1" text-anchor="middle" font-family="'Liberation Sans', sans-serif" font-weight="bold" fill="#1a1a1a" color="#1a1a1a">140</text>
<text x="706.9" y="687.5" font-size="14.1" text-anchor="middle" font-family="'Liberation Sans', sans-serif" font-weight="bold" fill="#1a1a1a" color="#1a1a1a">210</text>
<text x="775.0" y="687.5" font-size="14.1" text-anchor="middle" font-family="'Liberation Sans', sans-serif" font-weight="bold" fill="#1a1a1a" color="#1a1a1a">280</text>
<text x="842.1" y="687.5" font-size="14.1" text-anchor="middle" font-family="'Liberation Sans', sans-serif" font-weight="bold" fill="#1a1a1a" color="#1a1a1a">310</text>
<rect x="853.1" y="678.7" width="2.5" height="7.0" fill="#0a0a30"/>
<text x="493.1" y="671.6" font-size="12.4" text-anchor="end" font-family="'Liberation Sans', sans-serif" font-weight="bold" fill="#1a1a1a" color="#1a1a1a">0.0</text>
<text x="493.1" y="631.7" font-size="12.4" text-anchor="end" font-family="'Liberation Sans', sans-serif" font-weight="bold" fill="#1a1a1a" color="#1a1a1a">0.2</text>
<text x="493.1" y="591.9" font-size="12.4" text-anchor="end" font-family="'Liberation Sans', sans-serif" font-weight="bold" fill="#1a1a1a" color="#1a1a1a">0.4</text>
<text x="493.1" y="552.1" font-size="12.4" text-anchor="end" font-family="'Liberation Sans', sans-serif" font-weight="bold" fill="#1a1a1a" color="#1a1a1a">0.6</text>
<text x="493.1" y="512.2" font-size="12.4" text-anchor="end" font-family="'Liberation Sans', sans-serif" font-weight="bold" fill="#1a1a1a" color="#1a1a1a">0.8</text>
<text x="493.1" y="472.4" font-size="12.4" text-anchor="end" font-family="'Liberation Sans', sans-serif" font-weight="bold" fill="#1a1a1a" color="#1a1a1a">1.0</text>
<text x="493.1" y="432.6" font-size="12.4" text-anchor="end" font-family="'Liberation Sans', sans-serif" font-weight="bold" fill="#1a1a1a" color="#1a1a1a">1.2</text>
<text x="493.1" y="392.8" font-size="12.4" text-anchor="end" font-family="'Liberation Sans', sans-serif" font-weight="bold" fill="#1a1a1a" color="#1a1a1a">1.4</text>
<rect x="508.4" y="394.4" width="231.1" height="18.6" fill="#fff"/><path d="M508.4,413.0V394.4M507.5,394.4H739.5" stroke="#b0b0b0" stroke-width="1.75" fill="none"/><path d="M507.5,413.0H739.5V393.5" stroke="#858585" stroke-width="1.75" fill="none" stroke-linejoin="round"/>
<text x="516.1" y="409.6" font-size="14.8" font-family="'Liberation Serif', serif" font-weight="bold" fill="#161616" color="#161616" textLength="214.9" lengthAdjust="spacingAndGlyphs">RMSD in term of Backbone bond</text>
<rect x="772.7" y="557.8" width="60.9" height="95.8" fill="#fff"/><path d="M772.7,653.6V557.8M771.8,557.8H833.6" stroke="#b0b0b0" stroke-width="1.84" fill="none"/><path d="M771.8,653.6H833.6V556.9" stroke="#858585" stroke-width="1.84" fill="none" stroke-linejoin="round"/>
<path d="M779.1,569.0H812.3" stroke="#0000ff" stroke-width="3.49" stroke-linecap="round"/>
<text x="815.6" y="573.3" font-size="14.9" font-family="'Liberation Serif', serif" font-weight="bold" fill="#161616" color="#161616" textLength="15.3" lengthAdjust="spacingAndGlyphs">01</text>
<path d="M779.1,587.9H812.3" stroke="#7800ff" stroke-width="3.49" stroke-linecap="round"/>
<text x="815.6" y="592.2" font-size="14.9" font-family="'Liberation Serif', serif" font-weight="bold" fill="#161616" color="#161616" textLength="15.3" lengthAdjust="spacingAndGlyphs">02</text>
<path d="M779.1,606.5H812.3" stroke="#00ff00" stroke-width="3.49" stroke-linecap="round"/>
<text x="815.6" y="610.8" font-size="14.9" font-family="'Liberation Serif', serif" font-weight="bold" fill="#161616" color="#161616" textLength="15.3" lengthAdjust="spacingAndGlyphs">03</text>
<path d="M779.1,625.5H812.3" stroke="#ff0000" stroke-width="3.49" stroke-linecap="round"/>
<text x="815.6" y="629.8" font-size="14.9" font-family="'Liberation Serif', serif" font-weight="bold" fill="#161616" color="#161616" textLength="15.3" lengthAdjust="spacingAndGlyphs">04</text>
<path d="M779.1,644.1H812.3" stroke="#148014" stroke-width="3.49" stroke-linecap="round"/>
<text x="815.6" y="648.4" font-size="14.9" font-family="'Liberation Serif', serif" font-weight="bold" fill="#161616" color="#161616" textLength="15.3" lengthAdjust="spacingAndGlyphs">05</text>
<text x="608.2" y="703.3" font-size="15.0" font-family="'Liberation Serif', serif" font-weight="bold" fill="#161616" color="#161616" textLength="130.3" lengthAdjust="spacingAndGlyphs">Amino acid residues</text>
<text transform="translate(471.4,575.2) rotate(-90)" x="0" y="0" font-size="16.3" font-family="'Liberation Serif', serif" font-weight="bold" fill="#161616" color="#161616" textLength="71.5" lengthAdjust="spacingAndGlyphs">RMSD <tspan font-size="13.4" dy="-2.12">(</tspan><tspan font-size="16.3" dy="2.12">A</tspan><tspan font-size="8.2" dy="-8.48">0</tspan><tspan font-size="13.4" dy="6.36">)</tspan></text>
<text x="638.6" y="737.7" font-size="27.4" font-family="'Liberation Serif', serif" fill="#000" color="#000" style="stroke-width:0" textLength="31.5" lengthAdjust="spacingAndGlyphs">(<tspan font-weight="bold" style="stroke-width:0.3px">e</tspan>)</text>
<path d="M956.9,660.9 L958.0,658.2 L959.1,655.4 L960.1,652.7 L961.2,650.0 L962.3,647.3 L963.4,644.5 L964.5,641.8 L965.5,639.1 L965.6,638.9 L966.6,637.3 L967.7,635.7 L968.8,634.0 L969.8,632.4 L970.8,630.9 L970.9,630.5 L972.0,627.2 L973.1,623.8 L973.4,623.0 L974.2,622.5 L975.2,621.8 L976.3,621.1 L977.4,620.5 L977.5,620.4 L978.5,618.1 L979.6,615.4 L980.6,612.8 L981.7,610.1 L982.4,608.5 L982.8,608.4 L983.9,608.2 L985.0,608.0 L986.0,607.9 L987.1,607.7 L987.5,607.6 L988.2,606.3 L989.3,604.2 L990.3,602.0 L991.4,599.8 L992.5,597.7 L993.4,596.0 L993.6,595.4 L994.7,592.7 L995.7,589.9 L996.8,587.0 L997.9,584.1 L999.0,581.1 L1000.1,578.2 L1001.1,575.5 L1002.2,573.1 L1003.3,570.7 L1004.4,568.3 L1005.5,566.1 L1006.5,563.9 L1007.6,561.8 L1008.7,559.9 L1009.8,558.1 L1010.8,556.4 L1011.9,554.8 L1013.0,553.3 L1014.1,551.8 L1015.2,550.3 L1016.2,548.9 L1017.3,547.6 L1018.4,546.2 L1019.5,545.0 L1020.6,543.7 L1021.6,542.5 L1022.7,541.3 L1023.8,540.2 L1024.9,539.0 L1026.0,537.9 L1027.0,536.8 L1028.1,535.7 L1029.2,534.6 L1030.3,533.5 L1031.3,532.4 L1032.4,531.4 L1033.5,530.4 L1034.6,529.3 L1035.7,528.3 L1036.7,527.4 L1037.8,526.4 L1038.9,525.5 L1040.0,524.5 L1041.1,523.6 L1042.1,522.7 L1043.2,521.8 L1044.3,520.9 L1045.4,520.0 L1046.5,519.2 L1047.5,518.3 L1048.6,517.5 L1049.7,516.7 L1050.8,515.9 L1051.8,515.1 L1052.9,514.3 L1054.0,513.6 L1055.1,512.8 L1056.2,512.1 L1057.2,511.3 L1058.3,510.6 L1059.4,509.9 L1060.5,509.2 L1061.6,508.5 L1062.6,507.8 L1063.7,507.1 L1064.8,506.5 L1065.9,505.8 L1067.0,505.2 L1068.0,504.5 L1069.1,503.9 L1070.2,503.3 L1071.3,502.7 L1072.3,502.1 L1073.4,501.5 L1074.5,500.9 L1075.6,500.3 L1076.7,499.8 L1077.7,499.2 L1078.8,498.7 L1079.9,498.1 L1081.0,497.6 L1082.1,497.1 L1083.1,496.6 L1084.2,496.1 L1085.3,495.6 L1086.4,495.2 L1087.5,494.7 L1088.5,494.3 L1089.6,493.8 L1090.7,493.4 L1091.8,493.0 L1092.8,492.6 L1093.9,492.2 L1095.0,491.8 L1096.1,491.5 L1097.2,491.1 L1098.2,490.8 L1099.3,490.4 L1100.4,490.1 L1101.5,489.7 L1102.6,489.4 L1103.6,489.1 L1104.7,488.8 L1105.8,488.5 L1106.9,488.2 L1108.0,487.9 L1109.0,487.5 L1110.1,487.2 L1111.2,486.9 L1112.3,486.6 L1113.3,486.3 L1114.4,485.9 L1115.5,485.6 L1116.6,485.2 L1117.7,484.9 L1118.7,484.5 L1119.8,484.1 L1120.9,483.8 L1122.0,483.4 L1123.1,483.0 L1124.1,482.6 L1125.2,482.2 L1126.3,481.8 L1127.4,481.3 L1128.4,480.9 L1129.5,480.5 L1130.6,480.1 L1131.7,479.6 L1132.8,479.2 L1133.8,478.8 L1134.9,478.4 L1136.0,478.0 L1137.1,477.6 L1138.2,477.2 L1139.2,476.8 L1140.3,476.4 L1141.4,476.0 L1142.5,475.6 L1143.6,475.3 L1144.6,474.9 L1145.7,474.6 L1146.8,474.3 L1147.9,473.9 L1148.9,473.6 L1150.0,473.3 L1151.1,473.0 L1152.2,472.7 L1153.3,472.4 L1154.3,472.1 L1155.4,471.8 L1156.5,471.6 L1157.6,471.3 L1158.7,471.0 L1159.7,470.7 L1160.8,470.5 L1161.9,470.2 L1163.0,469.9 L1164.1,469.7 L1165.1,469.4 L1166.2,469.1 L1167.3,468.8 L1168.4,468.6 L1169.4,468.3 L1170.5,468.0 L1171.6,467.7 L1172.7,467.4 L1173.8,467.2 L1174.8,466.9 L1175.9,466.6 L1177.0,466.3 L1178.1,466.0 L1179.2,465.6 L1180.2,465.3 L1181.3,465.0 L1182.4,464.7 L1183.5,464.4 L1184.6,464.1 L1185.6,463.7 L1186.7,463.4 L1187.8,463.1 L1188.9,462.7 L1189.9,462.4 L1191.0,462.0 L1192.1,461.7 L1193.2,461.3 L1194.3,461.0 L1195.3,460.6 L1196.4,460.3 L1197.5,459.9 L1198.6,459.5 L1199.7,459.2 L1200.7,458.8 L1201.8,458.4 L1202.9,458.0 L1204.0,457.6 L1205.1,457.2 L1206.1,456.8 L1207.2,456.4 L1208.3,456.0 L1209.4,455.6 L1210.4,455.2 L1211.5,454.8 L1212.6,454.3 L1213.7,453.9 L1214.8,453.5 L1215.8,453.1 L1216.9,452.6 L1218.0,452.2 L1219.1,451.8 L1220.2,451.3 L1221.2,450.9 L1222.3,450.5 L1223.4,450.1 L1224.5,449.7 L1225.6,449.3 L1226.6,448.9 L1227.7,448.5 L1228.8,448.1 L1229.9,447.8 L1230.9,447.4 L1232.0,447.1 L1233.1,446.7 L1234.2,446.4 L1235.3,446.1 L1236.3,445.8 L1237.4,445.5 L1238.5,445.2 L1239.6,444.9 L1240.7,444.6 L1241.7,444.3 L1242.8,444.1 L1243.9,443.8 L1245.0,443.5 L1246.1,443.3 L1247.1,443.0 L1248.2,442.7 L1249.3,442.5 L1250.4,442.2 L1251.4,442.0 L1252.5,441.7 L1253.6,441.4 L1254.7,441.2 L1255.8,440.9 L1256.8,440.6 L1257.9,440.4 L1259.0,440.1 L1260.1,439.8 L1261.2,439.5 L1262.2,439.3 L1263.3,439.0 L1264.4,438.7 L1265.5,438.4 L1266.6,438.1 L1267.6,437.8 L1268.7,437.5 L1269.8,437.2 L1270.9,436.9 L1271.9,436.6 L1273.0,436.3 L1274.1,436.0 L1275.2,435.7 L1276.3,435.4 L1277.3,435.1 L1278.4,434.8 L1279.5,434.5" fill="none" stroke="#148014" stroke-width="2.76" stroke-linejoin="round" stroke-linecap="round"/>
<path d="M956.9,660.9 L958.0,658.2 L959.1,655.4 L960.1,652.7 L961.2,650.0 L962.3,647.3 L963.4,644.5 L964.5,641.8 L965.5,639.1 L965.6,638.9 L966.6,637.3 L967.7,635.7 L968.8,634.0 L969.8,632.4 L970.8,630.9 L970.9,630.5 L972.0,627.2 L973.1,623.8 L973.4,623.0 L974.2,622.5 L975.2,621.8 L976.3,621.1 L977.4,620.5 L977.5,620.4 L978.5,618.1 L979.6,615.4 L980.6,612.8 L981.7,610.1 L982.4,608.5 L982.8,608.4 L983.9,608.2 L985.0,608.0 L986.0,607.9 L987.1,607.7 L987.5,607.6 L988.2,606.3 L989.3,604.2 L990.3,602.0 L991.4,599.8 L992.5,597.7 L993.4,596.0 L993.6,595.4 L994.7,592.7 L995.7,589.9 L996.8,587.0 L997.9,584.1 L999.0,581.1 L1000.1,578.2 L1001.1,575.5 L1002.2,573.1 L1003.3,570.7 L1004.4,568.3 L1005.5,566.1 L1006.5,563.9 L1007.6,561.8 L1008.7,559.9 L1009.8,558.1 L1010.8,556.4 L1011.9,554.8 L1013.0,553.3 L1014.1,551.8 L1015.2,550.3 L1016.2,548.9 L1017.3,547.6 L1018.4,546.2 L1019.5,545.0 L1020.6,543.7 L1021.6,542.5 L1022.7,541.3 L1023.8,540.1 L1024.9,538.9 L1026.0,537.7 L1027.0,536.6 L1028.1,535.5 L1029.2,534.3 L1030.3,533.2 L1031.3,532.2 L1032.4,531.1 L1033.5,530.0 L1034.6,529.0 L1035.7,528.0 L1036.7,527.0 L1037.8,526.0 L1038.9,525.0 L1040.0,524.0 L1041.1,523.1 L1042.1,522.1 L1043.2,521.2 L1044.3,520.3 L1045.4,519.4 L1046.5,518.5 L1047.5,517.7 L1048.6,516.8 L1049.7,516.0 L1050.8,515.2 L1051.8,514.3 L1052.9,513.5 L1054.0,512.8 L1055.1,512.0 L1056.2,511.2 L1057.2,510.5 L1058.3,509.8 L1059.4,509.0 L1060.5,508.3 L1061.6,507.6 L1062.6,506.9 L1063.7,506.2 L1064.8,505.6 L1065.9,504.9 L1067.0,504.3 L1068.0,503.6 L1069.1,503.0 L1070.2,502.4 L1071.3,501.8 L1072.3,501.2 L1073.4,500.6 L1074.5,500.0 L1075.6,499.4 L1076.7,498.9 L1077.7,498.3 L1078.8,497.8 L1079.9,497.2 L1081.0,496.7 L1082.1,496.2 L1083.1,495.7 L1084.2,495.2 L1085.3,494.8 L1086.4,494.3 L1087.5,493.8 L1088.5,493.4 L1089.6,493.0 L1090.7,492.5 L1091.8,492.1 L1092.8,491.7 L1093.9,491.3 L1095.0,491.0 L1096.1,490.6 L1097.2,490.2 L1098.2,489.9 L1099.3,489.5 L1100.4,489.2 L1101.5,488.9 L1102.6,488.5 L1103.6,488.2 L1104.7,487.9 L1105.8,487.6 L1106.9,487.3 L1108.0,487.0 L1109.0,486.7 L1110.1,486.3 L1111.2,486.0 L1112.3,485.7 L1113.3,485.4 L1114.4,485.1 L1115.5,484.7 L1116.6,484.4 L1117.7,484.0 L1118.7,483.7 L1119.8,483.3 L1120.9,483.0 L1122.0,482.6 L1123.1,482.2 L1124.1,481.8 L1125.2,481.4 L1126.3,481.1 L1127.4,480.7 L1128.4,480.2 L1129.5,479.8 L1130.6,479.4 L1131.7,479.0 L1132.8,478.6 L1133.8,478.1 L1134.9,477.7 L1136.0,477.3 L1137.1,476.8 L1138.2,476.4 L1139.2,475.9 L1140.3,475.4 L1141.4,475.0 L1142.5,474.5 L1143.6,474.0 L1144.6,473.5 L1145.7,473.0 L1146.8,472.5 L1147.9,472.0 L1148.9,471.5 L1150.0,471.0 L1151.1,470.5 L1152.2,470.0 L1153.3,469.5 L1154.3,469.0 L1155.4,468.5 L1156.5,468.0 L1157.6,467.5 L1158.7,467.0 L1159.7,466.5 L1160.8,466.1 L1161.9,465.6 L1163.0,465.2 L1164.1,464.7 L1165.1,464.3 L1166.2,463.9 L1167.3,463.5 L1168.4,463.1 L1169.4,462.8 L1170.5,462.4 L1171.6,462.1 L1172.7,461.7 L1173.8,461.4 L1174.8,461.1 L1175.9,460.7 L1177.0,460.4 L1178.1,460.1 L1179.2,459.8 L1180.2,459.5 L1181.3,459.2 L1182.4,458.9 L1183.5,458.6 L1184.6,458.3 L1185.6,458.0 L1186.7,457.7 L1187.8,457.4 L1188.9,457.1 L1189.9,456.8 L1191.0,456.5 L1192.1,456.2 L1193.2,456.0 L1194.3,455.7 L1195.3,455.4 L1196.4,455.1 L1197.5,454.8 L1198.6,454.5 L1199.7,454.3 L1200.7,454.0 L1201.8,453.7 L1202.9,453.4 L1204.0,453.1 L1205.1,452.9 L1206.1,452.6 L1207.2,452.3 L1208.3,452.0 L1209.4,451.8 L1210.4,451.5 L1211.5,451.2 L1212.6,450.9 L1213.7,450.7 L1214.8,450.4 L1215.8,450.1 L1216.9,449.9 L1218.0,449.6 L1219.1,449.3 L1220.2,449.0 L1221.2,448.8 L1222.3,448.5 L1223.4,448.2 L1224.5,447.9 L1225.6,447.7 L1226.6,447.4 L1227.7,447.1 L1228.8,446.9 L1229.9,446.6 L1230.9,446.3 L1232.0,446.0 L1233.1,445.8 L1234.2,445.5 L1235.3,445.3 L1236.3,445.0 L1237.4,444.8 L1238.5,444.5 L1239.6,444.3 L1240.7,444.0 L1241.7,443.8 L1242.8,443.5 L1243.9,443.3 L1245.0,443.1 L1246.1,442.8 L1247.1,442.6 L1248.2,442.4 L1249.3,442.2 L1250.4,442.0 L1251.4,441.8 L1252.5,441.5 L1253.6,441.3 L1254.7,441.1 L1255.8,440.9 L1256.8,440.7 L1257.9,440.5 L1259.0,440.4 L1260.1,440.2 L1261.2,440.0 L1262.2,439.8 L1263.3,439.6 L1264.4,439.4 L1265.5,439.2 L1266.6,439.1 L1267.6,438.9 L1268.7,438.7 L1269.8,438.6 L1270.9,438.4 L1271.9,438.2 L1273.0,438.1 L1274.1,437.9 L1275.2,437.8 L1276.3,437.6 L1277.3,437.5 L1278.4,437.3 L1279.5,437.2" fill="none" stroke="#7800ff" stroke-width="2.76" stroke-linejoin="round" stroke-linecap="round"/>
<path d="M956.9,660.9 L958.0,658.2 L959.1,655.4 L960.1,652.7 L961.2,650.0 L962.3,647.3 L963.4,644.5 L964.5,641.8 L965.5,639.1 L965.6,638.9 L966.6,637.3 L967.7,635.7 L968.8,634.0 L969.8,632.4 L970.8,630.9 L970.9,630.5 L972.0,627.2 L973.1,623.8 L973.4,623.0 L974.2,622.5 L975.2,621.8 L976.3,621.1 L977.4,620.5 L977.5,620.4 L978.5,618.1 L979.6,615.4 L980.6,612.8 L981.7,610.1 L982.4,608.5 L982.8,608.4 L983.9,608.2 L985.0,608.0 L986.0,607.9 L987.1,607.7 L987.5,607.6 L988.2,606.3 L989.3,604.2 L990.3,602.0 L991.4,599.8 L992.5,597.7 L993.4,596.0 L993.6,595.4 L994.7,592.7 L995.7,589.9 L996.8,587.0 L997.9,584.1 L999.0,581.1 L1000.1,578.2 L1001.1,575.5 L1002.2,573.1 L1003.3,570.7 L1004.4,568.4 L1005.5,566.2 L1006.5,564.0 L1007.6,562.0 L1008.7,560.0 L1009.8,558.1 L1010.8,556.3 L1011.9,554.5 L1013.0,552.8 L1014.1,551.1 L1015.2,549.4 L1016.2,547.9 L1017.3,546.3 L1018.4,544.9 L1019.5,543.5 L1020.6,542.1 L1021.6,540.8 L1022.7,539.5 L1023.8,538.3 L1024.9,537.0 L1026.0,535.9 L1027.0,534.7 L1028.1,533.5 L1029.2,532.4 L1030.3,531.3 L1031.3,530.2 L1032.4,529.1 L1033.5,528.0 L1034.6,527.0 L1035.7,525.9 L1036.7,524.9 L1037.8,523.9 L1038.9,522.9 L1040.0,522.0 L1041.1,521.0 L1042.1,520.1 L1043.2,519.1 L1044.3,518.2 L1045.4,517.3 L1046.5,516.4 L1047.5,515.5 L1048.6,514.6 L1049.7,513.7 L1050.8,512.8 L1051.8,512.0 L1052.9,511.1 L1054.0,510.3 L1055.1,509.5 L1056.2,508.7 L1057.2,507.9 L1058.3,507.1 L1059.4,506.3 L1060.5,505.6 L1061.6,504.8 L1062.6,504.1 L1063.7,503.4 L1064.8,502.7 L1065.9,502.0 L1067.0,501.3 L1068.0,500.6 L1069.1,500.0 L1070.2,499.3 L1071.3,498.7 L1072.3,498.1 L1073.4,497.5 L1074.5,496.9 L1075.6,496.3 L1076.7,495.8 L1077.7,495.2 L1078.8,494.7 L1079.9,494.2 L1081.0,493.7 L1082.1,493.2 L1083.1,492.8 L1084.2,492.3 L1085.3,491.9 L1086.4,491.4 L1087.5,491.0 L1088.5,490.6 L1089.6,490.3 L1090.7,489.9 L1091.8,489.5 L1092.8,489.2 L1093.9,488.8 L1095.0,488.5 L1096.1,488.2 L1097.2,487.9 L1098.2,487.6 L1099.3,487.3 L1100.4,487.0 L1101.5,486.7 L1102.6,486.4 L1103.6,486.1 L1104.7,485.8 L1105.8,485.5 L1106.9,485.2 L1108.0,484.9 L1109.0,484.5 L1110.1,484.2 L1111.2,483.8 L1112.3,483.4 L1113.3,483.1 L1114.4,482.7 L1115.5,482.3 L1116.6,481.8 L1117.7,481.4 L1118.7,481.0 L1119.8,480.5 L1120.9,480.0 L1122.0,479.6 L1123.1,479.1 L1124.1,478.6 L1125.2,478.1 L1126.3,477.5 L1127.4,477.0 L1128.4,476.5 L1129.5,476.0 L1130.6,475.4 L1131.7,474.9 L1132.8,474.3 L1133.8,473.8 L1134.9,473.3 L1136.0,472.7 L1137.1,472.2 L1138.2,471.6 L1139.2,471.1 L1140.3,470.5 L1141.4,470.0 L1142.5,469.4 L1143.6,468.9 L1144.6,468.3 L1145.7,467.8 L1146.8,467.3 L1147.9,466.7 L1148.9,466.2 L1150.0,465.7 L1151.1,465.1 L1152.2,464.6 L1153.3,464.1 L1154.3,463.6 L1155.4,463.1 L1156.5,462.6 L1157.6,462.1 L1158.7,461.6 L1159.7,461.1 L1160.8,460.7 L1161.9,460.2 L1163.0,459.7 L1164.1,459.3 L1165.1,458.8 L1166.2,458.4 L1167.3,458.0 L1168.4,457.5 L1169.4,457.1 L1170.5,456.7 L1171.6,456.3 L1172.7,455.9 L1173.8,455.5 L1174.8,455.1 L1175.9,454.7 L1177.0,454.3 L1178.1,453.9 L1179.2,453.5 L1180.2,453.2 L1181.3,452.8 L1182.4,452.4 L1183.5,452.0 L1184.6,451.7 L1185.6,451.3 L1186.7,451.0 L1187.8,450.6 L1188.9,450.2 L1189.9,449.9 L1191.0,449.6 L1192.1,449.2 L1193.2,448.9 L1194.3,448.5 L1195.3,448.2 L1196.4,447.9 L1197.5,447.5 L1198.6,447.2 L1199.7,446.9 L1200.7,446.6 L1201.8,446.2 L1202.9,445.9 L1204.0,445.6 L1205.1,445.3 L1206.1,444.9 L1207.2,444.6 L1208.3,444.3 L1209.4,444.0 L1210.4,443.7 L1211.5,443.3 L1212.6,443.0 L1213.7,442.7 L1214.8,442.4 L1215.8,442.1 L1216.9,441.7 L1218.0,441.4 L1219.1,441.1 L1220.2,440.8 L1221.2,440.5 L1222.3,440.1 L1223.4,439.8 L1224.5,439.5 L1225.6,439.2 L1226.6,438.9 L1227.7,438.5 L1228.8,438.2 L1229.9,437.9 L1230.9,437.6 L1232.0,437.2 L1233.1,436.9 L1234.2,436.6 L1235.3,436.3 L1236.3,435.9 L1237.4,435.6 L1238.5,435.3 L1239.6,434.9 L1240.7,434.6 L1241.7,434.3 L1242.8,433.9 L1243.9,433.6 L1245.0,433.3 L1246.1,432.9 L1247.1,432.6 L1248.2,432.3 L1249.3,431.9 L1250.4,431.6 L1251.4,431.2 L1252.5,430.9 L1253.6,430.5 L1254.7,430.2 L1255.8,429.8 L1256.8,429.5 L1257.9,429.1 L1259.0,428.8 L1260.1,428.4 L1261.2,428.0 L1262.2,427.7 L1263.3,427.3 L1264.4,426.9 L1265.5,426.6 L1266.6,426.2 L1267.6,425.8 L1268.7,425.5 L1269.8,425.1 L1270.9,424.7 L1271.9,424.3 L1273.0,424.0 L1274.1,423.6 L1275.2,423.2 L1276.3,422.8 L1277.3,422.5 L1278.4,422.1 L1279.5,421.7" fill="none" stroke="#0000ff" stroke-width="2.76" stroke-linejoin="round" stroke-linecap="round"/>
<path d="M956.9,660.9 L958.0,658.2 L959.1,655.4 L960.1,652.7 L961.2,650.0 L962.3,647.3 L963.4,644.5 L964.5,641.8 L965.5,639.1 L965.6,638.9 L966.6,637.3 L967.7,635.7 L968.8,634.0 L969.8,632.4 L970.8,630.9 L970.9,630.5 L972.0,627.2 L973.1,623.8 L973.4,623.0 L974.2,622.5 L975.2,621.8 L976.3,621.1 L977.4,620.5 L977.5,620.4 L978.5,618.1 L979.6,615.4 L980.6,612.8 L981.7,610.1 L982.4,608.5 L982.8,608.4 L983.9,608.2 L985.0,608.0 L986.0,607.9 L987.1,607.7 L987.5,607.6 L988.2,606.3 L989.3,604.2 L990.3,602.0 L991.4,599.8 L992.5,597.7 L993.4,596.0 L993.6,595.4 L994.7,592.7 L995.7,589.9 L996.8,587.0 L997.9,584.1 L999.0,581.1 L1000.1,578.2 L1001.1,575.5 L1002.2,573.1 L1003.3,570.6 L1004.4,568.3 L1005.5,566.0 L1006.5,563.8 L1007.6,561.7 L1008.7,559.7 L1009.8,558.1 L1010.8,556.6 L1011.9,555.2 L1013.0,553.8 L1014.1,552.5 L1015.2,551.3 L1016.2,550.1 L1017.3,548.9 L1018.4,547.7 L1019.5,546.6 L1020.6,545.5 L1021.6,544.4 L1022.7,543.3 L1023.8,542.3 L1024.9,541.3 L1026.0,540.2 L1027.0,539.3 L1028.1,538.3 L1029.2,537.3 L1030.3,536.3 L1031.3,535.4 L1032.4,534.4 L1033.5,533.5 L1034.6,532.5 L1035.7,531.6 L1036.7,530.6 L1037.8,529.7 L1038.9,528.8 L1040.0,527.9 L1041.1,527.0 L1042.1,526.0 L1043.2,525.1 L1044.3,524.2 L1045.4,523.3 L1046.5,522.4 L1047.5,521.6 L1048.6,520.7 L1049.7,519.8 L1050.8,519.0 L1051.8,518.1 L1052.9,517.3 L1054.0,516.5 L1055.1,515.7 L1056.2,514.9 L1057.2,514.2 L1058.3,513.4 L1059.4,512.7 L1060.5,512.0 L1061.6,511.3 L1062.6,510.6 L1063.7,509.9 L1064.8,509.2 L1065.9,508.6 L1067.0,507.9 L1068.0,507.3 L1069.1,506.7 L1070.2,506.1 L1071.3,505.4 L1072.3,504.8 L1073.4,504.2 L1074.5,503.6 L1075.6,503.0 L1076.7,502.4 L1077.7,501.8 L1078.8,501.2 L1079.9,500.6 L1081.0,500.1 L1082.1,499.5 L1083.1,498.9 L1084.2,498.4 L1085.3,497.9 L1086.4,497.3 L1087.5,496.8 L1088.5,496.4 L1089.6,495.9 L1090.7,495.5 L1091.8,495.0 L1092.8,494.6 L1093.9,494.3 L1095.0,493.9 L1096.1,493.5 L1097.2,493.2 L1098.2,492.9 L1099.3,492.6 L1100.4,492.3 L1101.5,492.0 L1102.6,491.7 L1103.6,491.4 L1104.7,491.1 L1105.8,490.8 L1106.9,490.6 L1108.0,490.3 L1109.0,490.0 L1110.1,489.7 L1111.2,489.4 L1112.3,489.1 L1113.3,488.8 L1114.4,488.5 L1115.5,488.2 L1116.6,487.9 L1117.7,487.6 L1118.7,487.3 L1119.8,486.9 L1120.9,486.6 L1122.0,486.3 L1123.1,485.9 L1124.1,485.6 L1125.2,485.2 L1126.3,484.9 L1127.4,484.5 L1128.4,484.2 L1129.5,483.8 L1130.6,483.4 L1131.7,483.1 L1132.8,482.7 L1133.8,482.3 L1134.9,482.0 L1136.0,481.6 L1137.1,481.3 L1138.2,480.9 L1139.2,480.6 L1140.3,480.2 L1141.4,479.9 L1142.5,479.5 L1143.6,479.2 L1144.6,478.8 L1145.7,478.5 L1146.8,478.1 L1147.9,477.8 L1148.9,477.5 L1150.0,477.1 L1151.1,476.8 L1152.2,476.5 L1153.3,476.1 L1154.3,475.8 L1155.4,475.5 L1156.5,475.2 L1157.6,474.8 L1158.7,474.5 L1159.7,474.2 L1160.8,473.9 L1161.9,473.6 L1163.0,473.3 L1164.1,473.0 L1165.1,472.7 L1166.2,472.4 L1167.3,472.1 L1168.4,471.8 L1169.4,471.5 L1170.5,471.2 L1171.6,471.0 L1172.7,470.7 L1173.8,470.5 L1174.8,470.2 L1175.9,470.0 L1177.0,469.7 L1178.1,469.5 L1179.2,469.3 L1180.2,469.0 L1181.3,468.8 L1182.4,468.6 L1183.5,468.4 L1184.6,468.2 L1185.6,468.0 L1186.7,467.8 L1187.8,467.6 L1188.9,467.4 L1189.9,467.2 L1191.0,467.0 L1192.1,466.8 L1193.2,466.7 L1194.3,466.5 L1195.3,466.3 L1196.4,466.1 L1197.5,465.9 L1198.6,465.7 L1199.7,465.5 L1200.7,465.3 L1201.8,465.1 L1202.9,464.9 L1204.0,464.7 L1205.1,464.5 L1206.1,464.2 L1207.2,464.0 L1208.3,463.8 L1209.4,463.5 L1210.4,463.3 L1211.5,463.0 L1212.6,462.8 L1213.7,462.6 L1214.8,462.3 L1215.8,462.0 L1216.9,461.8 L1218.0,461.5 L1219.1,461.3 L1220.2,461.0 L1221.2,460.8 L1222.3,460.6 L1223.4,460.3 L1224.5,460.1 L1225.6,459.9 L1226.6,459.7 L1227.7,459.5 L1228.8,459.3 L1229.9,459.1 L1230.9,458.9 L1232.0,458.8 L1233.1,458.6 L1234.2,458.5 L1235.3,458.3 L1236.3,458.2 L1237.4,458.0 L1238.5,457.9 L1239.6,457.8 L1240.7,457.7 L1241.7,457.6 L1242.8,457.5 L1243.9,457.3 L1245.0,457.2 L1246.1,457.1 L1247.1,457.0 L1248.2,456.9 L1249.3,456.8 L1250.4,456.6 L1251.4,456.5 L1252.5,456.4 L1253.6,456.2 L1254.7,456.1 L1255.8,456.0 L1256.8,455.8 L1257.9,455.7 L1259.0,455.5 L1260.1,455.3 L1261.2,455.2 L1262.2,455.0 L1263.3,454.8 L1264.4,454.6 L1265.5,454.4 L1266.6,454.3 L1267.6,454.1 L1268.7,453.9 L1269.8,453.7 L1270.9,453.5 L1271.9,453.2 L1273.0,453.0 L1274.1,452.8 L1275.2,452.6 L1276.3,452.4 L1277.3,452.2 L1278.4,451.9 L1279.5,451.7" fill="none" stroke="#ff0000" stroke-width="2.76" stroke-linejoin="round" stroke-linecap="round"/>
<path d="M956.9,660.9 L958.0,658.2 L959.1,655.4 L960.1,652.7 L961.2,650.0 L962.3,647.3 L963.4,644.5 L964.5,641.8 L965.5,639.1 L965.6,638.9 L966.6,637.3 L967.7,635.7 L968.8,634.0 L969.8,632.4 L970.8,630.9 L970.9,630.5 L972.0,627.2 L973.1,623.8 L973.4,623.0 L974.2,622.5 L975.2,621.8 L976.3,621.1 L977.4,620.5 L977.5,620.4 L978.5,618.1 L979.6,615.4 L980.6,612.8 L981.7,610.1 L982.4,608.5 L982.8,608.4 L983.9,608.2 L985.0,608.0 L986.0,607.9 L987.1,607.7 L987.5,607.6 L988.2,606.3 L989.3,604.2 L990.3,602.0 L991.4,599.8 L992.5,597.7 L993.4,596.0 L993.6,595.4 L994.7,592.7 L995.7,589.9 L996.8,587.0 L997.9,584.1 L999.0,581.1 L1000.1,578.2 L1001.1,575.5 L1002.2,573.1 L1003.3,570.7 L1004.4,568.4 L1005.5,566.3 L1006.5,564.1 L1007.6,562.1 L1008.7,560.0 L1009.8,558.1 L1010.8,556.2 L1011.9,554.3 L1013.0,552.4 L1014.1,550.6 L1015.2,548.8 L1016.2,547.0 L1017.3,545.4 L1018.4,543.8 L1019.5,542.3 L1020.6,540.8 L1021.6,539.4 L1022.7,538.0 L1023.8,536.7 L1024.9,535.4 L1026.0,534.1 L1027.0,532.9 L1028.1,531.7 L1029.2,530.5 L1030.3,529.3 L1031.3,528.1 L1032.4,527.0 L1033.5,525.9 L1034.6,524.8 L1035.7,523.7 L1036.7,522.7 L1037.8,521.7 L1038.9,520.6 L1040.0,519.6 L1041.1,518.7 L1042.1,517.7 L1043.2,516.7 L1044.3,515.8 L1045.4,514.9 L1046.5,513.9 L1047.5,513.0 L1048.6,512.1 L1049.7,511.2 L1050.8,510.3 L1051.8,509.5 L1052.9,508.6 L1054.0,507.8 L1055.1,506.9 L1056.2,506.1 L1057.2,505.2 L1058.3,504.4 L1059.4,503.6 L1060.5,502.8 L1061.6,502.0 L1062.6,501.3 L1063.7,500.5 L1064.8,499.8 L1065.9,499.0 L1067.0,498.3 L1068.0,497.6 L1069.1,496.9 L1070.2,496.3 L1071.3,495.6 L1072.3,495.0 L1073.4,494.4 L1074.5,493.8 L1075.6,493.2 L1076.7,492.7 L1077.7,492.1 L1078.8,491.6 L1079.9,491.1 L1081.0,490.6 L1082.1,490.2 L1083.1,489.7 L1084.2,489.3 L1085.3,488.8 L1086.4,488.4 L1087.5,488.0 L1088.5,487.6 L1089.6,487.2 L1090.7,486.8 L1091.8,486.4 L1092.8,486.0 L1093.9,485.6 L1095.0,485.2 L1096.1,484.8 L1097.2,484.4 L1098.2,484.1 L1099.3,483.7 L1100.4,483.3 L1101.5,483.0 L1102.6,482.6 L1103.6,482.3 L1104.7,481.9 L1105.8,481.6 L1106.9,481.2 L1108.0,480.9 L1109.0,480.6 L1110.1,480.3 L1111.2,480.0 L1112.3,479.7 L1113.3,479.4 L1114.4,479.1 L1115.5,478.8 L1116.6,478.5 L1117.7,478.2 L1118.7,477.9 L1119.8,477.7 L1120.9,477.4 L1122.0,477.1 L1123.1,476.9 L1124.1,476.6 L1125.2,476.3 L1126.3,476.1 L1127.4,475.8 L1128.4,475.5 L1129.5,475.3 L1130.6,475.0 L1131.7,474.7 L1132.8,474.4 L1133.8,474.2 L1134.9,473.9 L1136.0,473.6 L1137.1,473.3 L1138.2,472.9 L1139.2,472.6 L1140.3,472.3 L1141.4,472.0 L1142.5,471.6 L1143.6,471.3 L1144.6,470.9 L1145.7,470.6 L1146.8,470.2 L1147.9,469.8 L1148.9,469.5 L1150.0,469.1 L1151.1,468.7 L1152.2,468.4 L1153.3,468.0 L1154.3,467.6 L1155.4,467.3 L1156.5,466.9 L1157.6,466.6 L1158.7,466.2 L1159.7,465.9 L1160.8,465.6 L1161.9,465.2 L1163.0,464.9 L1164.1,464.6 L1165.1,464.3 L1166.2,464.0 L1167.3,463.7 L1168.4,463.4 L1169.4,463.2 L1170.5,462.9 L1171.6,462.6 L1172.7,462.4 L1173.8,462.1 L1174.8,461.9 L1175.9,461.6 L1177.0,461.4 L1178.1,461.1 L1179.2,460.9 L1180.2,460.6 L1181.3,460.4 L1182.4,460.2 L1183.5,459.9 L1184.6,459.7 L1185.6,459.4 L1186.7,459.2 L1187.8,459.0 L1188.9,458.7 L1189.9,458.5 L1191.0,458.3 L1192.1,458.0 L1193.2,457.8 L1194.3,457.5 L1195.3,457.3 L1196.4,457.1 L1197.5,456.8 L1198.6,456.6 L1199.7,456.3 L1200.7,456.1 L1201.8,455.9 L1202.9,455.6 L1204.0,455.4 L1205.1,455.2 L1206.1,454.9 L1207.2,454.7 L1208.3,454.5 L1209.4,454.3 L1210.4,454.0 L1211.5,453.8 L1212.6,453.6 L1213.7,453.4 L1214.8,453.2 L1215.8,453.0 L1216.9,452.9 L1218.0,452.7 L1219.1,452.5 L1220.2,452.3 L1221.2,452.2 L1222.3,452.0 L1223.4,451.9 L1224.5,451.7 L1225.6,451.6 L1226.6,451.4 L1227.7,451.3 L1228.8,451.1 L1229.9,451.0 L1230.9,450.9 L1232.0,450.7 L1233.1,450.6 L1234.2,450.5 L1235.3,450.3 L1236.3,450.2 L1237.4,450.1 L1238.5,449.9 L1239.6,449.8 L1240.7,449.6 L1241.7,449.5 L1242.8,449.3 L1243.9,449.2 L1245.0,449.0 L1246.1,448.9 L1247.1,448.7 L1248.2,448.5 L1249.3,448.4 L1250.4,448.2 L1251.4,448.0 L1252.5,447.8 L1253.6,447.6 L1254.7,447.5 L1255.8,447.3 L1256.8,447.1 L1257.9,446.9 L1259.0,446.7 L1260.1,446.5 L1261.2,446.3 L1262.2,446.1 L1263.3,445.8 L1264.4,445.6 L1265.5,445.4 L1266.6,445.2 L1267.6,445.0 L1268.7,444.8 L1269.8,444.5 L1270.9,444.3 L1271.9,444.1 L1273.0,443.8 L1274.1,443.6 L1275.2,443.4 L1276.3,443.1 L1277.3,442.9 L1278.4,442.6 L1279.5,442.4" fill="none" stroke="#ff00ff" stroke-width="2.76" stroke-linejoin="round" stroke-linecap="round"/>
<rect x="956.9" y="396.6" width="322.6" height="264.3" fill="none" stroke="#3c3c3c" stroke-width="1.93"/>
<path d="M956.9,660.9V666.4M1021.4,660.9V666.4M1085.9,660.9V666.4M1150.5,660.9V666.4M1215.0,660.9V666.4M1279.5,660.9V666.4M989.2,660.9V664.2M1053.7,660.9V664.2M1118.2,660.9V664.2M1182.7,660.9V664.2M1247.2,660.9V664.2M956.9,660.9H951.4M956.9,616.9H951.4M956.9,572.8H951.4M956.9,528.8H951.4M956.9,484.7H951.4M956.9,440.6H951.4M956.9,396.6H951.4M956.9,638.9H953.6M956.9,594.8H953.6M956.9,550.8H953.6M956.9,506.7H953.6M956.9,462.7H953.6M956.9,418.6H953.6" stroke="#2b2b2b" stroke-width="1.75" fill="none"/>
<text x="956.9" y="680.2" font-size="13.3" text-anchor="middle" font-family="'Liberation Sans', sans-serif" font-weight="bold" fill="#1a1a1a" color="#1a1a1a">0</text>
<text x="1021.4" y="680.2" font-size="13.3" text-anchor="middle" font-family="'Liberation Sans', sans-serif" font-weight="bold" fill="#1a1a1a" color="#1a1a1a">70</text>
<text x="1085.9" y="680.2" font-size="13.3" text-anchor="middle" font-family="'Liberation Sans', sans-serif" font-weight="bold" fill="#1a1a1a" color="#1a1a1a">140</text>
<text x="1150.5" y="680.2" font-size="13.3" text-anchor="middle" font-family="'Liberation Sans', sans-serif" font-weight="bold" fill="#1a1a1a" color="#1a1a1a">210</text>
<text x="1215.0" y="680.2" font-size="13.3" text-anchor="middle" font-family="'Liberation Sans', sans-serif" font-weight="bold" fill="#1a1a1a" color="#1a1a1a">280</text>
<text x="1278.6" y="680.2" font-size="13.3" text-anchor="middle" font-family="'Liberation Sans', sans-serif" font-weight="bold" fill="#1a1a1a" color="#1a1a1a">310</text>
<rect x="1289.0" y="671.9" width="2.4" height="6.6" fill="#0a0a30"/>
<text x="947.9" y="665.1" font-size="11.8" text-anchor="end" font-family="'Liberation Sans', sans-serif" font-weight="bold" fill="#1a1a1a" color="#1a1a1a">0.0</text>
<text x="947.9" y="621.1" font-size="11.8" text-anchor="end" font-family="'Liberation Sans', sans-serif" font-weight="bold" fill="#1a1a1a" color="#1a1a1a">0.5</text>
<text x="947.9" y="577.0" font-size="11.8" text-anchor="end" font-family="'Liberation Sans', sans-serif" font-weight="bold" fill="#1a1a1a" color="#1a1a1a">1.0</text>
<text x="947.9" y="533.0" font-size="11.8" text-anchor="end" font-family="'Liberation Sans', sans-serif" font-weight="bold" fill="#1a1a1a" color="#1a1a1a">1.5</text>
<text x="947.9" y="488.9" font-size="11.8" text-anchor="end" font-family="'Liberation Sans', sans-serif" font-weight="bold" fill="#1a1a1a" color="#1a1a1a">2.0</text>
<text x="947.9" y="444.9" font-size="11.8" text-anchor="end" font-family="'Liberation Sans', sans-serif" font-weight="bold" fill="#1a1a1a" color="#1a1a1a">2.5</text>
<text x="947.9" y="400.8" font-size="11.8" text-anchor="end" font-family="'Liberation Sans', sans-serif" font-weight="bold" fill="#1a1a1a" color="#1a1a1a">3.0</text>
<rect x="961.8" y="402.3" width="220.3" height="17.8" fill="#fff"/><path d="M961.8,420.1V402.3M961.0,402.3H1182.1" stroke="#b0b0b0" stroke-width="1.65" fill="none"/><path d="M961.0,420.1H1182.1V401.5" stroke="#858585" stroke-width="1.65" fill="none" stroke-linejoin="round"/>
<text x="969.2" y="416.6" font-size="13.8" font-family="'Liberation Serif', serif" font-weight="bold" fill="#161616" color="#161616" textLength="204.4" lengthAdjust="spacingAndGlyphs">RMSD in term of Hydrogen bond</text>
<rect x="1215.3" y="560.5" width="57.8" height="89.7" fill="#fff"/><path d="M1215.3,650.2V560.5M1214.4,560.5H1273.1" stroke="#b0b0b0" stroke-width="1.75" fill="none"/><path d="M1214.4,650.2H1273.1V559.6" stroke="#858585" stroke-width="1.75" fill="none" stroke-linejoin="round"/>
<path d="M1221.0,570.6H1251.9" stroke="#148014" stroke-width="3.00" stroke-linecap="round"/>
<text x="1255.8" y="574.6" font-size="13.9" font-family="'Liberation Serif', serif" font-weight="bold" fill="#161616" color="#161616" textLength="14.2" lengthAdjust="spacingAndGlyphs">01</text>
<path d="M1221.0,588.5H1251.9" stroke="#7800ff" stroke-width="3.00" stroke-linecap="round"/>
<text x="1255.8" y="592.5" font-size="13.9" font-family="'Liberation Serif', serif" font-weight="bold" fill="#161616" color="#161616" textLength="14.2" lengthAdjust="spacingAndGlyphs">02</text>
<path d="M1221.0,606.8H1251.9" stroke="#0000ff" stroke-width="3.00" stroke-linecap="round"/>
<text x="1255.8" y="610.8" font-size="13.9" font-family="'Liberation Serif', serif" font-weight="bold" fill="#161616" color="#161616" textLength="14.2" lengthAdjust="spacingAndGlyphs">03</text>
<path d="M1221.0,624.7H1251.9" stroke="#ff0000" stroke-width="3.00" stroke-linecap="round"/>
<text x="1255.8" y="628.7" font-size="13.9" font-family="'Liberation Serif', serif" font-weight="bold" fill="#161616" color="#161616" textLength="14.2" lengthAdjust="spacingAndGlyphs">04</text>
<path d="M1221.0,642.2H1251.9" stroke="#ff00ff" stroke-width="3.00" stroke-linecap="round"/>
<text x="1255.8" y="646.2" font-size="13.9" font-family="'Liberation Serif', serif" font-weight="bold" fill="#161616" color="#161616" textLength="14.2" lengthAdjust="spacingAndGlyphs">05</text>
<text x="1056.9" y="694.8" font-size="14.0" font-family="'Liberation Serif', serif" font-weight="bold" fill="#161616" color="#161616" textLength="123.2" lengthAdjust="spacingAndGlyphs">Amino acid residues</text>
<text transform="translate(925.8,574.2) rotate(-90)" x="0" y="0" font-size="14.2" font-family="'Liberation Serif', serif" font-weight="bold" fill="#161616" color="#161616" textLength="69.0" lengthAdjust="spacingAndGlyphs">RMSD <tspan font-size="11.6" dy="-1.85">(</tspan><tspan font-size="14.2" dy="1.85">A</tspan><tspan font-size="7.1" dy="-7.38">0</tspan><tspan font-size="11.6" dy="5.54">)</tspan></text>
<text x="1084.7" y="737.2" font-size="29.4" font-family="'Liberation Serif', serif" fill="#000" color="#000" style="stroke-width:0" textLength="28.0" lengthAdjust="spacingAndGlyphs">(<tspan font-weight="bold" style="stroke-width:0.3px">f</tspan>)</text>
<path d="M55.5,1039.7 L56.6,1036.2 L57.8,1032.7 L58.9,1029.2 L60.0,1025.7 L61.2,1022.2 L62.3,1018.7 L63.5,1015.2 L64.6,1011.7 L64.9,1010.9 L65.7,1009.6 L66.9,1007.9 L67.4,1007.1 L68.0,1005.1 L69.1,1001.4 L70.3,997.6 L71.4,993.8 L71.6,993.2 L72.5,992.9 L73.7,992.6 L74.8,992.2 L76.0,991.9 L76.2,991.8 L77.1,989.9 L78.2,987.3 L79.4,984.8 L80.5,982.2 L81.6,979.7 L82.5,977.8 L82.8,977.8 L83.9,977.6 L85.0,977.4 L86.2,977.2 L87.3,977.0 L87.6,976.9 L88.5,975.2 L89.6,972.9 L89.7,972.7 L90.7,970.0 L91.9,967.1 L93.0,964.2 L94.1,961.2 L94.9,959.2 L95.3,958.3 L96.4,955.3 L97.5,952.2 L98.7,949.2 L99.8,946.1 L101.0,943.2 L102.1,940.4 L103.2,937.7 L104.4,935.0 L105.5,932.4 L106.6,929.8 L107.8,927.2 L108.9,924.8 L110.0,922.4 L111.2,920.3 L112.3,918.4 L113.5,916.6 L114.6,914.9 L115.7,913.2 L116.9,911.6 L118.0,910.1 L119.1,908.6 L120.3,907.2 L121.4,905.8 L122.6,904.4 L123.7,903.1 L124.8,901.8 L126.0,900.5 L127.1,899.3 L128.2,898.1 L129.4,897.0 L130.5,895.8 L131.6,894.7 L132.8,893.6 L133.9,892.5 L135.1,891.4 L136.2,890.4 L137.3,889.3 L138.5,888.3 L139.6,887.3 L140.7,886.4 L141.9,885.4 L143.0,884.4 L144.1,883.5 L145.3,882.5 L146.4,881.5 L147.6,880.6 L148.7,879.6 L149.8,878.7 L151.0,877.8 L152.1,876.8 L153.2,875.9 L154.4,874.9 L155.5,874.0 L156.6,873.1 L157.8,872.2 L158.9,871.4 L160.1,870.5 L161.2,869.7 L162.3,868.8 L163.5,868.0 L164.6,867.3 L165.7,866.5 L166.9,865.8 L168.0,865.1 L169.1,864.4 L170.3,863.7 L171.4,863.0 L172.6,862.4 L173.7,861.8 L174.8,861.1 L176.0,860.5 L177.1,860.0 L178.2,859.4 L179.4,858.8 L180.5,858.2 L181.6,857.7 L182.8,857.1 L183.9,856.6 L185.1,856.0 L186.2,855.5 L187.3,855.0 L188.5,854.4 L189.6,853.9 L190.7,853.4 L191.9,852.9 L193.0,852.4 L194.1,851.9 L195.3,851.4 L196.4,850.9 L197.6,850.4 L198.7,849.9 L199.8,849.5 L201.0,849.0 L202.1,848.5 L203.2,848.1 L204.4,847.6 L205.5,847.1 L206.6,846.7 L207.8,846.2 L208.9,845.8 L210.1,845.4 L211.2,844.9 L212.3,844.5 L213.5,844.1 L214.6,843.6 L215.7,843.2 L216.9,842.8 L218.0,842.4 L219.1,842.0 L220.3,841.5 L221.4,841.1 L222.6,840.7 L223.7,840.3 L224.8,839.9 L226.0,839.5 L227.1,839.1 L228.2,838.8 L229.4,838.4 L230.5,838.0 L231.7,837.6 L232.8,837.2 L233.9,836.9 L235.1,836.5 L236.2,836.1 L237.3,835.8 L238.5,835.4 L239.6,835.0 L240.7,834.7 L241.9,834.3 L243.0,833.9 L244.2,833.5 L245.3,833.2 L246.4,832.8 L247.6,832.4 L248.7,832.0 L249.8,831.6 L251.0,831.2 L252.1,830.8 L253.2,830.4 L254.4,830.0 L255.5,829.6 L256.7,829.2 L257.8,828.8 L258.9,828.4 L260.1,828.0 L261.2,827.6 L262.3,827.2 L263.5,826.8 L264.6,826.4 L265.7,826.0 L266.9,825.6 L268.0,825.3 L269.2,824.9 L270.3,824.5 L271.4,824.1 L272.6,823.8 L273.7,823.4 L274.8,823.1 L276.0,822.7 L277.1,822.4 L278.2,822.0 L279.4,821.7 L280.5,821.3 L281.7,821.0 L282.8,820.7 L283.9,820.3 L285.1,820.0 L286.2,819.6 L287.3,819.3 L288.5,819.0 L289.6,818.6 L290.7,818.3 L291.9,818.0 L293.0,817.6 L294.2,817.3 L295.3,817.0 L296.4,816.6 L297.6,816.3 L298.7,815.9 L299.8,815.6 L301.0,815.3 L302.1,814.9 L303.2,814.6 L304.4,814.3 L305.5,814.0 L306.7,813.6 L307.8,813.3 L308.9,813.0 L310.1,812.6 L311.2,812.3 L312.3,812.0 L313.5,811.7 L314.6,811.3 L315.7,811.0 L316.9,810.7 L318.0,810.4 L319.2,810.1 L320.3,809.7 L321.4,809.4 L322.6,809.1 L323.7,808.8 L324.8,808.5 L326.0,808.2 L327.1,807.9 L328.2,807.6 L329.4,807.3 L330.5,807.0 L331.7,806.7 L332.8,806.4 L333.9,806.1 L335.1,805.8 L336.2,805.5 L337.3,805.2 L338.5,804.9 L339.6,804.6 L340.8,804.3 L341.9,804.0 L343.0,803.7 L344.2,803.4 L345.3,803.1 L346.4,802.8 L347.6,802.5 L348.7,802.2 L349.8,801.9 L351.0,801.6 L352.1,801.3 L353.3,801.0 L354.4,800.7 L355.5,800.4 L356.7,800.0 L357.8,799.7 L358.9,799.4 L360.1,799.0 L361.2,798.7 L362.3,798.3 L363.5,798.0 L364.6,797.6 L365.8,797.3 L366.9,796.9 L368.0,796.5 L369.2,796.2 L370.3,795.8 L371.4,795.4 L372.6,795.0 L373.7,794.6 L374.8,794.2 L376.0,793.8 L377.1,793.4 L378.3,793.0 L379.4,792.6 L380.5,792.2 L381.7,791.8 L382.8,791.4 L383.9,791.0 L385.1,790.5 L386.2,790.1 L387.3,789.7 L388.5,789.3 L389.6,788.8 L390.8,788.4 L391.9,787.9 L393.0,787.5 L394.2,787.1 L395.3,786.6" fill="none" stroke="#ff0080" stroke-width="2.90" stroke-linejoin="round" stroke-linecap="round"/>
<path d="M55.5,1039.7 L56.6,1036.2 L57.8,1032.7 L58.9,1029.2 L60.0,1025.7 L61.2,1022.2 L62.3,1018.7 L63.5,1015.2 L64.6,1011.7 L64.9,1010.9 L65.7,1009.6 L66.9,1007.9 L67.4,1007.1 L68.0,1005.1 L69.1,1001.4 L70.3,997.6 L71.4,993.8 L71.6,993.2 L72.5,992.9 L73.7,992.6 L74.8,992.2 L76.0,991.9 L76.2,991.8 L77.1,989.9 L78.2,987.3 L79.4,984.8 L80.5,982.2 L81.6,979.7 L82.5,977.8 L82.8,977.8 L83.9,977.6 L85.0,977.4 L86.2,977.2 L87.3,977.0 L87.6,976.9 L88.5,975.2 L89.6,972.9 L89.7,972.7 L90.7,970.0 L91.9,967.1 L93.0,964.2 L94.1,961.2 L94.9,959.2 L95.3,958.3 L96.4,955.3 L97.5,952.3 L98.7,949.2 L99.8,946.2 L101.0,943.2 L102.1,940.4 L103.2,937.7 L104.4,934.9 L105.5,932.1 L106.6,929.4 L107.8,926.7 L108.9,924.1 L110.0,921.7 L111.2,919.5 L112.3,917.5 L113.5,915.7 L114.6,914.0 L115.7,912.4 L116.9,910.8 L118.0,909.3 L119.1,907.9 L120.3,906.4 L121.4,905.1 L122.6,903.7 L123.7,902.4 L124.8,901.2 L126.0,899.9 L127.1,898.7 L128.2,897.5 L129.4,896.4 L130.5,895.2 L131.6,894.1 L132.8,893.0 L133.9,891.9 L135.1,890.8 L136.2,889.7 L137.3,888.7 L138.5,887.7 L139.6,886.7 L140.7,885.7 L141.9,884.7 L143.0,883.7 L144.1,882.7 L145.3,881.7 L146.4,880.7 L147.6,879.8 L148.7,878.8 L149.8,877.8 L151.0,876.9 L152.1,875.9 L153.2,875.0 L154.4,874.0 L155.5,873.1 L156.6,872.2 L157.8,871.3 L158.9,870.4 L160.1,869.6 L161.2,868.7 L162.3,867.9 L163.5,867.1 L164.6,866.3 L165.7,865.6 L166.9,864.8 L168.0,864.1 L169.1,863.4 L170.3,862.8 L171.4,862.1 L172.6,861.5 L173.7,860.8 L174.8,860.2 L176.0,859.6 L177.1,859.0 L178.2,858.4 L179.4,857.9 L180.5,857.3 L181.6,856.7 L182.8,856.2 L183.9,855.6 L185.1,855.1 L186.2,854.6 L187.3,854.0 L188.5,853.5 L189.6,853.0 L190.7,852.5 L191.9,852.0 L193.0,851.5 L194.1,851.0 L195.3,850.5 L196.4,850.0 L197.6,849.5 L198.7,849.0 L199.8,848.6 L201.0,848.1 L202.1,847.6 L203.2,847.1 L204.4,846.7 L205.5,846.2 L206.6,845.8 L207.8,845.3 L208.9,844.8 L210.1,844.4 L211.2,843.9 L212.3,843.5 L213.5,843.0 L214.6,842.6 L215.7,842.1 L216.9,841.7 L218.0,841.3 L219.1,840.8 L220.3,840.4 L221.4,840.0 L222.6,839.5 L223.7,839.1 L224.8,838.7 L226.0,838.3 L227.1,837.9 L228.2,837.5 L229.4,837.1 L230.5,836.7 L231.7,836.3 L232.8,835.9 L233.9,835.5 L235.1,835.1 L236.2,834.7 L237.3,834.4 L238.5,834.0 L239.6,833.6 L240.7,833.3 L241.9,832.9 L243.0,832.5 L244.2,832.1 L245.3,831.8 L246.4,831.4 L247.6,831.0 L248.7,830.6 L249.8,830.2 L251.0,829.8 L252.1,829.4 L253.2,828.9 L254.4,828.5 L255.5,828.1 L256.7,827.6 L257.8,827.2 L258.9,826.8 L260.1,826.3 L261.2,825.9 L262.3,825.4 L263.5,825.0 L264.6,824.6 L265.7,824.1 L266.9,823.7 L268.0,823.3 L269.2,822.8 L270.3,822.4 L271.4,822.0 L272.6,821.6 L273.7,821.1 L274.8,820.7 L276.0,820.3 L277.1,819.9 L278.2,819.5 L279.4,819.2 L280.5,818.8 L281.7,818.4 L282.8,818.0 L283.9,817.7 L285.1,817.3 L286.2,817.0 L287.3,816.6 L288.5,816.3 L289.6,815.9 L290.7,815.6 L291.9,815.3 L293.0,814.9 L294.2,814.6 L295.3,814.3 L296.4,814.0 L297.6,813.7 L298.7,813.3 L299.8,813.0 L301.0,812.7 L302.1,812.4 L303.2,812.1 L304.4,811.8 L305.5,811.5 L306.7,811.2 L307.8,810.9 L308.9,810.7 L310.1,810.4 L311.2,810.1 L312.3,809.8 L313.5,809.5 L314.6,809.2 L315.7,808.9 L316.9,808.6 L318.0,808.4 L319.2,808.1 L320.3,807.8 L321.4,807.5 L322.6,807.2 L323.7,806.9 L324.8,806.7 L326.0,806.4 L327.1,806.1 L328.2,805.8 L329.4,805.5 L330.5,805.3 L331.7,805.0 L332.8,804.7 L333.9,804.4 L335.1,804.2 L336.2,803.9 L337.3,803.6 L338.5,803.3 L339.6,803.1 L340.8,802.8 L341.9,802.5 L343.0,802.3 L344.2,802.0 L345.3,801.7 L346.4,801.4 L347.6,801.2 L348.7,800.9 L349.8,800.6 L351.0,800.4 L352.1,800.1 L353.3,799.8 L354.4,799.5 L355.5,799.2 L356.7,799.0 L357.8,798.7 L358.9,798.4 L360.1,798.1 L361.2,797.8 L362.3,797.5 L363.5,797.2 L364.6,796.9 L365.8,796.6 L366.9,796.3 L368.0,796.0 L369.2,795.7 L370.3,795.4 L371.4,795.1 L372.6,794.8 L373.7,794.5 L374.8,794.2 L376.0,793.9 L377.1,793.6 L378.3,793.3 L379.4,793.0 L380.5,792.7 L381.7,792.3 L382.8,792.0 L383.9,791.7 L385.1,791.4 L386.2,791.1 L387.3,790.8 L388.5,790.4 L389.6,790.1 L390.8,789.8 L391.9,789.5 L393.0,789.1 L394.2,788.8 L395.3,788.5" fill="none" stroke="#00ff00" stroke-width="2.90" stroke-linejoin="round" stroke-linecap="round"/>
<path d="M55.5,1039.7 L56.6,1036.2 L57.8,1032.7 L58.9,1029.2 L60.0,1025.7 L61.2,1022.2 L62.3,1018.7 L63.5,1015.2 L64.6,1011.7 L64.9,1010.9 L65.7,1009.6 L66.9,1007.9 L67.4,1007.1 L68.0,1005.1 L69.1,1001.4 L70.3,997.6 L71.4,993.8 L71.6,993.2 L72.5,992.9 L73.7,992.6 L74.8,992.2 L76.0,991.9 L76.2,991.8 L77.1,989.9 L78.2,987.3 L79.4,984.8 L80.5,982.2 L81.6,979.7 L82.5,977.8 L82.8,977.8 L83.9,977.6 L85.0,977.4 L86.2,977.2 L87.3,977.0 L87.6,976.9 L88.5,975.2 L89.6,972.9 L89.7,972.7 L90.7,970.0 L91.9,967.1 L93.0,964.2 L94.1,961.2 L94.9,959.2 L95.3,958.3 L96.4,955.3 L97.5,952.3 L98.7,949.2 L99.8,946.2 L101.0,943.2 L102.1,940.4 L103.2,937.7 L104.4,934.9 L105.5,932.1 L106.6,929.4 L107.8,926.8 L108.9,924.2 L110.0,921.7 L111.2,919.5 L112.3,917.5 L113.5,915.7 L114.6,913.9 L115.7,912.2 L116.9,910.6 L118.0,909.1 L119.1,907.5 L120.3,906.1 L121.4,904.6 L122.6,903.2 L123.7,901.9 L124.8,900.6 L126.0,899.3 L127.1,898.0 L128.2,896.8 L129.4,895.6 L130.5,894.4 L131.6,893.3 L132.8,892.1 L133.9,891.0 L135.1,889.9 L136.2,888.8 L137.3,887.8 L138.5,886.7 L139.6,885.7 L140.7,884.7 L141.9,883.7 L143.0,882.7 L144.1,881.7 L145.3,880.8 L146.4,879.8 L147.6,878.8 L148.7,877.9 L149.8,876.9 L151.0,875.9 L152.1,875.0 L153.2,874.0 L154.4,873.1 L155.5,872.2 L156.6,871.2 L157.8,870.3 L158.9,869.4 L160.1,868.5 L161.2,867.7 L162.3,866.8 L163.5,866.0 L164.6,865.1 L165.7,864.3 L166.9,863.5 L168.0,862.8 L169.1,862.0 L170.3,861.3 L171.4,860.6 L172.6,859.8 L173.7,859.2 L174.8,858.5 L176.0,857.8 L177.1,857.2 L178.2,856.5 L179.4,855.9 L180.5,855.3 L181.6,854.7 L182.8,854.1 L183.9,853.5 L185.1,853.0 L186.2,852.4 L187.3,851.9 L188.5,851.3 L189.6,850.8 L190.7,850.3 L191.9,849.8 L193.0,849.3 L194.1,848.9 L195.3,848.4 L196.4,847.9 L197.6,847.5 L198.7,847.0 L199.8,846.5 L201.0,846.1 L202.1,845.7 L203.2,845.2 L204.4,844.8 L205.5,844.3 L206.6,843.9 L207.8,843.4 L208.9,843.0 L210.1,842.6 L211.2,842.1 L212.3,841.7 L213.5,841.2 L214.6,840.8 L215.7,840.3 L216.9,839.9 L218.0,839.4 L219.1,839.0 L220.3,838.5 L221.4,838.1 L222.6,837.6 L223.7,837.1 L224.8,836.6 L226.0,836.2 L227.1,835.7 L228.2,835.2 L229.4,834.7 L230.5,834.2 L231.7,833.7 L232.8,833.1 L233.9,832.6 L235.1,832.0 L236.2,831.5 L237.3,830.9 L238.5,830.4 L239.6,829.8 L240.7,829.2 L241.9,828.7 L243.0,828.1 L244.2,827.5 L245.3,826.9 L246.4,826.3 L247.6,825.7 L248.7,825.2 L249.8,824.6 L251.0,824.0 L252.1,823.4 L253.2,822.9 L254.4,822.3 L255.5,821.7 L256.7,821.2 L257.8,820.6 L258.9,820.1 L260.1,819.5 L261.2,819.0 L262.3,818.4 L263.5,817.9 L264.6,817.4 L265.7,816.9 L266.9,816.4 L268.0,815.9 L269.2,815.4 L270.3,814.9 L271.4,814.4 L272.6,813.9 L273.7,813.4 L274.8,812.9 L276.0,812.4 L277.1,811.9 L278.2,811.5 L279.4,811.0 L280.5,810.5 L281.7,810.1 L282.8,809.6 L283.9,809.2 L285.1,808.7 L286.2,808.3 L287.3,807.8 L288.5,807.4 L289.6,806.9 L290.7,806.5 L291.9,806.1 L293.0,805.6 L294.2,805.2 L295.3,804.8 L296.4,804.3 L297.6,803.9 L298.7,803.5 L299.8,803.0 L301.0,802.6 L302.1,802.2 L303.2,801.7 L304.4,801.3 L305.5,800.9 L306.7,800.5 L307.8,800.0 L308.9,799.6 L310.1,799.2 L311.2,798.8 L312.3,798.3 L313.5,797.9 L314.6,797.5 L315.7,797.1 L316.9,796.7 L318.0,796.3 L319.2,795.9 L320.3,795.5 L321.4,795.1 L322.6,794.7 L323.7,794.3 L324.8,793.9 L326.0,793.6 L327.1,793.2 L328.2,792.8 L329.4,792.5 L330.5,792.1 L331.7,791.8 L332.8,791.4 L333.9,791.1 L335.1,790.7 L336.2,790.4 L337.3,790.0 L338.5,789.7 L339.6,789.3 L340.8,789.0 L341.9,788.7 L343.0,788.3 L344.2,788.0 L345.3,787.7 L346.4,787.3 L347.6,787.0 L348.7,786.7 L349.8,786.3 L351.0,786.0 L352.1,785.7 L353.3,785.3 L354.4,785.0 L355.5,784.7 L356.7,784.3 L357.8,784.0 L358.9,783.6 L360.1,783.3 L361.2,782.9 L362.3,782.6 L363.5,782.2 L364.6,781.9 L365.8,781.5 L366.9,781.1 L368.0,780.8 L369.2,780.4 L370.3,780.0 L371.4,779.7 L372.6,779.3 L373.7,778.9 L374.8,778.6 L376.0,778.2 L377.1,777.8 L378.3,777.5 L379.4,777.1 L380.5,776.7 L381.7,776.3 L382.8,776.0 L383.9,775.6 L385.1,775.2 L386.2,774.8 L387.3,774.4 L388.5,774.1 L389.6,773.7 L390.8,773.3 L391.9,772.9 L393.0,772.5 L394.2,772.1 L395.3,771.8" fill="none" stroke="#0000ff" stroke-width="2.90" stroke-linejoin="round" stroke-linecap="round"/>
<path d="M55.5,1039.7 L56.6,1036.2 L57.8,1032.7 L58.9,1029.2 L60.0,1025.7 L61.2,1022.2 L62.3,1018.7 L63.5,1015.2 L64.6,1011.7 L64.9,1010.9 L65.7,1009.6 L66.9,1007.9 L67.4,1007.1 L68.0,1005.1 L69.1,1001.4 L70.3,997.6 L71.4,993.8 L71.6,993.2 L72.5,992.9 L73.7,992.6 L74.8,992.2 L76.0,991.9 L76.2,991.8 L77.1,989.9 L78.2,987.3 L79.4,984.8 L80.5,982.2 L81.6,979.7 L82.5,977.8 L82.8,977.8 L83.9,977.6 L85.0,977.4 L86.2,977.2 L87.3,977.0 L87.6,976.9 L88.5,975.2 L89.6,972.9 L89.7,972.7 L90.7,970.0 L91.9,967.1 L93.0,964.2 L94.1,961.2 L94.9,959.2 L95.3,958.3 L96.4,955.3 L97.5,952.2 L98.7,949.1 L99.8,946.1 L101.0,943.2 L102.1,940.4 L103.2,937.8 L104.4,935.2 L105.5,932.7 L106.6,930.2 L107.8,927.7 L108.9,925.4 L110.0,923.2 L111.2,921.1 L112.3,919.2 L113.5,917.4 L114.6,915.8 L115.7,914.1 L116.9,912.5 L118.0,911.0 L119.1,909.5 L120.3,908.0 L121.4,906.6 L122.6,905.2 L123.7,903.9 L124.8,902.5 L126.0,901.2 L127.1,899.9 L128.2,898.6 L129.4,897.4 L130.5,896.1 L131.6,894.9 L132.8,893.7 L133.9,892.5 L135.1,891.3 L136.2,890.2 L137.3,889.1 L138.5,888.0 L139.6,887.0 L140.7,886.0 L141.9,885.0 L143.0,884.1 L144.1,883.1 L145.3,882.3 L146.4,881.4 L147.6,880.6 L148.7,879.8 L149.8,879.0 L151.0,878.2 L152.1,877.5 L153.2,876.7 L154.4,876.0 L155.5,875.3 L156.6,874.5 L157.8,873.8 L158.9,873.1 L160.1,872.4 L161.2,871.7 L162.3,871.0 L163.5,870.2 L164.6,869.5 L165.7,868.8 L166.9,868.1 L168.0,867.4 L169.1,866.7 L170.3,866.1 L171.4,865.4 L172.6,864.7 L173.7,864.0 L174.8,863.4 L176.0,862.7 L177.1,862.1 L178.2,861.4 L179.4,860.8 L180.5,860.2 L181.6,859.5 L182.8,858.9 L183.9,858.3 L185.1,857.7 L186.2,857.1 L187.3,856.5 L188.5,856.0 L189.6,855.4 L190.7,854.8 L191.9,854.3 L193.0,853.8 L194.1,853.2 L195.3,852.7 L196.4,852.2 L197.6,851.7 L198.7,851.2 L199.8,850.7 L201.0,850.2 L202.1,849.7 L203.2,849.3 L204.4,848.8 L205.5,848.4 L206.6,847.9 L207.8,847.5 L208.9,847.1 L210.1,846.7 L211.2,846.3 L212.3,845.9 L213.5,845.5 L214.6,845.1 L215.7,844.7 L216.9,844.4 L218.0,844.0 L219.1,843.6 L220.3,843.3 L221.4,842.9 L222.6,842.6 L223.7,842.2 L224.8,841.9 L226.0,841.5 L227.1,841.2 L228.2,840.8 L229.4,840.5 L230.5,840.2 L231.7,839.8 L232.8,839.5 L233.9,839.2 L235.1,838.9 L236.2,838.5 L237.3,838.2 L238.5,837.9 L239.6,837.6 L240.7,837.3 L241.9,837.0 L243.0,836.7 L244.2,836.3 L245.3,836.0 L246.4,835.7 L247.6,835.4 L248.7,835.1 L249.8,834.8 L251.0,834.5 L252.1,834.2 L253.2,833.9 L254.4,833.6 L255.5,833.3 L256.7,833.0 L257.8,832.7 L258.9,832.4 L260.1,832.1 L261.2,831.8 L262.3,831.5 L263.5,831.2 L264.6,830.9 L265.7,830.6 L266.9,830.3 L268.0,830.0 L269.2,829.7 L270.3,829.4 L271.4,829.1 L272.6,828.8 L273.7,828.5 L274.8,828.2 L276.0,827.9 L277.1,827.6 L278.2,827.3 L279.4,827.0 L280.5,826.8 L281.7,826.5 L282.8,826.2 L283.9,825.9 L285.1,825.6 L286.2,825.3 L287.3,825.0 L288.5,824.7 L289.6,824.4 L290.7,824.2 L291.9,823.9 L293.0,823.6 L294.2,823.3 L295.3,823.0 L296.4,822.7 L297.6,822.4 L298.7,822.2 L299.8,821.9 L301.0,821.6 L302.1,821.3 L303.2,821.0 L304.4,820.8 L305.5,820.5 L306.7,820.2 L307.8,819.9 L308.9,819.7 L310.1,819.4 L311.2,819.1 L312.3,818.9 L313.5,818.6 L314.6,818.3 L315.7,818.1 L316.9,817.8 L318.0,817.6 L319.2,817.3 L320.3,817.0 L321.4,816.8 L322.6,816.5 L323.7,816.3 L324.8,816.1 L326.0,815.8 L327.1,815.6 L328.2,815.3 L329.4,815.1 L330.5,814.9 L331.7,814.6 L332.8,814.4 L333.9,814.2 L335.1,813.9 L336.2,813.7 L337.3,813.5 L338.5,813.3 L339.6,813.0 L340.8,812.8 L341.9,812.6 L343.0,812.4 L344.2,812.2 L345.3,811.9 L346.4,811.7 L347.6,811.5 L348.7,811.3 L349.8,811.1 L351.0,810.9 L352.1,810.7 L353.3,810.5 L354.4,810.2 L355.5,810.0 L356.7,809.8 L357.8,809.6 L358.9,809.4 L360.1,809.2 L361.2,809.0 L362.3,808.8 L363.5,808.6 L364.6,808.4 L365.8,808.2 L366.9,808.0 L368.0,807.8 L369.2,807.6 L370.3,807.4 L371.4,807.2 L372.6,807.0 L373.7,806.9 L374.8,806.7 L376.0,806.5 L377.1,806.3 L378.3,806.1 L379.4,805.9 L380.5,805.7 L381.7,805.5 L382.8,805.4 L383.9,805.2 L385.1,805.0 L386.2,804.8 L387.3,804.6 L388.5,804.5 L389.6,804.3 L390.8,804.1 L391.9,803.9 L393.0,803.8 L394.2,803.6 L395.3,803.4" fill="none" stroke="#7800ff" stroke-width="2.90" stroke-linejoin="round" stroke-linecap="round"/>
<path d="M55.5,1039.7 L56.6,1036.2 L57.8,1032.7 L58.9,1029.2 L60.0,1025.7 L61.2,1022.2 L62.3,1018.7 L63.5,1015.2 L64.6,1011.7 L64.9,1010.9 L65.7,1009.6 L66.9,1007.9 L67.4,1007.1 L68.0,1005.1 L69.1,1001.4 L70.3,997.6 L71.4,993.8 L71.6,993.2 L72.5,992.9 L73.7,992.6 L74.8,992.2 L76.0,991.9 L76.2,991.8 L77.1,989.9 L78.2,987.3 L79.4,984.8 L80.5,982.2 L81.6,979.7 L82.5,977.8 L82.8,977.8 L83.9,977.6 L85.0,977.4 L86.2,977.2 L87.3,977.0 L87.6,976.9 L88.5,975.2 L89.6,972.9 L89.7,972.7 L90.7,970.0 L91.9,967.1 L93.0,964.2 L94.1,961.2 L94.9,959.2 L95.3,958.3 L96.4,955.3 L97.5,952.3 L98.7,949.2 L99.8,946.2 L101.0,943.3 L102.1,940.4 L103.2,937.6 L104.4,934.7 L105.5,931.9 L106.6,929.1 L107.8,926.3 L108.9,923.6 L110.0,921.0 L111.2,918.7 L112.3,916.5 L113.5,914.6 L114.6,912.7 L115.7,911.0 L116.9,909.3 L118.0,907.7 L119.1,906.2 L120.3,904.6 L121.4,903.1 L122.6,901.7 L123.7,900.2 L124.8,898.8 L126.0,897.4 L127.1,896.0 L128.2,894.7 L129.4,893.4 L130.5,892.1 L131.6,890.8 L132.8,889.6 L133.9,888.3 L135.1,887.1 L136.2,886.0 L137.3,884.8 L138.5,883.7 L139.6,882.6 L140.7,881.6 L141.9,880.5 L143.0,879.5 L144.1,878.5 L145.3,877.5 L146.4,876.5 L147.6,875.5 L148.7,874.6 L149.8,873.6 L151.0,872.7 L152.1,871.7 L153.2,870.8 L154.4,869.9 L155.5,868.9 L156.6,868.0 L157.8,867.1 L158.9,866.2 L160.1,865.3 L161.2,864.4 L162.3,863.5 L163.5,862.6 L164.6,861.7 L165.7,860.9 L166.9,860.0 L168.0,859.2 L169.1,858.3 L170.3,857.5 L171.4,856.7 L172.6,856.0 L173.7,855.2 L174.8,854.5 L176.0,853.8 L177.1,853.1 L178.2,852.4 L179.4,851.8 L180.5,851.1 L181.6,850.5 L182.8,850.0 L183.9,849.4 L185.1,848.8 L186.2,848.3 L187.3,847.8 L188.5,847.3 L189.6,846.8 L190.7,846.3 L191.9,845.9 L193.0,845.4 L194.1,845.0 L195.3,844.5 L196.4,844.1 L197.6,843.7 L198.7,843.3 L199.8,842.9 L201.0,842.5 L202.1,842.1 L203.2,841.7 L204.4,841.4 L205.5,841.0 L206.6,840.7 L207.8,840.3 L208.9,840.0 L210.1,839.6 L211.2,839.3 L212.3,838.9 L213.5,838.6 L214.6,838.3 L215.7,838.0 L216.9,837.7 L218.0,837.3 L219.1,837.0 L220.3,836.7 L221.4,836.4 L222.6,836.1 L223.7,835.8 L224.8,835.5 L226.0,835.2 L227.1,834.9 L228.2,834.6 L229.4,834.3 L230.5,834.0 L231.7,833.7 L232.8,833.4 L233.9,833.1 L235.1,832.9 L236.2,832.6 L237.3,832.3 L238.5,832.0 L239.6,831.7 L240.7,831.4 L241.9,831.1 L243.0,830.8 L244.2,830.5 L245.3,830.2 L246.4,829.9 L247.6,829.6 L248.7,829.3 L249.8,829.1 L251.0,828.8 L252.1,828.5 L253.2,828.2 L254.4,827.9 L255.5,827.6 L256.7,827.3 L257.8,827.0 L258.9,826.7 L260.1,826.4 L261.2,826.1 L262.3,825.8 L263.5,825.4 L264.6,825.1 L265.7,824.8 L266.9,824.5 L268.0,824.1 L269.2,823.8 L270.3,823.5 L271.4,823.1 L272.6,822.8 L273.7,822.5 L274.8,822.1 L276.0,821.8 L277.1,821.4 L278.2,821.1 L279.4,820.8 L280.5,820.4 L281.7,820.1 L282.8,819.8 L283.9,819.4 L285.1,819.1 L286.2,818.8 L287.3,818.5 L288.5,818.1 L289.6,817.8 L290.7,817.5 L291.9,817.2 L293.0,816.8 L294.2,816.5 L295.3,816.2 L296.4,815.9 L297.6,815.6 L298.7,815.3 L299.8,815.0 L301.0,814.7 L302.1,814.3 L303.2,814.0 L304.4,813.7 L305.5,813.4 L306.7,813.1 L307.8,812.8 L308.9,812.5 L310.1,812.2 L311.2,811.9 L312.3,811.7 L313.5,811.4 L314.6,811.1 L315.7,810.8 L316.9,810.5 L318.0,810.2 L319.2,809.9 L320.3,809.7 L321.4,809.4 L322.6,809.1 L323.7,808.8 L324.8,808.6 L326.0,808.3 L327.1,808.0 L328.2,807.8 L329.4,807.5 L330.5,807.2 L331.7,807.0 L332.8,806.7 L333.9,806.5 L335.1,806.2 L336.2,806.0 L337.3,805.7 L338.5,805.5 L339.6,805.2 L340.8,805.0 L341.9,804.7 L343.0,804.5 L344.2,804.2 L345.3,804.0 L346.4,803.8 L347.6,803.5 L348.7,803.3 L349.8,803.0 L351.0,802.8 L352.1,802.5 L353.3,802.3 L354.4,802.1 L355.5,801.8 L356.7,801.6 L357.8,801.3 L358.9,801.1 L360.1,800.9 L361.2,800.6 L362.3,800.4 L363.5,800.1 L364.6,799.9 L365.8,799.7 L366.9,799.4 L368.0,799.2 L369.2,799.0 L370.3,798.7 L371.4,798.5 L372.6,798.2 L373.7,798.0 L374.8,797.8 L376.0,797.5 L377.1,797.3 L378.3,797.0 L379.4,796.8 L380.5,796.6 L381.7,796.3 L382.8,796.1 L383.9,795.9 L385.1,795.6 L386.2,795.4 L387.3,795.2 L388.5,794.9 L389.6,794.7 L390.8,794.5 L391.9,794.2 L393.0,794.0 L394.2,793.8 L395.3,793.5" fill="none" stroke="#148014" stroke-width="2.90" stroke-linejoin="round" stroke-linecap="round"/>
<rect x="55.5" y="760.6" width="339.8" height="279.1" fill="none" stroke="#3c3c3c" stroke-width="2.03"/>
<path d="M55.5,1039.7V1045.5M123.5,1039.7V1045.5M191.4,1039.7V1045.5M259.4,1039.7V1045.5M327.3,1039.7V1045.5M395.3,1039.7V1045.5M89.5,1039.7V1043.2M157.4,1039.7V1043.2M225.4,1039.7V1043.2M293.4,1039.7V1043.2M361.3,1039.7V1043.2M55.5,1039.7H49.7M55.5,993.2H49.7M55.5,946.7H49.7M55.5,900.2H49.7M55.5,853.6H49.7M55.5,807.1H49.7M55.5,760.6H49.7M55.5,1016.4H52.0M55.5,969.9H52.0M55.5,923.4H52.0M55.5,876.9H52.0M55.5,830.4H52.0M55.5,783.9H52.0" stroke="#2b2b2b" stroke-width="1.84" fill="none"/>
<text x="55.5" y="1060.0" font-size="14.0" text-anchor="middle" font-family="'Liberation Sans', sans-serif" font-weight="bold" fill="#1a1a1a" color="#1a1a1a">0</text>
<text x="123.5" y="1060.0" font-size="14.0" text-anchor="middle" font-family="'Liberation Sans', sans-serif" font-weight="bold" fill="#1a1a1a" color="#1a1a1a">70</text>
<text x="191.4" y="1060.0" font-size="14.0" text-anchor="middle" font-family="'Liberation Sans', sans-serif" font-weight="bold" fill="#1a1a1a" color="#1a1a1a">140</text>
<text x="259.4" y="1060.0" font-size="14.0" text-anchor="middle" font-family="'Liberation Sans', sans-serif" font-weight="bold" fill="#1a1a1a" color="#1a1a1a">210</text>
<text x="327.3" y="1060.0" font-size="14.0" text-anchor="middle" font-family="'Liberation Sans', sans-serif" font-weight="bold" fill="#1a1a1a" color="#1a1a1a">280</text>
<text x="394.3" y="1060.0" font-size="14.0" text-anchor="middle" font-family="'Liberation Sans', sans-serif" font-weight="bold" fill="#1a1a1a" color="#1a1a1a">310</text>
<rect x="405.3" y="1051.3" width="2.5" height="7.0" fill="#0a0a30"/>
<text x="46.0" y="1044.2" font-size="12.4" text-anchor="end" font-family="'Liberation Sans', sans-serif" font-weight="bold" fill="#1a1a1a" color="#1a1a1a">0.0</text>
<text x="46.0" y="997.6" font-size="12.4" text-anchor="end" font-family="'Liberation Sans', sans-serif" font-weight="bold" fill="#1a1a1a" color="#1a1a1a">0.5</text>
<text x="46.0" y="951.1" font-size="12.4" text-anchor="end" font-family="'Liberation Sans', sans-serif" font-weight="bold" fill="#1a1a1a" color="#1a1a1a">1.0</text>
<text x="46.0" y="904.6" font-size="12.4" text-anchor="end" font-family="'Liberation Sans', sans-serif" font-weight="bold" fill="#1a1a1a" color="#1a1a1a">1.5</text>
<text x="46.0" y="858.1" font-size="12.4" text-anchor="end" font-family="'Liberation Sans', sans-serif" font-weight="bold" fill="#1a1a1a" color="#1a1a1a">2.0</text>
<text x="46.0" y="811.6" font-size="12.4" text-anchor="end" font-family="'Liberation Sans', sans-serif" font-weight="bold" fill="#1a1a1a" color="#1a1a1a">2.5</text>
<text x="46.0" y="765.1" font-size="12.4" text-anchor="end" font-family="'Liberation Sans', sans-serif" font-weight="bold" fill="#1a1a1a" color="#1a1a1a">3.0</text>
<rect x="61.2" y="767.1" width="185.8" height="19.5" fill="#fff"/><path d="M61.2,786.6V767.1M60.3,767.1H247.0" stroke="#b0b0b0" stroke-width="1.74" fill="none"/><path d="M60.3,786.6H247.0V766.2" stroke="#858585" stroke-width="1.74" fill="none" stroke-linejoin="round"/>
<text x="71.1" y="782.7" font-size="15.0" font-family="'Liberation Serif', serif" font-weight="bold" fill="#161616" color="#161616" textLength="166.8" lengthAdjust="spacingAndGlyphs">RMSF in term of No bond</text>
<rect x="323.4" y="927.4" width="60.6" height="95.3" fill="#fff"/><path d="M323.4,1022.7V927.4M322.5,927.4H384.0" stroke="#b0b0b0" stroke-width="1.84" fill="none"/><path d="M322.5,1022.7H384.0V926.5" stroke="#858585" stroke-width="1.84" fill="none" stroke-linejoin="round"/>
<path d="M329.6,938.3H361.7" stroke="#ff0080" stroke-width="3.49" stroke-linecap="round"/>
<text x="365.5" y="942.6" font-size="14.9" font-family="'Liberation Serif', serif" font-weight="bold" fill="#161616" color="#161616" textLength="15.2" lengthAdjust="spacingAndGlyphs">01</text>
<path d="M329.6,957.2H361.7" stroke="#00ff00" stroke-width="3.49" stroke-linecap="round"/>
<text x="365.5" y="961.5" font-size="14.9" font-family="'Liberation Serif', serif" font-weight="bold" fill="#161616" color="#161616" textLength="15.2" lengthAdjust="spacingAndGlyphs">02</text>
<path d="M329.6,976.2H361.7" stroke="#0000ff" stroke-width="3.49" stroke-linecap="round"/>
<text x="365.5" y="980.5" font-size="14.9" font-family="'Liberation Serif', serif" font-weight="bold" fill="#161616" color="#161616" textLength="15.2" lengthAdjust="spacingAndGlyphs">03</text>
<path d="M329.6,995.1H361.7" stroke="#7800ff" stroke-width="3.49" stroke-linecap="round"/>
<text x="365.5" y="999.4" font-size="14.9" font-family="'Liberation Serif', serif" font-weight="bold" fill="#161616" color="#161616" textLength="15.2" lengthAdjust="spacingAndGlyphs">04</text>
<path d="M329.6,1014.4H361.7" stroke="#148014" stroke-width="3.49" stroke-linecap="round"/>
<text x="365.5" y="1018.7" font-size="14.9" font-family="'Liberation Serif', serif" font-weight="bold" fill="#161616" color="#161616" textLength="15.2" lengthAdjust="spacingAndGlyphs">05</text>
<text x="161.4" y="1075.3" font-size="15.0" font-family="'Liberation Serif', serif" font-weight="bold" fill="#161616" color="#161616" textLength="128.6" lengthAdjust="spacingAndGlyphs">Amino acid residues</text>
<text transform="translate(24.5,930.6) rotate(-90)" x="0" y="0" font-size="16.2" font-family="'Liberation Serif', serif" font-weight="bold" fill="#161616" color="#161616" textLength="40.6" lengthAdjust="spacingAndGlyphs">RMSF</text>
<text x="191.2" y="1113.3" font-size="31.4" font-family="'Liberation Serif', serif" fill="#000" color="#000" style="stroke-width:0" textLength="32.8" lengthAdjust="spacingAndGlyphs">(<tspan font-weight="bold" style="stroke-width:0.3px">g</tspan>)</text>
<path d="M495.0,1044.2 L496.2,1040.0 L497.4,1035.9 L498.6,1031.7 L499.7,1027.5 L500.7,1024.3 L500.9,1023.1 L502.1,1017.9 L503.3,1012.7 L504.5,1007.4 L505.3,1003.9 L505.7,1003.1 L506.9,1000.7 L508.0,998.3 L509.2,995.9 L509.9,994.6 L510.4,992.2 L511.6,986.8 L512.7,981.7 L512.8,981.7 L514.0,980.9 L515.2,980.2 L516.3,979.4 L517.3,978.8 L517.5,978.4 L518.7,975.9 L519.9,973.3 L521.1,970.8 L522.3,968.2 L523.5,965.7 L523.7,965.1 L524.6,965.1 L525.8,965.1 L527.0,965.1 L528.2,965.1 L528.3,965.1 L529.4,961.4 L530.6,957.3 L531.8,953.1 L532.9,949.0 L534.1,944.9 L535.3,940.8 L536.5,936.6 L536.8,935.4 L537.7,932.8 L538.9,929.1 L540.1,925.4 L541.2,921.8 L542.4,918.5 L543.6,915.6 L544.8,912.9 L546.0,910.4 L547.2,907.9 L548.4,905.6 L549.5,903.6 L550.7,902.0 L551.9,900.8 L553.1,899.8 L554.3,898.9 L555.5,898.0 L556.7,897.3 L557.8,896.8 L559.0,896.5 L560.2,896.4 L561.4,896.5 L562.6,896.6 L563.8,896.7 L565.0,896.9 L566.1,897.1 L567.3,897.3 L568.5,897.4 L569.7,897.4 L570.9,897.4 L572.1,897.1 L573.3,896.6 L574.4,896.0 L575.6,895.2 L576.8,894.4 L578.0,893.6 L579.2,892.8 L580.4,892.0 L581.6,891.1 L582.7,890.1 L583.9,889.0 L585.1,888.0 L586.3,887.0 L587.5,886.0 L588.7,885.1 L589.8,884.4 L591.0,883.6 L592.2,882.8 L593.4,882.0 L594.6,881.3 L595.8,880.6 L597.0,879.9 L598.1,879.2 L599.3,878.6 L600.5,878.1 L601.7,877.6 L602.9,877.1 L604.1,876.7 L605.3,876.4 L606.4,876.2 L607.6,876.0 L608.8,875.7 L610.0,875.4 L611.2,874.9 L612.4,873.7 L613.6,872.0 L614.7,870.2 L615.9,868.8 L617.1,868.1 L618.3,867.5 L619.5,867.1 L620.7,866.7 L621.9,866.4 L623.0,866.0 L624.2,865.7 L625.4,865.4 L626.6,865.0 L627.8,864.6 L629.0,864.0 L630.2,863.3 L631.3,862.4 L632.5,861.2 L633.7,859.9 L634.9,858.6 L636.1,857.2 L637.3,855.9 L638.5,854.8 L639.6,853.7 L640.8,852.5 L642.0,851.3 L643.2,850.1 L644.4,849.1 L645.6,848.2 L646.8,847.5 L647.9,847.2 L649.1,847.0 L650.3,846.9 L651.5,846.8 L652.7,846.7 L653.9,846.6 L655.1,846.4 L656.2,845.8 L657.4,844.5 L658.6,842.9 L659.8,841.5 L661.0,840.8 L662.2,840.5 L663.4,840.3 L664.5,840.1 L665.7,839.9 L666.9,839.8 L668.1,839.7 L669.3,839.6 L670.5,839.6 L671.7,839.5 L672.8,839.6 L674.0,839.6 L675.2,839.7 L676.4,839.8 L677.6,839.9 L678.8,839.9 L680.0,839.8 L681.1,839.2 L682.3,838.2 L683.5,837.1 L684.7,835.9 L685.9,834.7 L687.1,833.6 L688.3,832.9 L689.4,832.4 L690.6,832.2 L691.8,832.1 L693.0,832.0 L694.2,831.9 L695.4,831.8 L696.6,831.6 L697.7,831.3 L698.9,830.6 L700.1,829.3 L701.3,827.7 L702.5,826.0 L703.7,824.2 L704.9,822.6 L706.0,821.4 L707.2,820.2 L708.4,819.1 L709.6,817.9 L710.8,816.8 L712.0,815.9 L713.2,815.0 L714.3,814.4 L715.5,814.1 L716.7,813.9 L717.9,813.8 L719.1,813.7 L720.3,813.6 L721.5,813.5 L722.6,813.4 L723.8,813.3 L725.0,813.3 L726.2,813.2 L727.4,813.2 L728.6,813.2 L729.8,813.2 L730.9,813.3 L732.1,813.6 L733.3,814.0 L734.5,814.3 L735.7,814.6 L736.9,814.8 L738.1,814.8 L739.2,814.4 L740.4,813.8 L741.6,813.2 L742.8,812.6 L744.0,812.4 L745.2,812.3 L746.4,812.3 L747.5,812.3 L748.7,812.3 L749.9,812.3 L751.1,812.3 L752.3,812.3 L753.5,812.3 L754.7,812.3 L755.8,812.3 L757.0,812.2 L758.2,811.7 L759.4,810.9 L760.6,810.0 L761.8,809.0 L762.9,808.0 L764.1,807.1 L765.3,806.4 L766.5,805.9 L767.7,805.7 L768.9,805.9 L770.1,806.2 L771.2,806.7 L772.4,807.3 L773.6,807.8 L774.8,808.1 L776.0,808.2 L777.2,808.0 L778.4,807.7 L779.5,807.2 L780.7,806.5 L781.9,805.7 L783.1,804.8 L784.3,803.8 L785.5,802.8 L786.7,801.7 L787.8,800.6 L789.0,799.5 L790.2,798.4 L791.4,797.4 L792.6,796.4 L793.8,795.4 L795.0,794.1 L796.1,792.8 L797.3,791.5 L798.5,790.3 L799.7,789.3 L800.9,788.6 L802.1,788.3 L803.3,788.3 L804.4,788.3 L805.6,788.3 L806.8,788.3 L808.0,788.3 L809.2,788.3 L810.4,788.3 L811.6,788.2 L812.7,788.0 L813.9,787.6 L815.1,787.1 L816.3,786.4 L817.5,785.6 L818.7,784.8 L819.9,783.9 L821.0,783.0 L822.2,782.1 L823.4,781.2 L824.6,780.4 L825.8,779.5 L827.0,778.5 L828.2,777.4 L829.3,776.3 L830.5,775.2 L831.7,774.1 L832.9,773.2 L834.1,772.4 L835.3,771.7 L836.5,771.3 L837.6,771.0 L838.8,770.6 L840.0,770.3 L841.2,770.0 L842.4,769.8 L843.6,769.5 L844.8,769.3 L845.9,769.2 L847.1,769.1 L848.3,769.0 L849.5,769.0" fill="none" stroke="#00ff00" stroke-width="3.03" stroke-linejoin="round" stroke-linecap="round"/>
<path d="M495.0,1044.2 L496.2,1040.0 L497.4,1035.9 L498.6,1031.7 L499.7,1027.5 L500.7,1024.3 L500.9,1023.1 L502.1,1017.9 L503.3,1012.7 L504.5,1007.4 L505.3,1003.9 L505.7,1003.1 L506.9,1000.7 L508.0,998.3 L509.2,995.9 L509.9,994.6 L510.4,992.2 L511.6,986.8 L512.7,981.7 L512.8,981.7 L514.0,980.9 L515.2,980.2 L516.3,979.4 L517.3,978.8 L517.5,978.4 L518.7,975.9 L519.9,973.3 L521.1,970.8 L522.3,968.2 L523.5,965.7 L523.7,965.1 L524.6,965.1 L525.8,965.1 L527.0,965.1 L528.2,965.1 L528.3,965.1 L529.4,963.9 L530.6,962.6 L531.8,961.3 L532.9,960.0 L534.1,958.7 L535.1,957.6 L535.3,956.9 L536.5,953.8 L537.7,950.8 L538.9,947.7 L540.1,944.2 L541.2,940.4 L542.4,936.2 L543.6,931.9 L544.8,927.8 L546.0,923.9 L547.2,920.4 L548.4,917.2 L549.5,914.0 L550.7,910.8 L551.9,907.8 L553.1,905.2 L554.3,903.1 L555.5,901.9 L556.7,901.0 L557.8,900.2 L559.0,899.6 L560.2,899.1 L561.4,898.6 L562.6,898.3 L563.8,898.0 L565.0,897.8 L566.1,897.6 L567.3,897.5 L568.5,897.3 L569.7,897.2 L570.9,897.0 L572.1,896.9 L573.3,896.7 L574.4,896.6 L575.6,896.4 L576.8,896.1 L578.0,895.8 L579.2,895.5 L580.4,895.2 L581.6,894.8 L582.7,894.5 L583.9,894.2 L585.1,893.9 L586.3,893.7 L587.5,893.5 L588.7,893.5 L589.8,893.6 L591.0,893.8 L592.2,894.2 L593.4,894.6 L594.6,895.0 L595.8,895.5 L597.0,896.0 L598.1,896.8 L599.3,897.7 L600.5,898.6 L601.7,899.4 L602.9,900.0 L604.1,900.3 L605.3,900.5 L606.4,900.6 L607.6,900.8 L608.8,900.9 L610.0,901.0 L611.2,901.0 L612.4,900.9 L613.6,900.8 L614.7,900.7 L615.9,900.5 L617.1,900.3 L618.3,900.0 L619.5,899.8 L620.7,899.6 L621.9,899.3 L623.0,899.1 L624.2,898.9 L625.4,898.6 L626.6,898.3 L627.8,898.0 L629.0,897.7 L630.2,897.4 L631.3,897.0 L632.5,896.6 L633.7,896.0 L634.9,895.2 L636.1,894.1 L637.3,892.8 L638.5,891.6 L639.6,890.3 L640.8,889.1 L642.0,888.1 L643.2,887.4 L644.4,887.0 L645.6,886.8 L646.8,886.6 L647.9,886.5 L649.1,886.4 L650.3,886.3 L651.5,886.2 L652.7,886.4 L653.9,886.8 L655.1,887.5 L656.2,888.1 L657.4,888.7 L658.6,888.9 L659.8,888.9 L661.0,888.6 L662.2,888.2 L663.4,887.7 L664.5,887.1 L665.7,886.6 L666.9,886.1 L668.1,885.7 L669.3,885.4 L670.5,885.1 L671.7,884.9 L672.8,884.7 L674.0,884.5 L675.2,884.3 L676.4,884.2 L677.6,884.2 L678.8,884.3 L680.0,884.8 L681.1,885.4 L682.3,886.2 L683.5,887.0 L684.7,887.7 L685.9,888.4 L687.1,889.1 L688.3,889.8 L689.4,890.6 L690.6,891.3 L691.8,891.9 L693.0,892.3 L694.2,892.5 L695.4,892.4 L696.6,892.1 L697.7,891.7 L698.9,891.1 L700.1,890.5 L701.3,889.8 L702.5,889.1 L703.7,888.0 L704.9,886.5 L706.0,884.8 L707.2,883.1 L708.4,881.6 L709.6,880.5 L710.8,880.0 L712.0,880.0 L713.2,880.0 L714.3,880.0 L715.5,880.0 L716.7,880.0 L717.9,880.0 L719.1,880.0 L720.3,880.0 L721.5,880.0 L722.6,880.0 L723.8,880.2 L725.0,880.7 L726.2,881.4 L727.4,882.1 L728.6,882.7 L729.8,883.2 L730.9,883.3 L732.1,883.0 L733.3,882.4 L734.5,881.5 L735.7,880.4 L736.9,879.4 L738.1,878.3 L739.2,877.5 L740.4,876.9 L741.6,876.3 L742.8,875.8 L744.0,875.3 L745.2,874.7 L746.4,874.2 L747.5,873.6 L748.7,872.8 L749.9,872.0 L751.1,870.8 L752.3,869.4 L753.5,868.0 L754.7,866.8 L755.8,865.7 L757.0,865.0 L758.2,864.4 L759.4,863.9 L760.6,863.4 L761.8,862.9 L762.9,862.4 L764.1,861.8 L765.3,861.1 L766.5,860.1 L767.7,858.5 L768.9,856.7 L770.1,854.8 L771.2,853.3 L772.4,852.4 L773.6,852.2 L774.8,852.0 L776.0,851.8 L777.2,851.7 L778.4,851.6 L779.5,851.6 L780.7,851.8 L781.9,852.2 L783.1,852.7 L784.3,853.2 L785.5,853.7 L786.7,854.0 L787.8,854.0 L789.0,853.8 L790.2,853.4 L791.4,853.0 L792.6,852.4 L793.8,852.0 L795.0,851.7 L796.1,851.6 L797.3,851.8 L798.5,852.2 L799.7,852.6 L800.9,853.0 L802.1,853.2 L803.3,853.2 L804.4,853.1 L805.6,853.0 L806.8,852.8 L808.0,852.6 L809.2,852.4 L810.4,852.1 L811.6,851.7 L812.7,851.2 L813.9,850.7 L815.1,850.1 L816.3,849.7 L817.5,849.3 L818.7,849.1 L819.9,849.1 L821.0,849.6 L822.2,850.4 L823.4,851.4 L824.6,852.6 L825.8,853.9 L827.0,855.0 L828.2,855.9 L829.3,856.6 L830.5,857.0 L831.7,857.4 L832.9,857.9 L834.1,858.2 L835.3,858.5 L836.5,858.8 L837.6,859.0 L838.8,859.0 L840.0,859.0 L841.2,858.9 L842.4,858.7 L843.6,858.4 L844.8,858.0 L845.9,857.6 L847.1,857.0 L848.3,856.4 L849.5,855.7" fill="none" stroke="#0000ff" stroke-width="3.03" stroke-linejoin="round" stroke-linecap="round"/>
<path d="M495.0,1044.2 L496.2,1040.0 L497.4,1035.9 L498.6,1031.7 L499.7,1027.5 L500.7,1024.3 L500.9,1023.1 L502.1,1017.9 L503.3,1012.7 L504.5,1007.4 L505.3,1003.9 L505.7,1003.1 L506.9,1000.7 L508.0,998.3 L509.2,995.9 L509.9,994.6 L510.4,992.2 L511.6,986.8 L512.7,981.7 L512.8,981.7 L514.0,980.9 L515.2,980.2 L516.3,979.4 L517.3,978.8 L517.5,978.4 L518.7,975.9 L519.9,973.3 L521.1,970.8 L522.3,968.2 L523.5,965.7 L523.7,965.1 L524.6,965.1 L525.8,965.1 L527.0,965.1 L528.2,965.1 L528.3,965.1 L529.4,963.9 L530.6,962.6 L531.8,961.3 L532.9,960.0 L534.1,958.7 L535.1,957.6 L535.3,957.2 L536.5,955.0 L537.7,952.8 L538.9,950.5 L540.1,948.1 L541.2,945.6 L542.4,942.9 L543.6,940.1 L544.8,937.0 L546.0,933.8 L547.2,930.6 L548.4,927.4 L549.5,924.4 L550.7,921.2 L551.9,918.1 L553.1,915.5 L554.3,913.8 L555.5,912.3 L556.7,911.0 L557.8,910.0 L559.0,909.4 L560.2,908.9 L561.4,908.5 L562.6,908.2 L563.8,907.9 L565.0,907.7 L566.1,907.6 L567.3,907.7 L568.5,907.8 L569.7,908.0 L570.9,908.3 L572.1,908.6 L573.3,908.9 L574.4,909.2 L575.6,909.5 L576.8,909.8 L578.0,910.2 L579.2,910.5 L580.4,910.9 L581.6,911.3 L582.7,911.6 L583.9,911.9 L585.1,912.1 L586.3,912.2 L587.5,912.2 L588.7,912.1 L589.8,911.9 L591.0,911.7 L592.2,911.4 L593.4,911.1 L594.6,910.8 L595.8,910.4 L597.0,909.9 L598.1,909.2 L599.3,908.4 L600.5,907.5 L601.7,906.7 L602.9,906.0 L604.1,905.6 L605.3,905.2 L606.4,905.0 L607.6,904.8 L608.8,904.5 L610.0,904.2 L611.2,903.8 L612.4,903.0 L613.6,901.9 L614.7,900.6 L615.9,899.1 L617.1,897.5 L618.3,895.9 L619.5,894.3 L620.7,892.9 L621.9,891.7 L623.0,890.6 L624.2,889.6 L625.4,888.6 L626.6,887.6 L627.8,886.7 L629.0,885.8 L630.2,885.0 L631.3,884.2 L632.5,883.5 L633.7,882.9 L634.9,882.4 L636.1,881.9 L637.3,881.4 L638.5,880.9 L639.6,880.5 L640.8,880.1 L642.0,879.6 L643.2,879.2 L644.4,878.7 L645.6,878.2 L646.8,877.7 L647.9,877.1 L649.1,876.6 L650.3,876.1 L651.5,875.5 L652.7,875.0 L653.9,874.5 L655.1,874.1 L656.2,873.6 L657.4,873.2 L658.6,872.8 L659.8,872.4 L661.0,872.0 L662.2,871.6 L663.4,871.2 L664.5,870.8 L665.7,870.4 L666.9,870.0 L668.1,869.6 L669.3,869.1 L670.5,868.6 L671.7,868.0 L672.8,867.3 L674.0,866.6 L675.2,865.9 L676.4,865.2 L677.6,864.4 L678.8,863.8 L680.0,863.1 L681.1,862.6 L682.3,862.1 L683.5,861.8 L684.7,861.6 L685.9,861.5 L687.1,861.5 L688.3,861.5 L689.4,861.5 L690.6,861.5 L691.8,861.5 L693.0,861.5 L694.2,861.5 L695.4,861.5 L696.6,861.5 L697.7,861.5 L698.9,861.5 L700.1,861.5 L701.3,861.5 L702.5,861.5 L703.7,861.4 L704.9,861.1 L706.0,860.7 L707.2,860.2 L708.4,859.6 L709.6,858.9 L710.8,858.2 L712.0,857.5 L713.2,856.8 L714.3,856.2 L715.5,855.7 L716.7,855.2 L717.9,855.0 L719.1,854.9 L720.3,854.9 L721.5,854.9 L722.6,855.0 L723.8,855.1 L725.0,855.2 L726.2,855.3 L727.4,855.4 L728.6,855.5 L729.8,855.6 L730.9,855.7 L732.1,855.9 L733.3,856.0 L734.5,856.1 L735.7,856.2 L736.9,856.3 L738.1,856.4 L739.2,856.5 L740.4,856.5 L741.6,856.5 L742.8,856.5 L744.0,856.3 L745.2,855.8 L746.4,855.0 L747.5,854.2 L748.7,853.3 L749.9,852.4 L751.1,851.5 L752.3,850.8 L753.5,850.2 L754.7,849.6 L755.8,849.1 L757.0,848.6 L758.2,848.1 L759.4,847.6 L760.6,847.1 L761.8,846.6 L762.9,846.1 L764.1,845.6 L765.3,845.0 L766.5,844.5 L767.7,843.9 L768.9,843.3 L770.1,842.7 L771.2,842.0 L772.4,841.1 L773.6,840.3 L774.8,839.4 L776.0,838.5 L777.2,837.5 L778.4,836.7 L779.5,835.8 L780.7,835.1 L781.9,834.4 L783.1,833.9 L784.3,833.4 L785.5,833.1 L786.7,833.0 L787.8,832.9 L789.0,832.8 L790.2,832.7 L791.4,832.6 L792.6,832.4 L793.8,831.9 L795.0,830.9 L796.1,829.5 L797.3,827.8 L798.5,825.9 L799.7,823.8 L800.9,821.7 L802.1,819.6 L803.3,817.6 L804.4,815.8 L805.6,814.3 L806.8,813.1 L808.0,811.9 L809.2,810.8 L810.4,809.7 L811.6,808.7 L812.7,807.7 L813.9,806.8 L815.1,805.8 L816.3,804.9 L817.5,803.9 L818.7,803.0 L819.9,802.0 L821.0,801.0 L822.2,800.0 L823.4,799.1 L824.6,798.1 L825.8,797.2 L827.0,796.2 L828.2,795.1 L829.3,794.0 L830.5,792.8 L831.7,791.4 L832.9,789.9 L834.1,788.3 L835.3,786.9 L836.5,785.5 L837.6,784.3 L838.8,783.3 L840.0,782.6 L841.2,781.9 L842.4,781.3 L843.6,780.7 L844.8,780.1 L845.9,779.7 L847.1,779.3 L848.3,779.0 L849.5,778.9" fill="none" stroke="#007800" stroke-width="3.03" stroke-linejoin="round" stroke-linecap="round"/>
<path d="M495.0,1044.2 L496.2,1040.0 L497.4,1035.9 L498.6,1031.7 L499.7,1027.5 L500.7,1024.3 L500.9,1023.1 L502.1,1017.9 L503.3,1012.7 L504.5,1007.4 L505.3,1003.9 L505.7,1003.1 L506.9,1000.7 L508.0,998.3 L509.2,995.9 L509.9,994.6 L510.4,992.2 L511.6,986.8 L512.7,981.7 L512.8,981.7 L514.0,980.9 L515.2,980.2 L516.3,979.4 L517.3,978.8 L517.5,978.4 L518.7,975.9 L519.9,973.3 L521.1,970.8 L522.3,968.2 L523.5,965.7 L523.7,965.1 L524.6,965.1 L525.8,965.1 L527.0,965.1 L528.2,965.1 L528.3,965.1 L529.4,963.9 L530.6,962.6 L531.8,961.3 L532.9,960.0 L534.1,958.7 L535.1,957.6 L535.3,957.2 L536.5,955.0 L537.7,952.8 L538.9,950.5 L540.1,948.1 L541.2,945.6 L542.4,942.9 L543.6,940.0 L544.8,936.9 L546.0,933.6 L547.2,930.3 L548.4,927.2 L549.5,924.3 L550.7,921.6 L551.9,919.0 L553.1,917.1 L554.3,916.2 L555.5,915.5 L556.7,915.0 L557.8,914.5 L559.0,914.1 L560.2,913.8 L561.4,913.4 L562.6,913.1 L563.8,912.6 L565.0,912.2 L566.1,911.7 L567.3,911.3 L568.5,910.9 L569.7,910.6 L570.9,910.4 L572.1,910.3 L573.3,910.3 L574.4,910.4 L575.6,910.5 L576.8,910.7 L578.0,910.8 L579.2,910.9 L580.4,911.0 L581.6,911.1 L582.7,911.1 L583.9,911.1 L585.1,910.8 L586.3,910.4 L587.5,909.9 L588.7,909.3 L589.8,908.6 L591.0,907.8 L592.2,907.0 L593.4,906.3 L594.6,905.5 L595.8,904.7 L597.0,903.6 L598.1,902.5 L599.3,901.4 L600.5,900.3 L601.7,899.4 L602.9,898.6 L604.1,898.0 L605.3,897.5 L606.4,897.0 L607.6,896.6 L608.8,896.4 L610.0,896.5 L611.2,896.9 L612.4,897.5 L613.6,898.3 L614.7,899.0 L615.9,899.6 L617.1,900.0 L618.3,900.1 L619.5,900.0 L620.7,899.8 L621.9,899.5 L623.0,899.1 L624.2,898.7 L625.4,898.2 L626.6,897.6 L627.8,897.1 L629.0,896.6 L630.2,896.0 L631.3,895.3 L632.5,894.4 L633.7,893.5 L634.9,892.6 L636.1,891.7 L637.3,890.9 L638.5,890.4 L639.6,890.0 L640.8,890.0 L642.0,890.2 L643.2,890.5 L644.4,891.0 L645.6,891.6 L646.8,892.2 L647.9,892.8 L649.1,893.6 L650.3,894.7 L651.5,895.9 L652.7,897.0 L653.9,897.9 L655.1,898.3 L656.2,898.2 L657.4,898.0 L658.6,897.7 L659.8,897.3 L661.0,896.8 L662.2,896.4 L663.4,896.0 L664.5,895.7 L665.7,895.6 L666.9,895.6 L668.1,895.7 L669.3,895.8 L670.5,895.9 L671.7,896.1 L672.8,896.2 L674.0,896.4 L675.2,896.6 L676.4,896.8 L677.6,896.9 L678.8,897.1 L680.0,897.2 L681.1,897.3 L682.3,897.4 L683.5,897.4 L684.7,897.4 L685.9,897.1 L687.1,896.6 L688.3,895.9 L689.4,895.1 L690.6,894.2 L691.8,893.3 L693.0,892.4 L694.2,891.7 L695.4,890.9 L696.6,890.0 L697.7,889.0 L698.9,887.9 L700.1,886.9 L701.3,885.8 L702.5,884.8 L703.7,883.9 L704.9,883.1 L706.0,882.5 L707.2,882.0 L708.4,881.7 L709.6,881.7 L710.8,881.8 L712.0,882.0 L713.2,882.2 L714.3,882.6 L715.5,883.0 L716.7,883.4 L717.9,883.8 L719.1,884.2 L720.3,884.7 L721.5,885.4 L722.6,886.1 L723.8,886.9 L725.0,887.7 L726.2,888.4 L727.4,888.9 L728.6,889.1 L729.8,889.1 L730.9,888.7 L732.1,888.0 L733.3,887.2 L734.5,886.4 L735.7,885.5 L736.9,884.8 L738.1,884.3 L739.2,884.2 L740.4,884.3 L741.6,884.8 L742.8,885.4 L744.0,886.1 L745.2,886.8 L746.4,887.5 L747.5,888.0 L748.7,888.3 L749.9,888.3 L751.1,888.3 L752.3,888.3 L753.5,888.3 L754.7,888.3 L755.8,888.2 L757.0,888.2 L758.2,888.1 L759.4,888.1 L760.6,888.0 L761.8,888.0 L762.9,887.9 L764.1,887.9 L765.3,887.8 L766.5,887.7 L767.7,887.6 L768.9,887.5 L770.1,887.2 L771.2,886.6 L772.4,885.8 L773.6,884.7 L774.8,883.7 L776.0,882.6 L777.2,881.7 L778.4,881.1 L779.5,880.8 L780.7,880.7 L781.9,880.6 L783.1,880.5 L784.3,880.4 L785.5,880.4 L786.7,880.3 L787.8,880.2 L789.0,880.0 L790.2,879.7 L791.4,878.8 L792.6,877.6 L793.8,876.2 L795.0,874.7 L796.1,873.3 L797.3,872.0 L798.5,871.2 L799.7,870.7 L800.9,870.3 L802.1,870.0 L803.3,869.7 L804.4,869.5 L805.6,869.3 L806.8,869.2 L808.0,869.3 L809.2,869.6 L810.4,870.3 L811.6,871.2 L812.7,872.2 L813.9,873.2 L815.1,874.4 L816.3,875.4 L817.5,876.4 L818.7,877.2 L819.9,877.7 L821.0,878.3 L822.2,878.8 L823.4,879.4 L824.6,879.8 L825.8,880.2 L827.0,880.6 L828.2,880.8 L829.3,880.8 L830.5,880.6 L831.7,880.0 L832.9,879.1 L834.1,878.1 L835.3,877.1 L836.5,876.1 L837.6,875.4 L838.8,875.1 L840.0,875.0 L841.2,875.2 L842.4,875.4 L843.6,875.7 L844.8,876.1 L845.9,876.7 L847.1,877.3 L848.3,878.2 L849.5,879.2" fill="none" stroke="#7800ff" stroke-width="3.03" stroke-linejoin="round" stroke-linecap="round"/>
<path d="M495.0,1044.2 L496.2,1040.0 L497.4,1035.9 L498.6,1031.7 L499.7,1027.5 L500.7,1024.3 L500.9,1023.1 L502.1,1017.9 L503.3,1012.7 L504.5,1007.4 L505.3,1003.9 L505.7,1003.1 L506.9,1000.7 L508.0,998.3 L509.2,995.9 L509.9,994.6 L510.4,992.2 L511.6,986.8 L512.7,981.7 L512.8,981.7 L514.0,980.9 L515.2,980.2 L516.3,979.4 L517.3,978.8 L517.5,978.4 L518.7,975.9 L519.9,973.3 L521.1,970.8 L522.3,968.2 L523.5,965.7 L523.7,965.1 L524.6,965.1 L525.8,965.1 L527.0,965.1 L528.2,965.1 L528.3,965.1 L529.4,963.9 L530.6,962.6 L531.8,961.3 L532.9,960.0 L534.1,958.7 L535.1,957.6 L535.3,957.2 L536.5,955.0 L537.7,952.8 L538.9,950.5 L540.1,948.1 L541.2,945.6 L542.4,942.9 L543.6,940.0 L544.8,936.9 L546.0,933.6 L547.2,930.3 L548.4,927.2 L549.5,924.3 L550.7,921.8 L551.9,919.3 L553.1,916.9 L554.3,914.7 L555.5,912.7 L556.7,910.7 L557.8,908.7 L559.0,906.8 L560.2,905.0 L561.4,903.5 L562.6,902.1 L563.8,901.0 L565.0,899.8 L566.1,898.7 L567.3,897.7 L568.5,896.8 L569.7,896.1 L570.9,895.7 L572.1,895.6 L573.3,895.6 L574.4,895.6 L575.6,895.6 L576.8,895.6 L578.0,895.6 L579.2,895.6 L580.4,895.4 L581.6,894.9 L582.7,894.1 L583.9,893.1 L585.1,892.0 L586.3,891.0 L587.5,890.1 L588.7,889.4 L589.8,889.0 L591.0,889.0 L592.2,889.3 L593.4,889.9 L594.6,890.6 L595.8,891.3 L597.0,891.9 L598.1,892.4 L599.3,892.7 L600.5,892.7 L601.7,892.6 L602.9,892.4 L604.1,892.2 L605.3,892.0 L606.4,891.8 L607.6,891.5 L608.8,890.9 L610.0,890.2 L611.2,889.3 L612.4,888.3 L613.6,887.1 L614.7,886.0 L615.9,884.8 L617.1,883.6 L618.3,882.4 L619.5,881.4 L620.7,880.5 L621.9,879.8 L623.0,879.2 L624.2,878.6 L625.4,878.0 L626.6,877.4 L627.8,876.8 L629.0,876.3 L630.2,875.7 L631.3,875.2 L632.5,874.8 L633.7,874.4 L634.9,874.0 L636.1,873.7 L637.3,873.4 L638.5,873.3 L639.6,873.2 L640.8,873.2 L642.0,873.2 L643.2,873.2 L644.4,873.2 L645.6,873.2 L646.8,873.4 L647.9,874.4 L649.1,875.9 L650.3,877.2 L651.5,877.9 L652.7,877.8 L653.9,877.5 L655.1,877.1 L656.2,876.5 L657.4,875.8 L658.6,875.1 L659.8,874.3 L661.0,873.1 L662.2,871.7 L663.4,870.2 L664.5,868.7 L665.7,867.3 L666.9,866.1 L668.1,865.2 L669.3,864.8 L670.5,864.6 L671.7,864.5 L672.8,864.3 L674.0,864.2 L675.2,864.1 L676.4,863.9 L677.6,863.7 L678.8,863.4 L680.0,863.2 L681.1,862.9 L682.3,862.6 L683.5,862.3 L684.7,862.1 L685.9,861.8 L687.1,861.5 L688.3,861.3 L689.4,861.1 L690.6,860.9 L691.8,860.8 L693.0,860.7 L694.2,860.7 L695.4,860.9 L696.6,861.5 L697.7,862.3 L698.9,863.4 L700.1,864.7 L701.3,866.0 L702.5,867.3 L703.7,868.5 L704.9,869.5 L706.0,870.3 L707.2,870.8 L708.4,871.1 L709.6,871.3 L710.8,871.5 L712.0,871.7 L713.2,871.8 L714.3,871.9 L715.5,872.1 L716.7,872.2 L717.9,872.4 L719.1,872.5 L720.3,872.7 L721.5,872.9 L722.6,873.2 L723.8,873.4 L725.0,873.6 L726.2,873.8 L727.4,874.0 L728.6,874.3 L729.8,874.5 L730.9,874.8 L732.1,875.0 L733.3,875.3 L734.5,875.6 L735.7,875.9 L736.9,876.2 L738.1,876.5 L739.2,877.0 L740.4,877.4 L741.6,877.9 L742.8,878.4 L744.0,878.8 L745.2,879.3 L746.4,879.7 L747.5,880.1 L748.7,880.4 L749.9,880.6 L751.1,880.8 L752.3,880.8 L753.5,880.7 L754.7,880.2 L755.8,879.4 L757.0,878.4 L758.2,877.2 L759.4,875.9 L760.6,874.6 L761.8,873.4 L762.9,872.2 L764.1,870.8 L765.3,869.1 L766.5,867.5 L767.7,866.3 L768.9,865.7 L770.1,865.7 L771.2,865.9 L772.4,866.1 L773.6,866.3 L774.8,866.7 L776.0,867.0 L777.2,867.4 L778.4,867.8 L779.5,868.1 L780.7,868.5 L781.9,868.8 L783.1,869.0 L784.3,869.1 L785.5,869.2 L786.7,869.2 L787.8,869.0 L789.0,868.7 L790.2,868.3 L791.4,867.8 L792.6,867.3 L793.8,866.8 L795.0,866.2 L796.1,865.6 L797.3,865.0 L798.5,864.5 L799.7,864.1 L800.9,863.7 L802.1,863.4 L803.3,863.2 L804.4,863.2 L805.6,863.3 L806.8,863.6 L808.0,864.0 L809.2,864.5 L810.4,865.0 L811.6,865.6 L812.7,866.3 L813.9,867.0 L815.1,867.6 L816.3,868.2 L817.5,868.8 L818.7,869.3 L819.9,869.7 L821.0,869.9 L822.2,870.0 L823.4,870.0 L824.6,869.7 L825.8,869.3 L827.0,868.8 L828.2,868.2 L829.3,867.5 L830.5,866.8 L831.7,866.1 L832.9,865.5 L834.1,864.6 L835.3,863.6 L836.5,862.6 L837.6,861.5 L838.8,860.6 L840.0,859.8 L841.2,859.2 L842.4,859.0 L843.6,859.0 L844.8,859.0 L845.9,859.0 L847.1,859.0 L848.3,859.0 L849.5,859.0" fill="none" stroke="#ff0080" stroke-width="3.03" stroke-linejoin="round" stroke-linecap="round"/>
<rect x="495.0" y="753.6" width="354.5" height="290.6" fill="none" stroke="#3c3c3c" stroke-width="2.12"/>
<path d="M495.0,1044.2V1050.3M565.9,1044.2V1050.3M636.8,1044.2V1050.3M707.7,1044.2V1050.3M778.6,1044.2V1050.3M849.5,1044.2V1050.3M530.5,1044.2V1047.8M601.4,1044.2V1047.8M672.2,1044.2V1047.8M743.1,1044.2V1047.8M814.0,1044.2V1047.8M495.0,1044.2H488.9M495.0,1002.7H488.9M495.0,961.2H488.9M495.0,919.7H488.9M495.0,878.1H488.9M495.0,836.6H488.9M495.0,795.1H488.9M495.0,753.6H488.9M495.0,1023.4H491.4M495.0,981.9H491.4M495.0,940.4H491.4M495.0,898.9H491.4M495.0,857.4H491.4M495.0,815.9H491.4M495.0,774.4H491.4" stroke="#2b2b2b" stroke-width="1.92" fill="none"/>
<text x="495.0" y="1065.4" font-size="14.6" text-anchor="middle" font-family="'Liberation Sans', sans-serif" font-weight="bold" fill="#1a1a1a" color="#1a1a1a">0</text>
<text x="565.9" y="1065.4" font-size="14.6" text-anchor="middle" font-family="'Liberation Sans', sans-serif" font-weight="bold" fill="#1a1a1a" color="#1a1a1a">70</text>
<text x="636.8" y="1065.4" font-size="14.6" text-anchor="middle" font-family="'Liberation Sans', sans-serif" font-weight="bold" fill="#1a1a1a" color="#1a1a1a">140</text>
<text x="707.7" y="1065.4" font-size="14.6" text-anchor="middle" font-family="'Liberation Sans', sans-serif" font-weight="bold" fill="#1a1a1a" color="#1a1a1a">210</text>
<text x="778.6" y="1065.4" font-size="14.6" text-anchor="middle" font-family="'Liberation Sans', sans-serif" font-weight="bold" fill="#1a1a1a" color="#1a1a1a">280</text>
<text x="848.5" y="1065.4" font-size="14.6" text-anchor="middle" font-family="'Liberation Sans', sans-serif" font-weight="bold" fill="#1a1a1a" color="#1a1a1a">310</text>
<rect x="859.9" y="1056.3" width="2.6" height="7.3" fill="#0a0a30"/>
<text x="485.1" y="1048.8" font-size="12.9" text-anchor="end" font-family="'Liberation Sans', sans-serif" font-weight="bold" fill="#1a1a1a" color="#1a1a1a">0.0</text>
<text x="485.1" y="1007.3" font-size="12.9" text-anchor="end" font-family="'Liberation Sans', sans-serif" font-weight="bold" fill="#1a1a1a" color="#1a1a1a">0.2</text>
<text x="485.1" y="965.8" font-size="12.9" text-anchor="end" font-family="'Liberation Sans', sans-serif" font-weight="bold" fill="#1a1a1a" color="#1a1a1a">0.4</text>
<text x="485.1" y="924.3" font-size="12.9" text-anchor="end" font-family="'Liberation Sans', sans-serif" font-weight="bold" fill="#1a1a1a" color="#1a1a1a">0.6</text>
<text x="485.1" y="882.8" font-size="12.9" text-anchor="end" font-family="'Liberation Sans', sans-serif" font-weight="bold" fill="#1a1a1a" color="#1a1a1a">0.8</text>
<text x="485.1" y="841.3" font-size="12.9" text-anchor="end" font-family="'Liberation Sans', sans-serif" font-weight="bold" fill="#1a1a1a" color="#1a1a1a">1.0</text>
<text x="485.1" y="799.8" font-size="12.9" text-anchor="end" font-family="'Liberation Sans', sans-serif" font-weight="bold" fill="#1a1a1a" color="#1a1a1a">1.2</text>
<text x="485.1" y="758.2" font-size="12.9" text-anchor="end" font-family="'Liberation Sans', sans-serif" font-weight="bold" fill="#1a1a1a" color="#1a1a1a">1.4</text>
<rect x="501.2" y="758.7" width="239.0" height="20.6" fill="#fff"/><path d="M501.2,779.3V758.7M500.3,758.7H740.2" stroke="#b0b0b0" stroke-width="1.82" fill="none"/><path d="M500.3,779.3H740.2V757.8" stroke="#858585" stroke-width="1.82" fill="none" stroke-linejoin="round"/>
<text x="508.9" y="775.5" font-size="16.2" font-family="'Liberation Serif', serif" font-weight="bold" fill="#161616" color="#161616" textLength="222.1" lengthAdjust="spacingAndGlyphs">RMSF in term of Backbone bond</text>
<rect x="775.0" y="930.1" width="63.3" height="99.9" fill="#fff"/><path d="M775.0,1030.0V930.1M774.0,930.1H838.3" stroke="#b0b0b0" stroke-width="1.92" fill="none"/><path d="M774.0,1030.0H838.3V929.1" stroke="#858585" stroke-width="1.92" fill="none" stroke-linejoin="round"/>
<path d="M781.2,942.0H813.8" stroke="#00ff00" stroke-width="3.64" stroke-linecap="round"/>
<text x="817.3" y="946.4" font-size="15.5" font-family="'Liberation Serif', serif" font-weight="bold" fill="#161616" color="#161616" textLength="16.3" lengthAdjust="spacingAndGlyphs">01</text>
<path d="M781.2,962.0H813.8" stroke="#0000ff" stroke-width="3.64" stroke-linecap="round"/>
<text x="817.3" y="966.4" font-size="15.5" font-family="'Liberation Serif', serif" font-weight="bold" fill="#161616" color="#161616" textLength="16.3" lengthAdjust="spacingAndGlyphs">02</text>
<path d="M781.2,981.6H813.8" stroke="#007800" stroke-width="3.64" stroke-linecap="round"/>
<text x="817.3" y="986.0" font-size="15.5" font-family="'Liberation Serif', serif" font-weight="bold" fill="#161616" color="#161616" textLength="16.3" lengthAdjust="spacingAndGlyphs">03</text>
<path d="M781.2,1001.2H813.8" stroke="#7800ff" stroke-width="3.64" stroke-linecap="round"/>
<text x="817.3" y="1005.6" font-size="15.5" font-family="'Liberation Serif', serif" font-weight="bold" fill="#161616" color="#161616" textLength="16.3" lengthAdjust="spacingAndGlyphs">04</text>
<path d="M781.2,1020.5H813.8" stroke="#ff0080" stroke-width="3.64" stroke-linecap="round"/>
<text x="817.3" y="1024.9" font-size="15.5" font-family="'Liberation Serif', serif" font-weight="bold" fill="#161616" color="#161616" textLength="16.3" lengthAdjust="spacingAndGlyphs">05</text>
<text x="604.8" y="1079.7" font-size="15.5" font-family="'Liberation Serif', serif" font-weight="bold" fill="#161616" color="#161616" textLength="135.4" lengthAdjust="spacingAndGlyphs">Amino acid residues</text>
<text transform="translate(463.4,930.6) rotate(-90)" x="0" y="0" font-size="17.2" font-family="'Liberation Serif', serif" font-weight="bold" fill="#161616" color="#161616" textLength="42.8" lengthAdjust="spacingAndGlyphs">RMSF</text>
<text x="636.3" y="1112.1" font-size="29.5" font-family="'Liberation Serif', serif" fill="#000" color="#000" style="stroke-width:0" textLength="35.5" lengthAdjust="spacingAndGlyphs">(<tspan font-weight="bold" style="stroke-width:0.3px">h</tspan>)</text>
<path d="M941.5,1043.0 L942.7,1040.0 L943.8,1037.1 L945.0,1034.1 L946.2,1031.1 L947.3,1028.2 L948.5,1025.2 L949.7,1022.3 L950.9,1019.3 L950.9,1019.1 L952.0,1017.4 L953.2,1015.6 L954.4,1013.8 L955.5,1012.0 L956.5,1010.5 L956.7,1009.9 L957.9,1006.3 L959.0,1002.7 L959.3,1001.8 L960.2,1001.3 L961.4,1000.6 L962.5,999.8 L963.7,999.1 L963.9,999.0 L964.9,996.5 L966.1,993.6 L967.2,990.7 L968.4,987.8 L969.1,986.1 L969.6,986.0 L970.7,985.8 L971.9,985.6 L973.1,985.4 L974.2,985.2 L974.7,985.1 L975.4,983.7 L976.6,981.4 L977.7,979.0 L978.9,976.7 L980.1,974.3 L981.0,972.5 L981.3,971.8 L982.4,968.9 L983.6,965.9 L984.8,962.8 L985.9,959.6 L987.1,956.3 L988.3,953.2 L989.4,950.3 L990.6,947.6 L991.8,945.0 L992.9,942.5 L994.1,940.0 L995.3,937.6 L996.5,935.4 L997.6,933.2 L998.8,931.3 L1000.0,929.5 L1001.1,927.8 L1002.3,926.1 L1003.5,924.4 L1004.6,922.9 L1005.8,921.3 L1007.0,919.9 L1008.1,918.5 L1009.3,917.1 L1010.5,915.7 L1011.7,914.4 L1012.8,913.1 L1014.0,911.8 L1015.2,910.6 L1016.3,909.4 L1017.5,908.1 L1018.7,906.9 L1019.8,905.8 L1021.0,904.6 L1022.2,903.4 L1023.3,902.3 L1024.5,901.2 L1025.7,900.1 L1026.9,899.0 L1028.0,897.9 L1029.2,896.9 L1030.4,895.9 L1031.5,894.9 L1032.7,893.8 L1033.9,892.9 L1035.0,891.9 L1036.2,890.9 L1037.4,890.0 L1038.5,889.1 L1039.7,888.1 L1040.9,887.2 L1042.1,886.4 L1043.2,885.5 L1044.4,884.6 L1045.6,883.8 L1046.7,882.9 L1047.9,882.1 L1049.1,881.3 L1050.2,880.5 L1051.4,879.7 L1052.6,879.0 L1053.7,878.2 L1054.9,877.4 L1056.1,876.7 L1057.3,876.0 L1058.4,875.2 L1059.6,874.5 L1060.8,873.8 L1061.9,873.1 L1063.1,872.5 L1064.3,871.8 L1065.4,871.1 L1066.6,870.5 L1067.8,869.8 L1068.9,869.2 L1070.1,868.6 L1071.3,868.0 L1072.5,867.4 L1073.6,866.8 L1074.8,866.2 L1076.0,865.6 L1077.1,865.1 L1078.3,864.5 L1079.5,864.0 L1080.6,863.5 L1081.8,863.0 L1083.0,862.5 L1084.1,862.0 L1085.3,861.5 L1086.5,861.1 L1087.7,860.6 L1088.8,860.2 L1090.0,859.8 L1091.2,859.4 L1092.3,859.0 L1093.5,858.6 L1094.7,858.2 L1095.8,857.8 L1097.0,857.4 L1098.2,857.1 L1099.3,856.7 L1100.5,856.4 L1101.7,856.0 L1102.9,855.7 L1104.0,855.4 L1105.2,855.0 L1106.4,854.7 L1107.5,854.3 L1108.7,854.0 L1109.9,853.6 L1111.0,853.3 L1112.2,852.9 L1113.4,852.6 L1114.5,852.2 L1115.7,851.8 L1116.9,851.4 L1118.1,851.0 L1119.2,850.6 L1120.4,850.2 L1121.6,849.7 L1122.7,849.3 L1123.9,848.8 L1125.1,848.4 L1126.2,847.9 L1127.4,847.5 L1128.6,847.0 L1129.7,846.6 L1130.9,846.1 L1132.1,845.6 L1133.3,845.2 L1134.4,844.7 L1135.6,844.3 L1136.8,843.8 L1137.9,843.4 L1139.1,843.0 L1140.3,842.6 L1141.4,842.2 L1142.6,841.8 L1143.8,841.4 L1144.9,841.0 L1146.1,840.6 L1147.3,840.3 L1148.5,839.9 L1149.6,839.6 L1150.8,839.2 L1152.0,838.9 L1153.1,838.6 L1154.3,838.2 L1155.5,837.9 L1156.6,837.6 L1157.8,837.3 L1159.0,837.0 L1160.1,836.7 L1161.3,836.4 L1162.5,836.1 L1163.7,835.8 L1164.8,835.5 L1166.0,835.3 L1167.2,835.0 L1168.3,834.7 L1169.5,834.4 L1170.7,834.1 L1171.8,833.8 L1173.0,833.5 L1174.2,833.2 L1175.3,832.9 L1176.5,832.5 L1177.7,832.2 L1178.9,831.9 L1180.0,831.6 L1181.2,831.2 L1182.4,830.9 L1183.5,830.6 L1184.7,830.2 L1185.9,829.9 L1187.0,829.5 L1188.2,829.2 L1189.4,828.8 L1190.5,828.5 L1191.7,828.1 L1192.9,827.7 L1194.1,827.3 L1195.2,827.0 L1196.4,826.6 L1197.6,826.2 L1198.7,825.8 L1199.9,825.4 L1201.1,825.1 L1202.2,824.7 L1203.4,824.3 L1204.6,823.9 L1205.7,823.4 L1206.9,823.0 L1208.1,822.6 L1209.3,822.2 L1210.4,821.8 L1211.6,821.3 L1212.8,820.9 L1213.9,820.4 L1215.1,820.0 L1216.3,819.5 L1217.4,819.1 L1218.6,818.6 L1219.8,818.2 L1220.9,817.7 L1222.1,817.2 L1223.3,816.8 L1224.5,816.3 L1225.6,815.8 L1226.8,815.4 L1228.0,814.9 L1229.1,814.4 L1230.3,814.0 L1231.5,813.6 L1232.6,813.1 L1233.8,812.7 L1235.0,812.3 L1236.1,811.9 L1237.3,811.5 L1238.5,811.1 L1239.7,810.7 L1240.8,810.4 L1242.0,810.0 L1243.2,809.7 L1244.3,809.3 L1245.5,809.0 L1246.7,808.7 L1247.8,808.4 L1249.0,808.1 L1250.2,807.8 L1251.3,807.5 L1252.5,807.2 L1253.7,806.9 L1254.9,806.6 L1256.0,806.3 L1257.2,806.0 L1258.4,805.7 L1259.5,805.5 L1260.7,805.2 L1261.9,804.9 L1263.0,804.6 L1264.2,804.3 L1265.4,804.0 L1266.5,803.7 L1267.7,803.4 L1268.9,803.1 L1270.1,802.8 L1271.2,802.5 L1272.4,802.2 L1273.6,801.9 L1274.7,801.6 L1275.9,801.3 L1277.1,801.0 L1278.2,800.7 L1279.4,800.3 L1280.6,800.0 L1281.7,799.7 L1282.9,799.4 L1284.1,799.0 L1285.3,798.7 L1286.4,798.4 L1287.6,798.0 L1288.8,797.7 L1289.9,797.4 L1291.1,797.0" fill="none" stroke="#00ff00" stroke-width="2.99" stroke-linejoin="round" stroke-linecap="round"/>
<path d="M941.5,1043.0 L942.7,1040.0 L943.8,1037.1 L945.0,1034.1 L946.2,1031.1 L947.3,1028.2 L948.5,1025.2 L949.7,1022.3 L950.9,1019.3 L950.9,1019.1 L952.0,1017.4 L953.2,1015.6 L954.4,1013.8 L955.5,1012.0 L956.5,1010.5 L956.7,1009.9 L957.9,1006.3 L959.0,1002.7 L959.3,1001.8 L960.2,1001.3 L961.4,1000.6 L962.5,999.8 L963.7,999.1 L963.9,999.0 L964.9,996.5 L966.1,993.6 L967.2,990.7 L968.4,987.8 L969.1,986.1 L969.6,986.0 L970.7,985.8 L971.9,985.6 L973.1,985.4 L974.2,985.2 L974.7,985.1 L975.4,983.7 L976.6,981.4 L977.7,979.0 L978.9,976.7 L980.1,974.3 L981.0,972.5 L981.3,971.8 L982.4,968.9 L983.6,965.9 L984.8,962.8 L985.9,959.6 L987.1,956.3 L988.3,953.2 L989.4,950.3 L990.6,947.6 L991.8,945.0 L992.9,942.5 L994.1,940.0 L995.3,937.6 L996.5,935.4 L997.6,933.2 L998.8,931.3 L1000.0,929.5 L1001.1,927.8 L1002.3,926.1 L1003.5,924.5 L1004.6,922.9 L1005.8,921.4 L1007.0,919.9 L1008.1,918.4 L1009.3,917.1 L1010.5,915.7 L1011.7,914.4 L1012.8,913.0 L1014.0,911.7 L1015.2,910.5 L1016.3,909.2 L1017.5,908.0 L1018.7,906.7 L1019.8,905.5 L1021.0,904.3 L1022.2,903.1 L1023.3,902.0 L1024.5,900.8 L1025.7,899.7 L1026.9,898.6 L1028.0,897.5 L1029.2,896.4 L1030.4,895.4 L1031.5,894.3 L1032.7,893.3 L1033.9,892.3 L1035.0,891.3 L1036.2,890.3 L1037.4,889.3 L1038.5,888.3 L1039.7,887.4 L1040.9,886.5 L1042.1,885.6 L1043.2,884.7 L1044.4,883.8 L1045.6,882.9 L1046.7,882.1 L1047.9,881.2 L1049.1,880.4 L1050.2,879.6 L1051.4,878.8 L1052.6,878.0 L1053.7,877.3 L1054.9,876.5 L1056.1,875.7 L1057.3,875.0 L1058.4,874.3 L1059.6,873.6 L1060.8,872.9 L1061.9,872.2 L1063.1,871.5 L1064.3,870.8 L1065.4,870.1 L1066.6,869.5 L1067.8,868.9 L1068.9,868.2 L1070.1,867.6 L1071.3,867.0 L1072.5,866.4 L1073.6,865.8 L1074.8,865.2 L1076.0,864.7 L1077.1,864.1 L1078.3,863.6 L1079.5,863.0 L1080.6,862.5 L1081.8,862.0 L1083.0,861.5 L1084.1,861.0 L1085.3,860.6 L1086.5,860.1 L1087.7,859.7 L1088.8,859.2 L1090.0,858.8 L1091.2,858.4 L1092.3,858.0 L1093.5,857.6 L1094.7,857.2 L1095.8,856.8 L1097.0,856.5 L1098.2,856.1 L1099.3,855.8 L1100.5,855.4 L1101.7,855.1 L1102.9,854.7 L1104.0,854.4 L1105.2,854.1 L1106.4,853.7 L1107.5,853.4 L1108.7,853.0 L1109.9,852.7 L1111.0,852.3 L1112.2,852.0 L1113.4,851.6 L1114.5,851.3 L1115.7,850.9 L1116.9,850.5 L1118.1,850.1 L1119.2,849.7 L1120.4,849.3 L1121.6,848.9 L1122.7,848.5 L1123.9,848.1 L1125.1,847.6 L1126.2,847.2 L1127.4,846.8 L1128.6,846.3 L1129.7,845.9 L1130.9,845.4 L1132.1,844.9 L1133.3,844.5 L1134.4,844.0 L1135.6,843.5 L1136.8,843.0 L1137.9,842.5 L1139.1,842.0 L1140.3,841.5 L1141.4,841.0 L1142.6,840.5 L1143.8,840.0 L1144.9,839.5 L1146.1,838.9 L1147.3,838.4 L1148.5,837.8 L1149.6,837.3 L1150.8,836.7 L1152.0,836.2 L1153.1,835.6 L1154.3,835.1 L1155.5,834.5 L1156.6,834.0 L1157.8,833.4 L1159.0,832.9 L1160.1,832.4 L1161.3,831.9 L1162.5,831.3 L1163.7,830.9 L1164.8,830.4 L1166.0,829.9 L1167.2,829.5 L1168.3,829.0 L1169.5,828.6 L1170.7,828.2 L1171.8,827.8 L1173.0,827.4 L1174.2,827.0 L1175.3,826.6 L1176.5,826.3 L1177.7,825.9 L1178.9,825.6 L1180.0,825.2 L1181.2,824.9 L1182.4,824.5 L1183.5,824.2 L1184.7,823.9 L1185.9,823.6 L1187.0,823.2 L1188.2,822.9 L1189.4,822.6 L1190.5,822.3 L1191.7,822.0 L1192.9,821.6 L1194.1,821.3 L1195.2,821.0 L1196.4,820.7 L1197.6,820.4 L1198.7,820.1 L1199.9,819.8 L1201.1,819.5 L1202.2,819.1 L1203.4,818.8 L1204.6,818.5 L1205.7,818.2 L1206.9,817.9 L1208.1,817.6 L1209.3,817.3 L1210.4,817.0 L1211.6,816.7 L1212.8,816.4 L1213.9,816.1 L1215.1,815.8 L1216.3,815.5 L1217.4,815.2 L1218.6,814.9 L1219.8,814.6 L1220.9,814.3 L1222.1,814.0 L1223.3,813.7 L1224.5,813.5 L1225.6,813.2 L1226.8,812.9 L1228.0,812.6 L1229.1,812.3 L1230.3,812.0 L1231.5,811.7 L1232.6,811.4 L1233.8,811.1 L1235.0,810.8 L1236.1,810.5 L1237.3,810.2 L1238.5,809.9 L1239.7,809.6 L1240.8,809.3 L1242.0,809.0 L1243.2,808.8 L1244.3,808.5 L1245.5,808.2 L1246.7,807.9 L1247.8,807.7 L1249.0,807.4 L1250.2,807.1 L1251.3,806.9 L1252.5,806.6 L1253.7,806.4 L1254.9,806.1 L1256.0,805.9 L1257.2,805.6 L1258.4,805.4 L1259.5,805.2 L1260.7,805.0 L1261.9,804.7 L1263.0,804.5 L1264.2,804.3 L1265.4,804.1 L1266.5,803.9 L1267.7,803.6 L1268.9,803.4 L1270.1,803.2 L1271.2,803.0 L1272.4,802.8 L1273.6,802.6 L1274.7,802.4 L1275.9,802.2 L1277.1,802.0 L1278.2,801.8 L1279.4,801.7 L1280.6,801.5 L1281.7,801.3 L1282.9,801.1 L1284.1,800.9 L1285.3,800.8 L1286.4,800.6 L1287.6,800.4 L1288.8,800.3 L1289.9,800.1 L1291.1,800.0" fill="none" stroke="#7800ff" stroke-width="2.99" stroke-linejoin="round" stroke-linecap="round"/>
<path d="M941.5,1043.0 L942.7,1040.0 L943.8,1037.1 L945.0,1034.1 L946.2,1031.1 L947.3,1028.2 L948.5,1025.2 L949.7,1022.3 L950.9,1019.3 L950.9,1019.1 L952.0,1017.4 L953.2,1015.6 L954.4,1013.8 L955.5,1012.0 L956.5,1010.5 L956.7,1009.9 L957.9,1006.3 L959.0,1002.7 L959.3,1001.8 L960.2,1001.3 L961.4,1000.6 L962.5,999.8 L963.7,999.1 L963.9,999.0 L964.9,996.5 L966.1,993.6 L967.2,990.7 L968.4,987.8 L969.1,986.1 L969.6,986.0 L970.7,985.8 L971.9,985.6 L973.1,985.4 L974.2,985.2 L974.7,985.1 L975.4,983.7 L976.6,981.4 L977.7,979.0 L978.9,976.7 L980.1,974.3 L981.0,972.5 L981.3,971.8 L982.4,968.9 L983.6,965.9 L984.8,962.8 L985.9,959.6 L987.1,956.3 L988.3,953.2 L989.4,950.3 L990.6,947.6 L991.8,945.0 L992.9,942.5 L994.1,940.1 L995.3,937.8 L996.5,935.5 L997.6,933.4 L998.8,931.3 L1000.0,929.4 L1001.1,927.4 L1002.3,925.5 L1003.5,923.7 L1004.6,921.9 L1005.8,920.2 L1007.0,918.6 L1008.1,917.0 L1009.3,915.4 L1010.5,914.0 L1011.7,912.5 L1012.8,911.1 L1014.0,909.8 L1015.2,908.5 L1016.3,907.2 L1017.5,905.9 L1018.7,904.7 L1019.8,903.4 L1021.0,902.2 L1022.2,901.0 L1023.3,899.8 L1024.5,898.7 L1025.7,897.5 L1026.9,896.4 L1028.0,895.3 L1029.2,894.2 L1030.4,893.1 L1031.5,892.1 L1032.7,891.0 L1033.9,890.0 L1035.0,889.0 L1036.2,888.0 L1037.4,887.0 L1038.5,886.0 L1039.7,885.0 L1040.9,884.0 L1042.1,883.1 L1043.2,882.2 L1044.4,881.2 L1045.6,880.3 L1046.7,879.4 L1047.9,878.5 L1049.1,877.7 L1050.2,876.8 L1051.4,875.9 L1052.6,875.1 L1053.7,874.3 L1054.9,873.5 L1056.1,872.7 L1057.3,871.9 L1058.4,871.1 L1059.6,870.4 L1060.8,869.6 L1061.9,868.9 L1063.1,868.2 L1064.3,867.5 L1065.4,866.8 L1066.6,866.1 L1067.8,865.5 L1068.9,864.8 L1070.1,864.2 L1071.3,863.6 L1072.5,863.0 L1073.6,862.5 L1074.8,861.9 L1076.0,861.4 L1077.1,860.9 L1078.3,860.4 L1079.5,859.9 L1080.6,859.4 L1081.8,858.9 L1083.0,858.5 L1084.1,858.0 L1085.3,857.6 L1086.5,857.2 L1087.7,856.8 L1088.8,856.5 L1090.0,856.1 L1091.2,855.7 L1092.3,855.4 L1093.5,855.1 L1094.7,854.7 L1095.8,854.4 L1097.0,854.1 L1098.2,853.8 L1099.3,853.5 L1100.5,853.1 L1101.7,852.8 L1102.9,852.5 L1104.0,852.1 L1105.2,851.8 L1106.4,851.4 L1107.5,851.0 L1108.7,850.6 L1109.9,850.2 L1111.0,849.8 L1112.2,849.4 L1113.4,848.9 L1114.5,848.5 L1115.7,848.0 L1116.9,847.5 L1118.1,847.0 L1119.2,846.5 L1120.4,846.0 L1121.6,845.5 L1122.7,844.9 L1123.9,844.4 L1125.1,843.8 L1126.2,843.3 L1127.4,842.7 L1128.6,842.1 L1129.7,841.5 L1130.9,840.9 L1132.1,840.4 L1133.3,839.8 L1134.4,839.2 L1135.6,838.6 L1136.8,838.0 L1137.9,837.4 L1139.1,836.8 L1140.3,836.2 L1141.4,835.6 L1142.6,835.0 L1143.8,834.4 L1144.9,833.8 L1146.1,833.2 L1147.3,832.6 L1148.5,832.1 L1149.6,831.5 L1150.8,830.9 L1152.0,830.4 L1153.1,829.8 L1154.3,829.2 L1155.5,828.7 L1156.6,828.1 L1157.8,827.6 L1159.0,827.1 L1160.1,826.5 L1161.3,826.0 L1162.5,825.5 L1163.7,825.0 L1164.8,824.5 L1166.0,824.0 L1167.2,823.5 L1168.3,823.0 L1169.5,822.6 L1170.7,822.1 L1171.8,821.6 L1173.0,821.2 L1174.2,820.7 L1175.3,820.3 L1176.5,819.9 L1177.7,819.4 L1178.9,819.0 L1180.0,818.6 L1181.2,818.2 L1182.4,817.7 L1183.5,817.3 L1184.7,816.9 L1185.9,816.5 L1187.0,816.1 L1188.2,815.7 L1189.4,815.3 L1190.5,814.9 L1191.7,814.6 L1192.9,814.2 L1194.1,813.8 L1195.2,813.4 L1196.4,813.0 L1197.6,812.7 L1198.7,812.3 L1199.9,811.9 L1201.1,811.6 L1202.2,811.2 L1203.4,810.9 L1204.6,810.5 L1205.7,810.2 L1206.9,809.8 L1208.1,809.5 L1209.3,809.1 L1210.4,808.8 L1211.6,808.4 L1212.8,808.1 L1213.9,807.7 L1215.1,807.4 L1216.3,807.0 L1217.4,806.7 L1218.6,806.3 L1219.8,806.0 L1220.9,805.6 L1222.1,805.3 L1223.3,804.9 L1224.5,804.6 L1225.6,804.2 L1226.8,803.9 L1228.0,803.5 L1229.1,803.2 L1230.3,802.8 L1231.5,802.5 L1232.6,802.1 L1233.8,801.8 L1235.0,801.4 L1236.1,801.1 L1237.3,800.7 L1238.5,800.4 L1239.7,800.0 L1240.8,799.7 L1242.0,799.3 L1243.2,799.0 L1244.3,798.6 L1245.5,798.3 L1246.7,797.9 L1247.8,797.6 L1249.0,797.2 L1250.2,796.8 L1251.3,796.5 L1252.5,796.1 L1253.7,795.7 L1254.9,795.4 L1256.0,795.0 L1257.2,794.6 L1258.4,794.3 L1259.5,793.9 L1260.7,793.5 L1261.9,793.1 L1263.0,792.8 L1264.2,792.4 L1265.4,792.0 L1266.5,791.6 L1267.7,791.2 L1268.9,790.8 L1270.1,790.4 L1271.2,790.1 L1272.4,789.7 L1273.6,789.3 L1274.7,788.9 L1275.9,788.5 L1277.1,788.1 L1278.2,787.7 L1279.4,787.3 L1280.6,786.9 L1281.7,786.5 L1282.9,786.0 L1284.1,785.6 L1285.3,785.2 L1286.4,784.8 L1287.6,784.4 L1288.8,784.0 L1289.9,783.6 L1291.1,783.2" fill="none" stroke="#ff0000" stroke-width="2.99" stroke-linejoin="round" stroke-linecap="round"/>
<path d="M941.5,1043.0 L942.7,1040.0 L943.8,1037.1 L945.0,1034.1 L946.2,1031.1 L947.3,1028.2 L948.5,1025.2 L949.7,1022.3 L950.9,1019.3 L950.9,1019.1 L952.0,1017.4 L953.2,1015.6 L954.4,1013.8 L955.5,1012.0 L956.5,1010.5 L956.7,1009.9 L957.9,1006.3 L959.0,1002.7 L959.3,1001.8 L960.2,1001.3 L961.4,1000.6 L962.5,999.8 L963.7,999.1 L963.9,999.0 L964.9,996.5 L966.1,993.6 L967.2,990.7 L968.4,987.8 L969.1,986.1 L969.6,986.0 L970.7,985.8 L971.9,985.6 L973.1,985.4 L974.2,985.2 L974.7,985.1 L975.4,983.7 L976.6,981.4 L977.7,979.0 L978.9,976.7 L980.1,974.3 L981.0,972.5 L981.3,971.8 L982.4,968.9 L983.6,965.9 L984.8,962.8 L985.9,959.6 L987.1,956.3 L988.3,953.2 L989.4,950.3 L990.6,947.6 L991.8,944.9 L992.9,942.4 L994.1,939.9 L995.3,937.5 L996.5,935.2 L997.6,933.1 L998.8,931.3 L1000.0,929.7 L1001.1,928.1 L1002.3,926.7 L1003.5,925.3 L1004.6,923.9 L1005.8,922.6 L1007.0,921.3 L1008.1,920.1 L1009.3,918.8 L1010.5,917.6 L1011.7,916.4 L1012.8,915.3 L1014.0,914.1 L1015.2,913.0 L1016.3,911.9 L1017.5,910.9 L1018.7,909.8 L1019.8,908.7 L1021.0,907.7 L1022.2,906.6 L1023.3,905.6 L1024.5,904.6 L1025.7,903.5 L1026.9,902.5 L1028.0,901.5 L1029.2,900.5 L1030.4,899.5 L1031.5,898.5 L1032.7,897.5 L1033.9,896.5 L1035.0,895.5 L1036.2,894.5 L1037.4,893.6 L1038.5,892.6 L1039.7,891.6 L1040.9,890.7 L1042.1,889.8 L1043.2,888.8 L1044.4,887.9 L1045.6,887.0 L1046.7,886.2 L1047.9,885.3 L1049.1,884.4 L1050.2,883.6 L1051.4,882.8 L1052.6,882.0 L1053.7,881.2 L1054.9,880.5 L1056.1,879.7 L1057.3,879.0 L1058.4,878.3 L1059.6,877.6 L1060.8,876.9 L1061.9,876.2 L1063.1,875.5 L1064.3,874.8 L1065.4,874.1 L1066.6,873.5 L1067.8,872.8 L1068.9,872.1 L1070.1,871.5 L1071.3,870.8 L1072.5,870.2 L1073.6,869.5 L1074.8,868.9 L1076.0,868.3 L1077.1,867.7 L1078.3,867.1 L1079.5,866.5 L1080.6,865.9 L1081.8,865.3 L1083.0,864.8 L1084.1,864.3 L1085.3,863.8 L1086.5,863.3 L1087.7,862.8 L1088.8,862.4 L1090.0,862.0 L1091.2,861.6 L1092.3,861.2 L1093.5,860.8 L1094.7,860.5 L1095.8,860.1 L1097.0,859.8 L1098.2,859.5 L1099.3,859.2 L1100.5,858.9 L1101.7,858.6 L1102.9,858.3 L1104.0,858.0 L1105.2,857.7 L1106.4,857.3 L1107.5,857.0 L1108.7,856.7 L1109.9,856.4 L1111.0,856.1 L1112.2,855.7 L1113.4,855.4 L1114.5,855.1 L1115.7,854.7 L1116.9,854.4 L1118.1,854.0 L1119.2,853.7 L1120.4,853.3 L1121.6,852.9 L1122.7,852.5 L1123.9,852.2 L1125.1,851.8 L1126.2,851.4 L1127.4,851.0 L1128.6,850.6 L1129.7,850.2 L1130.9,849.8 L1132.1,849.4 L1133.3,849.0 L1134.4,848.7 L1135.6,848.3 L1136.8,847.9 L1137.9,847.5 L1139.1,847.1 L1140.3,846.7 L1141.4,846.3 L1142.6,846.0 L1143.8,845.6 L1144.9,845.2 L1146.1,844.8 L1147.3,844.5 L1148.5,844.1 L1149.6,843.7 L1150.8,843.4 L1152.0,843.0 L1153.1,842.6 L1154.3,842.3 L1155.5,841.9 L1156.6,841.6 L1157.8,841.2 L1159.0,840.9 L1160.1,840.5 L1161.3,840.2 L1162.5,839.9 L1163.7,839.5 L1164.8,839.2 L1166.0,838.9 L1167.2,838.5 L1168.3,838.2 L1169.5,837.9 L1170.7,837.6 L1171.8,837.3 L1173.0,837.0 L1174.2,836.7 L1175.3,836.4 L1176.5,836.1 L1177.7,835.9 L1178.9,835.6 L1180.0,835.3 L1181.2,835.1 L1182.4,834.8 L1183.5,834.6 L1184.7,834.3 L1185.9,834.1 L1187.0,833.9 L1188.2,833.7 L1189.4,833.4 L1190.5,833.2 L1191.7,833.0 L1192.9,832.8 L1194.1,832.6 L1195.2,832.4 L1196.4,832.2 L1197.6,832.0 L1198.7,831.8 L1199.9,831.6 L1201.1,831.4 L1202.2,831.2 L1203.4,831.0 L1204.6,830.8 L1205.7,830.5 L1206.9,830.3 L1208.1,830.1 L1209.3,829.9 L1210.4,829.6 L1211.6,829.4 L1212.8,829.1 L1213.9,828.9 L1215.1,828.6 L1216.3,828.3 L1217.4,828.1 L1218.6,827.8 L1219.8,827.5 L1220.9,827.3 L1222.1,827.0 L1223.3,826.7 L1224.5,826.4 L1225.6,826.2 L1226.8,825.9 L1228.0,825.6 L1229.1,825.4 L1230.3,825.1 L1231.5,824.9 L1232.6,824.7 L1233.8,824.4 L1235.0,824.2 L1236.1,824.0 L1237.3,823.8 L1238.5,823.6 L1239.7,823.4 L1240.8,823.3 L1242.0,823.1 L1243.2,822.9 L1244.3,822.8 L1245.5,822.6 L1246.7,822.5 L1247.8,822.4 L1249.0,822.3 L1250.2,822.1 L1251.3,822.0 L1252.5,821.9 L1253.7,821.8 L1254.9,821.6 L1256.0,821.5 L1257.2,821.4 L1258.4,821.2 L1259.5,821.1 L1260.7,821.0 L1261.9,820.8 L1263.0,820.7 L1264.2,820.5 L1265.4,820.4 L1266.5,820.2 L1267.7,820.0 L1268.9,819.9 L1270.1,819.7 L1271.2,819.5 L1272.4,819.3 L1273.6,819.1 L1274.7,818.9 L1275.9,818.7 L1277.1,818.5 L1278.2,818.3 L1279.4,818.1 L1280.6,817.9 L1281.7,817.7 L1282.9,817.4 L1284.1,817.2 L1285.3,817.0 L1286.4,816.7 L1287.6,816.5 L1288.8,816.3 L1289.9,816.0 L1291.1,815.8" fill="none" stroke="#ff00ff" stroke-width="2.99" stroke-linejoin="round" stroke-linecap="round"/>
<path d="M941.5,1043.0 L942.7,1040.0 L943.8,1037.1 L945.0,1034.1 L946.2,1031.1 L947.3,1028.2 L948.5,1025.2 L949.7,1022.3 L950.9,1019.3 L950.9,1019.1 L952.0,1017.4 L953.2,1015.6 L954.4,1013.8 L955.5,1012.0 L956.5,1010.5 L956.7,1009.9 L957.9,1006.3 L959.0,1002.7 L959.3,1001.8 L960.2,1001.3 L961.4,1000.6 L962.5,999.8 L963.7,999.1 L963.9,999.0 L964.9,996.5 L966.1,993.6 L967.2,990.7 L968.4,987.8 L969.1,986.1 L969.6,986.0 L970.7,985.8 L971.9,985.6 L973.1,985.4 L974.2,985.2 L974.7,985.1 L975.4,983.7 L976.6,981.4 L977.7,979.0 L978.9,976.7 L980.1,974.3 L981.0,972.5 L981.3,971.8 L982.4,968.9 L983.6,965.9 L984.8,962.8 L985.9,959.6 L987.1,956.3 L988.3,953.2 L989.4,950.3 L990.6,947.6 L991.8,945.0 L992.9,942.6 L994.1,940.2 L995.3,937.9 L996.5,935.6 L997.6,933.4 L998.8,931.3 L1000.0,929.3 L1001.1,927.2 L1002.3,925.1 L1003.5,923.1 L1004.6,921.2 L1005.8,919.3 L1007.0,917.5 L1008.1,915.8 L1009.3,914.1 L1010.5,912.6 L1011.7,911.0 L1012.8,909.5 L1014.0,908.1 L1015.2,906.7 L1016.3,905.3 L1017.5,904.0 L1018.7,902.6 L1019.8,901.3 L1021.0,900.0 L1022.2,898.8 L1023.3,897.5 L1024.5,896.3 L1025.7,895.2 L1026.9,894.0 L1028.0,892.9 L1029.2,891.7 L1030.4,890.6 L1031.5,889.6 L1032.7,888.5 L1033.9,887.4 L1035.0,886.4 L1036.2,885.4 L1037.4,884.4 L1038.5,883.4 L1039.7,882.4 L1040.9,881.4 L1042.1,880.4 L1043.2,879.5 L1044.4,878.5 L1045.6,877.6 L1046.7,876.6 L1047.9,875.7 L1049.1,874.8 L1050.2,873.9 L1051.4,873.0 L1052.6,872.2 L1053.7,871.3 L1054.9,870.4 L1056.1,869.6 L1057.3,868.8 L1058.4,868.0 L1059.6,867.2 L1060.8,866.4 L1061.9,865.6 L1063.1,864.9 L1064.3,864.2 L1065.4,863.5 L1066.6,862.8 L1067.8,862.1 L1068.9,861.5 L1070.1,860.9 L1071.3,860.3 L1072.5,859.7 L1073.6,859.1 L1074.8,858.6 L1076.0,858.1 L1077.1,857.5 L1078.3,857.0 L1079.5,856.6 L1080.6,856.1 L1081.8,855.6 L1083.0,855.2 L1084.1,854.7 L1085.3,854.3 L1086.5,853.8 L1087.7,853.4 L1088.8,853.0 L1090.0,852.5 L1091.2,852.1 L1092.3,851.7 L1093.5,851.3 L1094.7,850.9 L1095.8,850.5 L1097.0,850.1 L1098.2,849.7 L1099.3,849.3 L1100.5,848.9 L1101.7,848.6 L1102.9,848.2 L1104.0,847.8 L1105.2,847.5 L1106.4,847.1 L1107.5,846.8 L1108.7,846.4 L1109.9,846.1 L1111.0,845.8 L1112.2,845.5 L1113.4,845.2 L1114.5,844.9 L1115.7,844.6 L1116.9,844.3 L1118.1,844.0 L1119.2,843.7 L1120.4,843.4 L1121.6,843.1 L1122.7,842.8 L1123.9,842.5 L1125.1,842.2 L1126.2,841.9 L1127.4,841.7 L1128.6,841.4 L1129.7,841.1 L1130.9,840.8 L1132.1,840.5 L1133.3,840.2 L1134.4,839.8 L1135.6,839.5 L1136.8,839.2 L1137.9,838.8 L1139.1,838.5 L1140.3,838.1 L1141.4,837.8 L1142.6,837.4 L1143.8,837.0 L1144.9,836.6 L1146.1,836.2 L1147.3,835.8 L1148.5,835.5 L1149.6,835.1 L1150.8,834.7 L1152.0,834.3 L1153.1,833.9 L1154.3,833.5 L1155.5,833.1 L1156.6,832.7 L1157.8,832.3 L1159.0,831.9 L1160.1,831.5 L1161.3,831.2 L1162.5,830.8 L1163.7,830.5 L1164.8,830.1 L1166.0,829.8 L1167.2,829.4 L1168.3,829.1 L1169.5,828.8 L1170.7,828.5 L1171.8,828.2 L1173.0,827.9 L1174.2,827.6 L1175.3,827.3 L1176.5,827.1 L1177.7,826.8 L1178.9,826.5 L1180.0,826.2 L1181.2,826.0 L1182.4,825.7 L1183.5,825.5 L1184.7,825.2 L1185.9,824.9 L1187.0,824.7 L1188.2,824.4 L1189.4,824.2 L1190.5,823.9 L1191.7,823.7 L1192.9,823.4 L1194.1,823.1 L1195.2,822.9 L1196.4,822.6 L1197.6,822.4 L1198.7,822.1 L1199.9,821.8 L1201.1,821.6 L1202.2,821.3 L1203.4,821.1 L1204.6,820.8 L1205.7,820.5 L1206.9,820.3 L1208.1,820.0 L1209.3,819.8 L1210.4,819.5 L1211.6,819.3 L1212.8,819.0 L1213.9,818.8 L1215.1,818.5 L1216.3,818.3 L1217.4,818.1 L1218.6,817.8 L1219.8,817.6 L1220.9,817.4 L1222.1,817.2 L1223.3,817.0 L1224.5,816.8 L1225.6,816.6 L1226.8,816.4 L1228.0,816.3 L1229.1,816.1 L1230.3,815.9 L1231.5,815.8 L1232.6,815.6 L1233.8,815.4 L1235.0,815.3 L1236.1,815.1 L1237.3,815.0 L1238.5,814.8 L1239.7,814.7 L1240.8,814.6 L1242.0,814.4 L1243.2,814.3 L1244.3,814.1 L1245.5,814.0 L1246.7,813.8 L1247.8,813.7 L1249.0,813.5 L1250.2,813.3 L1251.3,813.2 L1252.5,813.0 L1253.7,812.8 L1254.9,812.7 L1256.0,812.5 L1257.2,812.3 L1258.4,812.1 L1259.5,811.9 L1260.7,811.7 L1261.9,811.6 L1263.0,811.4 L1264.2,811.1 L1265.4,810.9 L1266.5,810.7 L1267.7,810.5 L1268.9,810.3 L1270.1,810.1 L1271.2,809.9 L1272.4,809.6 L1273.6,809.4 L1274.7,809.2 L1275.9,808.9 L1277.1,808.7 L1278.2,808.4 L1279.4,808.2 L1280.6,808.0 L1281.7,807.7 L1282.9,807.5 L1284.1,807.2 L1285.3,806.9 L1286.4,806.7 L1287.6,806.4 L1288.8,806.2 L1289.9,805.9 L1291.1,805.6" fill="none" stroke="#0000ff" stroke-width="2.99" stroke-linejoin="round" stroke-linecap="round"/>
<rect x="941.5" y="755.9" width="349.6" height="287.1" fill="none" stroke="#3c3c3c" stroke-width="2.09"/>
<path d="M941.5,1043.0V1049.0M1011.4,1043.0V1049.0M1081.3,1043.0V1049.0M1151.3,1043.0V1049.0M1221.2,1043.0V1049.0M1291.1,1043.0V1049.0M976.5,1043.0V1046.6M1046.4,1043.0V1046.6M1116.3,1043.0V1046.6M1186.2,1043.0V1046.6M1256.1,1043.0V1046.6M941.5,1043.0H935.5M941.5,995.1H935.5M941.5,947.3H935.5M941.5,899.5H935.5M941.5,851.6H935.5M941.5,803.8H935.5M941.5,755.9H935.5M941.5,1019.1H937.9M941.5,971.2H937.9M941.5,923.4H937.9M941.5,875.5H937.9M941.5,827.7H937.9M941.5,779.8H937.9" stroke="#2b2b2b" stroke-width="1.89" fill="none"/>
<text x="941.5" y="1063.9" font-size="14.4" text-anchor="middle" font-family="'Liberation Sans', sans-serif" font-weight="bold" fill="#1a1a1a" color="#1a1a1a">0</text>
<text x="1011.4" y="1063.9" font-size="14.4" text-anchor="middle" font-family="'Liberation Sans', sans-serif" font-weight="bold" fill="#1a1a1a" color="#1a1a1a">70</text>
<text x="1081.3" y="1063.9" font-size="14.4" text-anchor="middle" font-family="'Liberation Sans', sans-serif" font-weight="bold" fill="#1a1a1a" color="#1a1a1a">140</text>
<text x="1151.3" y="1063.9" font-size="14.4" text-anchor="middle" font-family="'Liberation Sans', sans-serif" font-weight="bold" fill="#1a1a1a" color="#1a1a1a">210</text>
<text x="1221.2" y="1063.9" font-size="14.4" text-anchor="middle" font-family="'Liberation Sans', sans-serif" font-weight="bold" fill="#1a1a1a" color="#1a1a1a">280</text>
<text x="1290.1" y="1063.9" font-size="14.4" text-anchor="middle" font-family="'Liberation Sans', sans-serif" font-weight="bold" fill="#1a1a1a" color="#1a1a1a">310</text>
<rect x="1301.4" y="1055.0" width="2.6" height="7.2" fill="#9fd0ff"/>
<text x="931.7" y="1047.6" font-size="12.7" text-anchor="end" font-family="'Liberation Sans', sans-serif" font-weight="bold" fill="#1a1a1a" color="#1a1a1a">0.0</text>
<text x="931.7" y="999.7" font-size="12.7" text-anchor="end" font-family="'Liberation Sans', sans-serif" font-weight="bold" fill="#1a1a1a" color="#1a1a1a">0.5</text>
<text x="931.7" y="951.9" font-size="12.7" text-anchor="end" font-family="'Liberation Sans', sans-serif" font-weight="bold" fill="#1a1a1a" color="#1a1a1a">1.0</text>
<text x="931.7" y="904.0" font-size="12.7" text-anchor="end" font-family="'Liberation Sans', sans-serif" font-weight="bold" fill="#1a1a1a" color="#1a1a1a">1.5</text>
<text x="931.7" y="856.2" font-size="12.7" text-anchor="end" font-family="'Liberation Sans', sans-serif" font-weight="bold" fill="#1a1a1a" color="#1a1a1a">2.0</text>
<text x="931.7" y="808.3" font-size="12.7" text-anchor="end" font-family="'Liberation Sans', sans-serif" font-weight="bold" fill="#1a1a1a" color="#1a1a1a">2.5</text>
<text x="931.7" y="760.5" font-size="12.7" text-anchor="end" font-family="'Liberation Sans', sans-serif" font-weight="bold" fill="#1a1a1a" color="#1a1a1a">3.0</text>
<rect x="952.2" y="761.6" width="236.3" height="19.6" fill="#fff"/><path d="M952.2,781.2V761.6M951.3,761.6H1188.5" stroke="#b0b0b0" stroke-width="1.79" fill="none"/><path d="M951.3,781.2H1188.5V760.7" stroke="#858585" stroke-width="1.79" fill="none" stroke-linejoin="round"/>
<text x="959.5" y="777.6" font-size="14.7" font-family="'Liberation Serif', serif" font-weight="bold" fill="#161616" color="#161616" textLength="219.9" lengthAdjust="spacingAndGlyphs">RMSF in term of Hydrogen bond</text>
<rect x="1219.7" y="931.8" width="62.6" height="97.6" fill="#fff"/><path d="M1219.7,1029.4V931.8M1218.8,931.8H1282.3" stroke="#b0b0b0" stroke-width="1.89" fill="none"/><path d="M1218.8,1029.4H1282.3V930.9" stroke="#858585" stroke-width="1.89" fill="none" stroke-linejoin="round"/>
<path d="M1226.1,942.6H1259.1" stroke="#00ff00" stroke-width="3.59" stroke-linecap="round"/>
<text x="1263.8" y="947.0" font-size="15.5" font-family="'Liberation Serif', serif" font-weight="bold" fill="#161616" color="#161616" textLength="15.1" lengthAdjust="spacingAndGlyphs">01</text>
<path d="M1226.1,962.9H1259.1" stroke="#7800ff" stroke-width="3.59" stroke-linecap="round"/>
<text x="1263.8" y="967.3" font-size="15.5" font-family="'Liberation Serif', serif" font-weight="bold" fill="#161616" color="#161616" textLength="15.1" lengthAdjust="spacingAndGlyphs">02</text>
<path d="M1226.1,982.2H1259.1" stroke="#ff0000" stroke-width="3.59" stroke-linecap="round"/>
<text x="1263.8" y="986.6" font-size="15.5" font-family="'Liberation Serif', serif" font-weight="bold" fill="#161616" color="#161616" textLength="15.1" lengthAdjust="spacingAndGlyphs">03</text>
<path d="M1226.1,1001.8H1259.1" stroke="#ff00ff" stroke-width="3.59" stroke-linecap="round"/>
<text x="1263.8" y="1006.2" font-size="15.5" font-family="'Liberation Serif', serif" font-weight="bold" fill="#161616" color="#161616" textLength="15.1" lengthAdjust="spacingAndGlyphs">04</text>
<path d="M1226.1,1021.0H1259.1" stroke="#0000ff" stroke-width="3.59" stroke-linecap="round"/>
<text x="1263.8" y="1025.4" font-size="15.5" font-family="'Liberation Serif', serif" font-weight="bold" fill="#161616" color="#161616" textLength="15.1" lengthAdjust="spacingAndGlyphs">05</text>
<text x="1050.8" y="1079.6" font-size="15.5" font-family="'Liberation Serif', serif" font-weight="bold" fill="#161616" color="#161616" textLength="132.0" lengthAdjust="spacingAndGlyphs">Amino acid residues</text>
<text transform="translate(909.9,931.3) rotate(-90)" x="0" y="0" font-size="16.2" font-family="'Liberation Serif', serif" font-weight="bold" fill="#161616" color="#161616" textLength="42.8" lengthAdjust="spacingAndGlyphs">RMSF</text>
<text x="1084.7" y="1111.9" font-size="29.5" font-family="'Liberation Serif', serif" fill="#000" color="#000" style="stroke-width:0" textLength="28.0" lengthAdjust="spacingAndGlyphs">(<tspan font-weight="bold" style="stroke-width:0.3px">i</tspan>)</text>
</svg>
</body></html>
